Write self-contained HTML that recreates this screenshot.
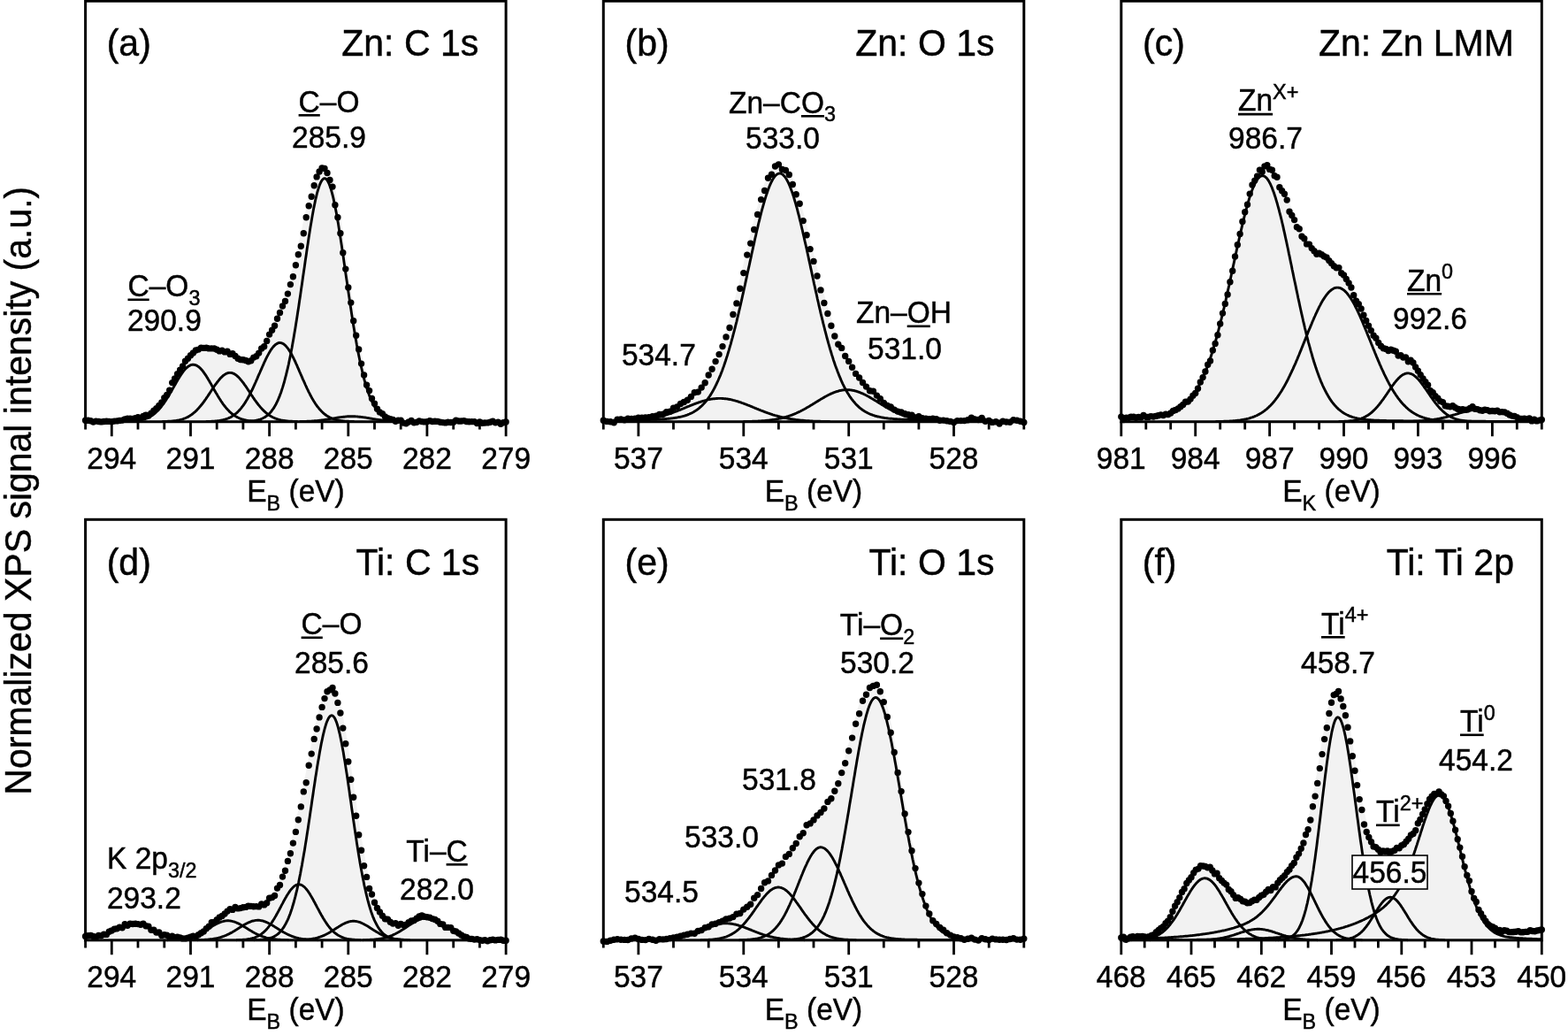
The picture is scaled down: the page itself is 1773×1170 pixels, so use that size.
<!DOCTYPE html>
<html lang="en">
<head>
<meta charset="utf-8">
<title>XPS spectra</title>
<style>
html,body{margin:0;padding:0;background:#fff;}
body{width:1773px;height:1170px;overflow:hidden;}
svg{display:block;}
svg text{font-family:"Liberation Sans", sans-serif;fill:#000;stroke:#000;stroke-width:0.45px;}
</style>
</head>
<body>
<svg width="1773" height="1170" viewBox="0 0 1773 1170">
<rect x="0" y="0" width="1773" height="1170" fill="#fff"/>
<polygon points="96.6,476.7 96.6,476.7 97.6,476.7 98.5,476.7 99.5,476.7 100.4,476.7 101.4,476.7 102.3,476.7 103.3,476.6 104.2,476.6 105.2,476.6 106.1,476.6 107.1,476.6 108,476.6 109,476.6 109.9,476.6 110.9,476.6 111.8,476.6 112.8,476.5 113.8,476.5 114.7,476.5 115.7,476.5 116.6,476.5 117.6,476.4 118.5,476.4 119.5,476.4 120.4,476.3 121.4,476.3 122.3,476.3 123.3,476.2 124.2,476.2 125.2,476.2 126.1,476.1 127.1,476.1 128,476 129,476 130,475.9 130.9,475.8 131.9,475.8 132.8,475.7 133.8,475.6 134.7,475.5 135.7,475.4 136.6,475.4 137.6,475.3 138.5,475.2 139.5,475.1 140.4,475 141.4,474.8 142.3,474.7 143.3,474.6 144.2,474.5 145.2,474.3 146.2,474.2 147.1,474 148.1,473.9 149,473.7 150,473.5 150.9,473.4 151.9,473.2 152.8,473 153.8,472.8 154.7,472.5 155.7,472.3 156.6,472 157.6,471.8 158.5,471.5 159.5,471.2 160.4,470.9 161.4,470.6 162.4,470.2 163.3,469.8 164.3,469.4 165.2,469 166.2,468.6 167.1,468.1 168.1,467.6 169,467 170,466.4 170.9,465.8 171.9,465.2 172.8,464.5 173.8,463.7 174.7,462.9 175.7,462.1 176.6,461.2 177.6,460.3 178.5,459.3 179.5,458.3 180.5,457.2 181.4,456.1 182.4,454.9 183.3,453.7 184.3,452.4 185.2,451.1 186.2,449.7 187.1,448.2 188.1,446.7 189,445.2 190,443.6 190.9,442 191.9,440.4 192.8,438.7 193.8,437 194.7,435.2 195.7,433.5 196.7,431.7 197.6,429.9 198.6,428.1 199.5,426.3 200.5,424.5 201.4,422.7 202.4,420.9 203.3,419.1 204.3,417.4 205.2,415.7 206.2,414.1 207.1,412.4 208.1,410.9 209,409.3 210,407.9 210.9,406.5 211.9,405.1 212.9,403.9 213.8,402.7 214.8,401.5 215.7,400.5 216.7,399.5 217.6,398.6 218.6,397.7 219.5,396.9 220.5,396.2 221.4,395.6 222.4,395.1 223.3,394.6 224.3,394.2 225.2,393.8 226.2,393.5 227.1,393.2 228.1,393 229.1,392.9 230,392.8 231,392.7 231.9,392.7 232.9,392.7 233.8,392.7 234.8,392.8 235.7,392.8 236.7,392.9 237.6,393.1 238.6,393.2 239.5,393.3 240.5,393.5 241.4,393.7 242.4,393.8 243.3,394 244.3,394.2 245.3,394.4 246.2,394.6 247.2,394.8 248.1,395.1 249.1,395.3 250,395.6 251,395.8 251.9,396.1 252.9,396.4 253.8,396.7 254.8,397.1 255.7,397.4 256.7,397.8 257.6,398.2 258.6,398.6 259.5,399 260.5,399.4 261.5,399.9 262.4,400.3 263.4,400.8 264.3,401.3 265.3,401.8 266.2,402.2 267.2,402.7 268.1,403.2 269.1,403.7 270,404.1 271,404.5 271.9,404.9 272.9,405.3 273.8,405.6 274.8,405.9 275.7,406.2 276.7,406.4 277.7,406.5 278.6,406.6 279.6,406.6 280.5,406.5 281.5,406.4 282.4,406.1 283.4,405.8 284.3,405.5 285.3,405 286.2,404.4 287.2,403.8 288.1,403 289.1,402.2 290,401.3 291,400.3 291.9,399.2 292.9,398.1 293.9,396.8 294.8,395.5 295.8,394.1 296.7,392.7 297.7,391.2 298.6,389.6 299.6,388 300.5,386.3 301.5,384.6 302.4,382.8 303.4,381 304.3,379.1 305.3,377.3 306.2,375.4 307.2,373.4 308.1,371.5 309.1,369.5 310.1,367.5 311,365.5 312,363.4 312.9,361.3 313.9,359.2 314.8,357.1 315.8,355 316.7,352.8 317.7,350.6 318.6,348.3 319.6,346 320.5,343.6 321.5,341.2 322.4,338.7 323.4,336.1 324.3,333.5 325.3,330.8 326.3,328 327.2,325.1 328.2,322.1 329.1,319 330.1,315.8 331,312.5 332,309.1 332.9,305.6 333.9,301.9 334.8,298.2 335.8,294.4 336.7,290.4 337.7,286.4 338.6,282.2 339.6,278 340.5,273.7 341.5,269.4 342.4,265 343.4,260.5 344.4,256.1 345.3,251.6 346.3,247.1 347.2,242.7 348.2,238.3 349.1,234 350.1,229.8 351,225.7 352,221.7 352.9,217.8 353.9,214.2 354.8,210.7 355.8,207.4 356.7,204.4 357.7,201.6 358.6,199 359.6,196.8 360.6,194.9 361.5,193.3 362.5,192 363.4,191 364.4,190.4 365.3,190.2 366.3,190.4 367.2,190.9 368.2,191.8 369.1,193 370.1,194.7 371,196.7 372,199.1 372.9,201.9 373.9,205 374.8,208.4 375.8,212.2 376.8,216.3 377.7,220.7 378.7,225.4 379.6,230.4 380.6,235.6 381.5,241.1 382.5,246.7 383.4,252.6 384.4,258.6 385.3,264.8 386.3,271.1 387.2,277.5 388.2,284 389.1,290.6 390.1,297.2 391,303.8 392,310.4 393,317 393.9,323.6 394.9,330.1 395.8,336.5 396.8,342.9 397.7,349.2 398.7,355.3 399.6,361.3 400.6,367.2 401.5,372.9 402.5,378.5 403.4,383.9 404.4,389.1 405.3,394.2 406.3,399.1 407.2,403.8 408.2,408.3 409.2,412.6 410.1,416.8 411.1,420.7 412,424.5 413,428.1 413.9,431.5 414.9,434.7 415.8,437.8 416.8,440.7 417.7,443.4 418.7,445.9 419.6,448.3 420.6,450.6 421.5,452.7 422.5,454.7 423.4,456.5 424.4,458.2 425.4,459.8 426.3,461.3 427.3,462.6 428.2,463.9 429.2,465.1 430.1,466.1 431.1,467.1 432,468 433,468.9 433.9,469.6 434.9,470.3 435.8,471 436.8,471.6 437.7,472.1 438.7,472.6 439.6,473 440.6,473.4 441.6,473.8 442.5,474.1 443.5,474.4 444.4,474.6 445.4,474.9 446.3,475.1 447.3,475.3 448.2,475.4 449.2,475.6 450.1,475.7 451.1,475.8 452,475.9 453,476 453.9,476.1 454.9,476.2 455.8,476.3 456.8,476.3 457.8,476.4 458.7,476.4 459.7,476.4 460.6,476.5 461.6,476.5 462.5,476.5 463.5,476.6 464.4,476.6 465.4,476.6 466.3,476.6 467.3,476.6 468.2,476.6 469.2,476.6 470.1,476.7 471.1,476.7 472,476.7 473,476.7 474,476.7 474.9,476.7 475.9,476.7 476.8,476.7 477.8,476.7 478.7,476.7 479.7,476.7 480.6,476.7 481.6,476.7 482.5,476.7 483.5,476.7 484.4,476.7 485.4,476.7 486.3,476.7 487.3,476.7 488.2,476.7 489.2,476.7 490.2,476.7 491.1,476.7 492.1,476.7 493,476.7 494,476.7 494.9,476.7 495.9,476.7 496.8,476.7 497.8,476.7 498.7,476.7 499.7,476.7 500.6,476.7 501.6,476.7 502.5,476.7 503.5,476.7 504.4,476.7 505.4,476.7 506.3,476.7 507.3,476.7 508.3,476.7 509.2,476.7 510.2,476.7 511.1,476.7 512.1,476.7 513,476.7 514,476.7 514.9,476.7 515.9,476.7 516.8,476.7 517.8,476.7 518.7,476.7 519.7,476.7 520.6,476.7 521.6,476.7 522.5,476.7 523.5,476.7 524.5,476.7 525.4,476.7 526.4,476.7 527.3,476.7 528.3,476.7 529.2,476.7 530.2,476.7 531.1,476.7 532.1,476.7 533,476.7 534,476.7 534.9,476.7 535.9,476.7 536.8,476.7 537.8,476.7 538.7,476.7 539.7,476.7 540.7,476.7 541.6,476.7 542.6,476.7 543.5,476.7 544.5,476.7 545.4,476.7 546.4,476.7 547.3,476.7 548.3,476.7 549.2,476.7 550.2,476.7 551.1,476.7 552.1,476.7 553,476.7 554,476.7 554.9,476.7 555.9,476.7 556.9,476.7 557.8,476.7 558.8,476.7 559.7,476.7 560.7,476.7 561.6,476.7 562.6,476.7 563.5,476.7 564.5,476.7 565.4,476.7 566.4,476.7 567.3,476.7 568.3,476.7 569.2,476.7 570.2,476.7 571.1,476.7 572.1,476.7 572.1,476.7" fill="#f2f2f2" stroke="#f2f2f2" stroke-width="5" stroke-linejoin="round"/>
<polyline points="141.4,476.6 142.3,476.5 143.3,476.5 144.2,476.5 145.2,476.4 146.2,476.4 147.1,476.4 148.1,476.3 149,476.2 150,476.2 150.9,476.1 151.9,476 152.8,475.9 153.8,475.8 154.7,475.7 155.7,475.6 156.6,475.4 157.6,475.3 158.5,475.1 159.5,474.9 160.4,474.6 161.4,474.4 162.4,474.1 163.3,473.8 164.3,473.5 165.2,473.2 166.2,472.8 167.1,472.4 168.1,471.9 169,471.4 170,470.9 170.9,470.3 171.9,469.7 172.8,469.1 173.8,468.4 174.7,467.6 175.7,466.8 176.6,465.9 177.6,465 178.5,464.1 179.5,463.1 180.5,462 181.4,460.9 182.4,459.7 183.3,458.5 184.3,457.2 185.2,455.9 186.2,454.5 187.1,453.1 188.1,451.6 189,450.1 190,448.6 190.9,447 191.9,445.4 192.8,443.8 193.8,442.1 194.7,440.4 195.7,438.7 196.7,437.1 197.6,435.4 198.6,433.7 199.5,432 200.5,430.4 201.4,428.8 202.4,427.2 203.3,425.7 204.3,424.2 205.2,422.8 206.2,421.4 207.1,420.1 208.1,418.9 209,417.8 210,416.8 210.9,415.8 211.9,415 212.9,414.2 213.8,413.6 214.8,413.1 215.7,412.7 216.7,412.4 217.6,412.2 218.6,412.2 219.5,412.3 220.5,412.5 221.4,412.8 222.4,413.2 223.3,413.8 224.3,414.4 225.2,415.2 226.2,416 227.1,417 228.1,418.1 229.1,419.2 230,420.5 231,421.8 231.9,423.1 232.9,424.6 233.8,426.1 234.8,427.6 235.7,429.2 236.7,430.8 237.6,432.5 238.6,434.1 239.5,435.8 240.5,437.5 241.4,439.2 242.4,440.9 243.3,442.5 244.3,444.2 245.3,445.8 246.2,447.4 247.2,449 248.1,450.5 249.1,452 250,453.5 251,454.9 251.9,456.3 252.9,457.6 253.8,458.8 254.8,460 255.7,461.2 256.7,462.3 257.6,463.3 258.6,464.3 259.5,465.3 260.5,466.2 261.5,467 262.4,467.8 263.4,468.5 264.3,469.2 265.3,469.9 266.2,470.5 267.2,471 268.1,471.6 269.1,472 270,472.5 271,472.9 271.9,473.3 272.9,473.6 273.8,473.9 274.8,474.2 275.7,474.5 276.7,474.7 277.7,474.9 278.6,475.1 279.6,475.3 280.5,475.5 281.5,475.6 282.4,475.7 283.4,475.8 284.3,475.9 285.3,476 286.2,476.1 287.2,476.2 288.1,476.3 289.1,476.3 290,476.4 291,476.4 291.9,476.4 292.9,476.5 293.9,476.5 294.8,476.5 295.8,476.6" fill="none" stroke="#000" stroke-width="2.9" stroke-linejoin="round"/>
<polyline points="183.3,476.6 184.3,476.5 185.2,476.5 186.2,476.5 187.1,476.5 188.1,476.4 189,476.4 190,476.3 190.9,476.3 191.9,476.2 192.8,476.2 193.8,476.1 194.7,476 195.7,475.9 196.7,475.8 197.6,475.7 198.6,475.6 199.5,475.4 200.5,475.2 201.4,475.1 202.4,474.9 203.3,474.7 204.3,474.4 205.2,474.2 206.2,473.9 207.1,473.6 208.1,473.2 209,472.9 210,472.5 210.9,472 211.9,471.6 212.9,471.1 213.8,470.5 214.8,469.9 215.7,469.3 216.7,468.7 217.6,468 218.6,467.2 219.5,466.4 220.5,465.6 221.4,464.7 222.4,463.8 223.3,462.8 224.3,461.8 225.2,460.7 226.2,459.6 227.1,458.5 228.1,457.3 229.1,456 230,454.8 231,453.5 231.9,452.1 232.9,450.8 233.8,449.4 234.8,448 235.7,446.6 236.7,445.1 237.6,443.7 238.6,442.2 239.5,440.8 240.5,439.3 241.4,437.9 242.4,436.5 243.3,435.2 244.3,433.8 245.3,432.5 246.2,431.3 247.2,430.1 248.1,428.9 249.1,427.8 250,426.8 251,425.9 251.9,425 252.9,424.2 253.8,423.6 254.8,423 255.7,422.4 256.7,422 257.6,421.7 258.6,421.5 259.5,421.4 260.5,421.4 261.5,421.5 262.4,421.7 263.4,422 264.3,422.4 265.3,422.9 266.2,423.5 267.2,424.2 268.1,425 269.1,425.8 270,426.8 271,427.8 271.9,428.9 272.9,430 273.8,431.2 274.8,432.4 275.7,433.7 276.7,435.1 277.7,436.4 278.6,437.8 279.6,439.3 280.5,440.7 281.5,442.1 282.4,443.6 283.4,445 284.3,446.5 285.3,447.9 286.2,449.3 287.2,450.7 288.1,452.1 289.1,453.4 290,454.7 291,456 291.9,457.2 292.9,458.4 293.9,459.6 294.8,460.7 295.8,461.7 296.7,462.8 297.7,463.7 298.6,464.7 299.6,465.5 300.5,466.4 301.5,467.2 302.4,467.9 303.4,468.6 304.3,469.3 305.3,469.9 306.2,470.5 307.2,471 308.1,471.5 309.1,472 310.1,472.4 311,472.8 312,473.2 312.9,473.5 313.9,473.9 314.8,474.1 315.8,474.4 316.7,474.6 317.7,474.9 318.6,475.1 319.6,475.2 320.5,475.4 321.5,475.5 322.4,475.7 323.4,475.8 324.3,475.9 325.3,476 326.3,476.1 327.2,476.2 328.2,476.2 329.1,476.3 330.1,476.3 331,476.4 332,476.4 332.9,476.5 333.9,476.5 334.8,476.5 335.8,476.5 336.7,476.6" fill="none" stroke="#000" stroke-width="2.9" stroke-linejoin="round"/>
<polyline points="232.9,476.6 233.8,476.5 234.8,476.5 235.7,476.5 236.7,476.4 237.6,476.4 238.6,476.4 239.5,476.3 240.5,476.3 241.4,476.2 242.4,476.1 243.3,476 244.3,476 245.3,475.9 246.2,475.7 247.2,475.6 248.1,475.5 249.1,475.3 250,475.2 251,475 251.9,474.8 252.9,474.5 253.8,474.3 254.8,474 255.7,473.7 256.7,473.4 257.6,473 258.6,472.6 259.5,472.2 260.5,471.7 261.5,471.2 262.4,470.6 263.4,470 264.3,469.4 265.3,468.7 266.2,467.9 267.2,467.1 268.1,466.3 269.1,465.4 270,464.4 271,463.4 271.9,462.3 272.9,461.1 273.8,459.9 274.8,458.6 275.7,457.3 276.7,455.9 277.7,454.4 278.6,452.8 279.6,451.2 280.5,449.5 281.5,447.8 282.4,446 283.4,444.1 284.3,442.2 285.3,440.3 286.2,438.3 287.2,436.2 288.1,434.1 289.1,432 290,429.8 291,427.6 291.9,425.4 292.9,423.2 293.9,421 294.8,418.8 295.8,416.6 296.7,414.5 297.7,412.3 298.6,410.2 299.6,408.2 300.5,406.2 301.5,404.2 302.4,402.4 303.4,400.6 304.3,398.9 305.3,397.2 306.2,395.7 307.2,394.3 308.1,393.1 309.1,391.9 310.1,390.9 311,390 312,389.2 312.9,388.6 313.9,388.1 314.8,387.7 315.8,387.5 316.7,387.5 317.7,387.6 318.6,387.9 319.6,388.3 320.5,388.8 321.5,389.5 322.4,390.3 323.4,391.3 324.3,392.4 325.3,393.6 326.3,394.9 327.2,396.4 328.2,397.9 329.1,399.6 330.1,401.3 331,403.1 332,405 332.9,407 333.9,409 334.8,411.1 335.8,413.2 336.7,415.4 337.7,417.6 338.6,419.8 339.6,422 340.5,424.2 341.5,426.4 342.4,428.6 343.4,430.7 344.4,432.9 345.3,435 346.3,437.1 347.2,439.1 348.2,441.1 349.1,443.1 350.1,444.9 351,446.8 352,448.6 352.9,450.3 353.9,451.9 354.8,453.5 355.8,455 356.7,456.5 357.7,457.9 358.6,459.2 359.6,460.4 360.6,461.6 361.5,462.8 362.5,463.8 363.4,464.8 364.4,465.8 365.3,466.7 366.3,467.5 367.2,468.3 368.2,469 369.1,469.7 370.1,470.3 371,470.9 372,471.4 372.9,471.9 373.9,472.3 374.8,472.8 375.8,473.1 376.8,473.5 377.7,473.8 378.7,474.1 379.6,474.4 380.6,474.6 381.5,474.8 382.5,475 383.4,475.2 384.4,475.4 385.3,475.5 386.3,475.7 387.2,475.8 388.2,475.9 389.1,476 390.1,476.1 391,476.2 392,476.2 393,476.3 393.9,476.3 394.9,476.4 395.8,476.4 396.8,476.5 397.7,476.5 398.7,476.5 399.6,476.5 400.6,476.6" fill="none" stroke="#000" stroke-width="2.9" stroke-linejoin="round"/>
<polyline points="273.8,476.6 274.8,476.5 275.7,476.5 276.7,476.5 277.7,476.4 278.6,476.4 279.6,476.3 280.5,476.3 281.5,476.2 282.4,476.2 283.4,476.1 284.3,476 285.3,475.9 286.2,475.8 287.2,475.6 288.1,475.5 289.1,475.3 290,475.1 291,474.9 291.9,474.7 292.9,474.4 293.9,474.1 294.8,473.8 295.8,473.4 296.7,473 297.7,472.5 298.6,472 299.6,471.5 300.5,470.8 301.5,470.2 302.4,469.4 303.4,468.6 304.3,467.7 305.3,466.7 306.2,465.7 307.2,464.5 308.1,463.2 309.1,461.9 310.1,460.4 311,458.8 312,457 312.9,455.2 313.9,453.2 314.8,451 315.8,448.7 316.7,446.3 317.7,443.7 318.6,440.9 319.6,437.9 320.5,434.8 321.5,431.5 322.4,427.9 323.4,424.2 324.3,420.4 325.3,416.3 326.3,412 327.2,407.5 328.2,402.9 329.1,398 330.1,393 331,387.7 332,382.3 332.9,376.8 333.9,371 334.8,365.2 335.8,359.1 336.7,353 337.7,346.7 338.6,340.3 339.6,333.9 340.5,327.4 341.5,320.8 342.4,314.2 343.4,307.5 344.4,300.9 345.3,294.3 346.3,287.8 347.2,281.3 348.2,275 349.1,268.7 350.1,262.6 351,256.7 352,250.9 352.9,245.4 353.9,240.1 354.8,235.1 355.8,230.4 356.7,225.9 357.7,221.8 358.6,218 359.6,214.6 360.6,211.6 361.5,208.9 362.5,206.7 363.4,204.8 364.4,203.4 365.3,202.4 366.3,201.8 367.2,201.7 368.2,202 369.1,202.7 370.1,203.9 371,205.5 372,207.5 372.9,209.9 373.9,212.7 374.8,215.9 375.8,219.5 376.8,223.4 377.7,227.6 378.7,232.2 379.6,237 380.6,242.1 381.5,247.5 382.5,253.1 383.4,259 384.4,265 385.3,271.1 386.3,277.4 387.2,283.8 388.2,290.3 389.1,296.9 390.1,303.5 391,310.1 392,316.7 393,323.3 393.9,329.9 394.9,336.4 395.8,342.8 396.8,349.2 397.7,355.4 398.7,361.5 399.6,367.5 400.6,373.3 401.5,379 402.5,384.5 403.4,389.8 404.4,394.9 405.3,399.9 406.3,404.7 407.2,409.3 408.2,413.7 409.2,417.9 410.1,421.9 411.1,425.7 412,429.3 413,432.8 413.9,436 414.9,439.1 415.8,442 416.8,444.7 417.7,447.3 418.7,449.6 419.6,451.9 420.6,454 421.5,455.9 422.5,457.7 423.4,459.4 424.4,461 425.4,462.4 426.3,463.7 427.3,465 428.2,466.1 429.2,467.1 430.1,468.1 431.1,468.9 432,469.7 433,470.4 433.9,471.1 434.9,471.7 435.8,472.2 436.8,472.7 437.7,473.1 438.7,473.5 439.6,473.9 440.6,474.2 441.6,474.5 442.5,474.8 443.5,475 444.4,475.2 445.4,475.4 446.3,475.5 447.3,475.7 448.2,475.8 449.2,475.9 450.1,476 451.1,476.1 452,476.2 453,476.3 453.9,476.3 454.9,476.4 455.8,476.4 456.8,476.5 457.8,476.5 458.7,476.5 459.7,476.5 460.6,476.6" fill="none" stroke="#000" stroke-width="2.9" stroke-linejoin="round"/>
<polyline points="338.6,476.6 339.6,476.5 340.5,476.5 341.5,476.5 342.4,476.5 343.4,476.5 344.4,476.4 345.3,476.4 346.3,476.4 347.2,476.3 348.2,476.3 349.1,476.2 350.1,476.2 351,476.1 352,476.1 352.9,476 353.9,476 354.8,475.9 355.8,475.8 356.7,475.7 357.7,475.6 358.6,475.6 359.6,475.5 360.6,475.4 361.5,475.2 362.5,475.1 363.4,475 364.4,474.9 365.3,474.8 366.3,474.6 367.2,474.5 368.2,474.4 369.1,474.2 370.1,474.1 371,473.9 372,473.8 372.9,473.6 373.9,473.4 374.8,473.3 375.8,473.1 376.8,473 377.7,472.8 378.7,472.6 379.6,472.5 380.6,472.3 381.5,472.2 382.5,472 383.4,471.9 384.4,471.7 385.3,471.6 386.3,471.5 387.2,471.4 388.2,471.3 389.1,471.2 390.1,471.1 391,471 392,470.9 393,470.8 393.9,470.8 394.9,470.8 395.8,470.7 396.8,470.7 397.7,470.7 398.7,470.7 399.6,470.7 400.6,470.8 401.5,470.8 402.5,470.9 403.4,470.9 404.4,471 405.3,471.1 406.3,471.2 407.2,471.3 408.2,471.4 409.2,471.5 410.1,471.6 411.1,471.8 412,471.9 413,472 413.9,472.2 414.9,472.4 415.8,472.5 416.8,472.7 417.7,472.8 418.7,473 419.6,473.2 420.6,473.3 421.5,473.5 422.5,473.6 423.4,473.8 424.4,473.9 425.4,474.1 426.3,474.2 427.3,474.4 428.2,474.5 429.2,474.7 430.1,474.8 431.1,474.9 432,475 433,475.2 433.9,475.3 434.9,475.4 435.8,475.5 436.8,475.6 437.7,475.7 438.7,475.7 439.6,475.8 440.6,475.9 441.6,476 442.5,476 443.5,476.1 444.4,476.1 445.4,476.2 446.3,476.2 447.3,476.3 448.2,476.3 449.2,476.4 450.1,476.4 451.1,476.4 452,476.5 453,476.5 453.9,476.5 454.9,476.5 455.8,476.5 456.8,476.6" fill="none" stroke="#000" stroke-width="2.9" stroke-linejoin="round"/>
<path d="M96.6 475.3h0M99.6 475.2h0M102.5 475.8h0M105.5 477.1h0M108.5 476.1h0M111.5 476.5h0M114.4 476.9h0M117.4 476.5h0M120.4 476.3h0M123.3 476.4h0M126.3 476.8h0M129.3 476.1h0M132.3 475.9h0M135.2 475.4h0M138.2 475.1h0M141.2 473.9h0M144.2 473.2h0M147.1 473.2h0M150.1 473.5h0M153.1 472.8h0M156 471.6h0M159 472.4h0M162 470.4h0M165 469.2h0M167.9 469.9h0M170.9 467.2h0M173.9 464.1h0M176.8 461.7h0M179.8 458.5h0M182.8 455h0M185.8 449.6h0M188.7 446.5h0M191.7 441.3h0M194.7 432.6h0M197.6 427.9h0M200.6 422.7h0M203.6 418.3h0M206.6 414h0M209.5 408.2h0M212.5 405.3h0M215.5 401.8h0M218.4 399h0M221.4 396h0M224.4 395.1h0M227.4 393.1h0M230.3 393.4h0M233.3 393.2h0M236.3 393.9h0M239.3 393.9h0M242.2 394h0M245.2 395.2h0M248.2 396.9h0M251.1 396.1h0M254.1 397.9h0M257.1 397.1h0M260.1 400.4h0M263 399.7h0M266 402.4h0M269 405.2h0M271.9 406.5h0M274.9 406.8h0M277.9 407.5h0M280.9 408.7h0M283.8 407.7h0M286.8 404.1h0M289.8 402.7h0M292.7 399.1h0M295.7 394h0M298.7 391.8h0M301.7 385.4h0M304.6 378.1h0M307.6 373.2h0M310.6 368.3h0M313.5 360.2h0M316.5 353.5h0M319.5 346h0M322.5 340.4h0M325.4 332.1h0M328.4 321.6h0M331.4 312.8h0M334.4 299.8h0M337.3 287.7h0M340.3 278.2h0M343.3 263.8h0M346.2 245.8h0M349.2 232.7h0M352.2 222.3h0M355.2 209.7h0M358.1 199.9h0M361.1 194h0M364.1 190h0M367 190.4h0M370 195.5h0M373 203.5h0M376 211.1h0M378.9 231.7h0M381.9 245.7h0M384.9 263.7h0M387.8 285.8h0M390.8 304.1h0M393.8 324.9h0M396.8 342.1h0M399.7 362.8h0M402.7 379.3h0M405.7 394.9h0M408.6 411.1h0M411.6 424h0M414.6 435.2h0M417.6 441.6h0M420.5 450.5h0M423.5 456.3h0M426.5 462.2h0M429.4 465.9h0M432.4 467.6h0M435.4 470.9h0M438.4 472.7h0M441.3 473.8h0M444.3 474.4h0M447.3 476.2h0M450.3 475.3h0M453.2 475.1h0M456.2 478.1h0M459.2 478.7h0M462.1 477h0M465.1 475.4h0M468.1 477.8h0M471.1 477.3h0M474 475.9h0M477 476.6h0M480 476.9h0M482.9 476.6h0M485.9 475.7h0M488.9 476.5h0M491.9 476.3h0M494.8 476.4h0M497.8 477.2h0M500.8 477.6h0M503.7 477.9h0M506.7 477.2h0M509.7 477.5h0M512.7 477.3h0M515.6 475.2h0M518.6 476h0M521.6 476h0M524.5 475.6h0M527.5 476.5h0M530.5 476.7h0M533.5 476.6h0M536.4 476.6h0M539.4 478.6h0M542.4 476.9h0M545.4 478.2h0M548.3 478h0M551.3 477.9h0M554.3 477.3h0M557.2 476.1h0M560.2 477.7h0M563.2 477.3h0M566.2 479.2h0M569.1 477.8h0M572.1 476.9h0" fill="none" stroke="#000" stroke-width="7.4" stroke-linecap="round"/>
<rect x="96.6" y="1.2" width="475.5" height="475.5" fill="none" stroke="#000" stroke-width="3.0"/>
<path d="M572.1 476.7v16.5M542.4 476.7v8.8M512.7 476.7v8.8M482.9 476.7v16.5M453.2 476.7v8.8M423.5 476.7v8.8M393.8 476.7v16.5M364.1 476.7v8.8M334.4 476.7v8.8M304.6 476.7v16.5M274.9 476.7v8.8M245.2 476.7v8.8M215.5 476.7v16.5M185.8 476.7v8.8M156 476.7v8.8M126.3 476.7v16.5M96.6 476.7v8.8" fill="none" stroke="#000" stroke-width="2.8"/>
<text transform="translate(0,529.9) scale(1,1.04)" x="572.1" y="0" font-size="33.5" text-anchor="middle">279</text>
<text transform="translate(0,529.9) scale(1,1.04)" x="482.9" y="0" font-size="33.5" text-anchor="middle">282</text>
<text transform="translate(0,529.9) scale(1,1.04)" x="393.8" y="0" font-size="33.5" text-anchor="middle">285</text>
<text transform="translate(0,529.9) scale(1,1.04)" x="304.6" y="0" font-size="33.5" text-anchor="middle">288</text>
<text transform="translate(0,529.9) scale(1,1.04)" x="215.5" y="0" font-size="33.5" text-anchor="middle">291</text>
<text transform="translate(0,529.9) scale(1,1.04)" x="126.3" y="0" font-size="33.5" text-anchor="middle">294</text>
<text transform="translate(0,63.2) scale(1,1.04)" font-size="41"><tspan x="120.7" y="0">(a)</tspan></text>
<text transform="translate(0,63.2) scale(1,1.04)" font-size="41"><tspan x="386.3" y="0">Zn: C 1s</tspan></text>
<text transform="translate(0,126.5) scale(1,1.04)" font-size="33.5"><tspan x="337.6" y="0">C</tspan><tspan x="361.8" y="0">–O</tspan></text><line x1="337.6" y1="130.3" x2="361.8" y2="130.3" stroke="#000" stroke-width="2.6"/>
<text transform="translate(0,167.2) scale(1,1.04)" font-size="33.5"><tspan x="330.1" y="0">285.9</tspan></text>
<text transform="translate(0,335) scale(1,1.04)" font-size="33.5"><tspan x="144.5" y="0">C</tspan><tspan x="168.7" y="0">–O</tspan><tspan x="213.4" y="9.5" font-size="23.4">3</tspan></text><line x1="144.5" y1="338.8" x2="168.7" y2="338.8" stroke="#000" stroke-width="2.6"/>
<text transform="translate(0,374.3) scale(1,1.04)" font-size="33.5"><tspan x="144" y="0">290.9</tspan></text>
<text transform="translate(0,567) scale(1,1.04)" font-size="33.5"><tspan x="279.2" y="0">E</tspan><tspan x="301.6" y="9.5" font-size="23.4">B</tspan><tspan x="317.2" y="0"> (eV)</tspan></text>
<polygon points="682.3,476.7 682.3,475.4 683.3,475.4 684.2,475.4 685.2,475.3 686.1,475.3 687.1,475.3 688,475.3 689,475.3 689.9,475.2 690.9,475.2 691.8,475.2 692.8,475.2 693.7,475.1 694.7,475.1 695.6,475.1 696.6,475 697.5,475 698.5,475 699.5,474.9 700.4,474.9 701.4,474.8 702.3,474.8 703.3,474.8 704.2,474.7 705.2,474.7 706.1,474.6 707.1,474.5 708,474.5 709,474.4 709.9,474.4 710.9,474.3 711.8,474.2 712.8,474.2 713.7,474.1 714.7,474 715.7,473.9 716.6,473.8 717.6,473.7 718.5,473.6 719.5,473.5 720.4,473.4 721.4,473.3 722.3,473.2 723.3,473.1 724.2,473 725.2,472.9 726.1,472.7 727.1,472.6 728,472.4 729,472.3 729.9,472.1 730.9,472 731.9,471.8 732.8,471.6 733.8,471.4 734.7,471.2 735.7,471 736.6,470.8 737.6,470.6 738.5,470.4 739.5,470.2 740.4,469.9 741.4,469.7 742.3,469.4 743.3,469.1 744.2,468.9 745.2,468.6 746.1,468.3 747.1,468 748.1,467.7 749,467.3 750,467 750.9,466.7 751.9,466.3 752.8,466 753.8,465.6 754.7,465.2 755.7,464.8 756.6,464.4 757.6,464 758.5,463.5 759.5,463.1 760.4,462.6 761.4,462.1 762.3,461.7 763.3,461.2 764.2,460.6 765.2,460.1 766.2,459.6 767.1,459 768.1,458.5 769,457.9 770,457.3 770.9,456.7 771.9,456 772.8,455.4 773.8,454.7 774.7,454 775.7,453.3 776.6,452.6 777.6,451.9 778.5,451.1 779.5,450.3 780.4,449.5 781.4,448.7 782.4,447.8 783.3,447 784.3,446.1 785.2,445.1 786.2,444.2 787.1,443.2 788.1,442.2 789,441.2 790,440.1 790.9,439 791.9,437.9 792.8,436.7 793.8,435.5 794.7,434.3 795.7,433 796.6,431.7 797.6,430.3 798.6,428.9 799.5,427.5 800.5,426 801.4,424.4 802.4,422.9 803.3,421.2 804.3,419.5 805.2,417.8 806.2,416 807.1,414.2 808.1,412.3 809,410.3 810,408.3 810.9,406.2 811.9,404.1 812.8,401.9 813.8,399.6 814.8,397.3 815.7,394.9 816.7,392.4 817.6,389.9 818.6,387.3 819.5,384.6 820.5,381.9 821.4,379.1 822.4,376.2 823.3,373.3 824.3,370.2 825.2,367.2 826.2,364 827.1,360.8 828.1,357.5 829,354.2 830,350.8 831,347.3 831.9,343.8 832.9,340.2 833.8,336.6 834.8,332.9 835.7,329.1 836.7,325.3 837.6,321.5 838.6,317.6 839.5,313.7 840.5,309.8 841.4,305.8 842.4,301.8 843.3,297.8 844.3,293.7 845.2,289.7 846.2,285.6 847.2,281.5 848.1,277.5 849.1,273.4 850,269.4 851,265.4 851.9,261.4 852.9,257.5 853.8,253.6 854.8,249.7 855.7,245.9 856.7,242.2 857.6,238.5 858.6,234.9 859.5,231.4 860.5,228 861.4,224.6 862.4,221.4 863.4,218.2 864.3,215.2 865.3,212.3 866.2,209.6 867.2,206.9 868.1,204.4 869.1,202.1 870,199.9 871,197.8 871.9,195.9 872.9,194.2 873.8,192.7 874.8,191.3 875.7,190.1 876.7,189.1 877.6,188.2 878.6,187.6 879.6,187.1 880.5,186.9 881.5,186.8 882.4,186.9 883.4,187.2 884.3,187.6 885.3,188.3 886.2,189.2 887.2,190.2 888.1,191.4 889.1,192.8 890,194.3 891,196.1 891.9,197.9 892.9,200 893.8,202.2 894.8,204.5 895.8,207 896.7,209.6 897.7,212.4 898.6,215.2 899.6,218.2 900.5,221.3 901.5,224.5 902.4,227.8 903.4,231.2 904.3,234.6 905.3,238.1 906.2,241.7 907.2,245.4 908.1,249.1 909.1,252.9 910,256.7 911,260.5 912,264.3 912.9,268.2 913.9,272.1 914.8,276 915.8,279.9 916.7,283.8 917.7,287.7 918.6,291.6 919.6,295.4 920.5,299.3 921.5,303.1 922.4,306.9 923.4,310.6 924.3,314.3 925.3,318 926.2,321.6 927.2,325.1 928.1,328.6 929.1,332.1 930.1,335.5 931,338.8 932,342.1 932.9,345.3 933.9,348.5 934.8,351.6 935.8,354.6 936.7,357.6 937.7,360.5 938.6,363.3 939.6,366.1 940.5,368.8 941.5,371.4 942.4,374 943.4,376.5 944.3,378.9 945.3,381.3 946.3,383.6 947.2,385.8 948.2,388 949.1,390.1 950.1,392.2 951,394.2 952,396.2 952.9,398.1 953.9,400 954.8,401.8 955.8,403.5 956.7,405.2 957.7,406.9 958.6,408.5 959.6,410.1 960.5,411.7 961.5,413.2 962.5,414.6 963.4,416.1 964.4,417.5 965.3,418.8 966.3,420.2 967.2,421.5 968.2,422.8 969.1,424 970.1,425.2 971,426.4 972,427.6 972.9,428.8 973.9,429.9 974.8,431 975.8,432.1 976.7,433.2 977.7,434.3 978.7,435.3 979.6,436.3 980.6,437.3 981.5,438.3 982.5,439.3 983.4,440.3 984.4,441.2 985.3,442.2 986.3,443.1 987.2,444 988.2,444.9 989.1,445.8 990.1,446.6 991,447.5 992,448.3 992.9,449.1 993.9,449.9 994.9,450.7 995.8,451.5 996.8,452.3 997.7,453 998.7,453.8 999.6,454.5 1000.6,455.2 1001.5,455.9 1002.5,456.6 1003.4,457.3 1004.4,457.9 1005.3,458.6 1006.3,459.2 1007.2,459.8 1008.2,460.4 1009.1,461 1010.1,461.5 1011.1,462.1 1012,462.6 1013,463.1 1013.9,463.6 1014.9,464.1 1015.8,464.6 1016.8,465.1 1017.7,465.5 1018.7,465.9 1019.6,466.4 1020.6,466.8 1021.5,467.2 1022.5,467.5 1023.4,467.9 1024.4,468.3 1025.3,468.6 1026.3,468.9 1027.3,469.2 1028.2,469.6 1029.2,469.8 1030.1,470.1 1031.1,470.4 1032,470.7 1033,470.9 1033.9,471.1 1034.9,471.4 1035.8,471.6 1036.8,471.8 1037.7,472 1038.7,472.2 1039.6,472.4 1040.6,472.5 1041.5,472.7 1042.5,472.8 1043.5,473 1044.4,473.1 1045.4,473.3 1046.3,473.4 1047.3,473.5 1048.2,473.6 1049.2,473.7 1050.1,473.8 1051.1,473.9 1052,474 1053,474.1 1053.9,474.2 1054.9,474.3 1055.8,474.4 1056.8,474.4 1057.7,474.5 1058.7,474.6 1059.7,474.6 1060.6,474.7 1061.6,474.7 1062.5,474.8 1063.5,474.8 1064.4,474.9 1065.4,474.9 1066.3,475 1067.3,475 1068.2,475.1 1069.2,475.1 1070.1,475.1 1071.1,475.2 1072,475.2 1073,475.2 1073.9,475.2 1074.9,475.3 1075.9,475.3 1076.8,475.3 1077.8,475.3 1078.7,475.4 1079.7,475.4 1080.6,475.4 1081.6,475.4 1082.5,475.4 1083.5,475.5 1084.4,475.5 1085.4,475.5 1086.3,475.5 1087.3,475.5 1088.2,475.5 1089.2,475.5 1090.1,475.6 1091.1,475.6 1092,475.6 1093,475.6 1094,475.6 1094.9,475.6 1095.9,475.6 1096.8,475.6 1097.8,475.6 1098.7,475.7 1099.7,475.7 1100.6,475.7 1101.6,475.7 1102.5,475.7 1103.5,475.7 1104.4,475.7 1105.4,475.7 1106.3,475.7 1107.3,475.7 1108.2,475.7 1109.2,475.8 1110.2,475.8 1111.1,475.8 1112.1,475.8 1113,475.8 1114,475.8 1114.9,475.8 1115.9,475.8 1116.8,475.8 1117.8,475.8 1118.7,475.8 1119.7,475.8 1120.6,475.8 1121.6,475.8 1122.5,475.9 1123.5,475.9 1124.4,475.9 1125.4,475.9 1126.4,475.9 1127.3,475.9 1128.3,475.9 1129.2,475.9 1130.2,475.9 1131.1,475.9 1132.1,475.9 1133,475.9 1134,475.9 1134.9,475.9 1135.9,475.9 1136.8,475.9 1137.8,476 1138.7,476 1139.7,476 1140.6,476 1141.6,476 1142.6,476 1143.5,476 1144.5,476 1145.4,476 1146.4,476 1147.3,476 1148.3,476 1149.2,476 1150.2,476 1151.1,476 1152.1,476 1153,476 1154,476 1154.9,476 1155.9,476 1156.8,476 1157.8,476.1 1157.8,476.7" fill="#f2f2f2" stroke="#f2f2f2" stroke-width="5" stroke-linejoin="round"/>
<polyline points="689,476.6 689.9,476.5 690.9,476.5 691.8,476.5 692.8,476.5 693.7,476.5 694.7,476.5 695.6,476.5 696.6,476.4 697.5,476.4 698.5,476.4 699.5,476.4 700.4,476.3 701.4,476.3 702.3,476.3 703.3,476.3 704.2,476.2 705.2,476.2 706.1,476.2 707.1,476.1 708,476.1 709,476 709.9,476 710.9,475.9 711.8,475.9 712.8,475.8 713.7,475.8 714.7,475.7 715.7,475.6 716.6,475.6 717.6,475.5 718.5,475.4 719.5,475.4 720.4,475.3 721.4,475.2 722.3,475.1 723.3,475 724.2,474.9 725.2,474.8 726.1,474.7 727.1,474.6 728,474.4 729,474.3 729.9,474.2 730.9,474.1 731.9,473.9 732.8,473.8 733.8,473.6 734.7,473.5 735.7,473.3 736.6,473.1 737.6,472.9 738.5,472.7 739.5,472.6 740.4,472.4 741.4,472.1 742.3,471.9 743.3,471.7 744.2,471.5 745.2,471.2 746.1,471 747.1,470.8 748.1,470.5 749,470.2 750,470 750.9,469.7 751.9,469.4 752.8,469.1 753.8,468.8 754.7,468.5 755.7,468.2 756.6,467.9 757.6,467.6 758.5,467.2 759.5,466.9 760.4,466.6 761.4,466.2 762.3,465.9 763.3,465.5 764.2,465.1 765.2,464.8 766.2,464.4 767.1,464 768.1,463.6 769,463.3 770,462.9 770.9,462.5 771.9,462.1 772.8,461.7 773.8,461.3 774.7,460.9 775.7,460.5 776.6,460.1 777.6,459.7 778.5,459.4 779.5,459 780.4,458.6 781.4,458.2 782.4,457.8 783.3,457.4 784.3,457.1 785.2,456.7 786.2,456.3 787.1,456 788.1,455.6 789,455.3 790,455 790.9,454.6 791.9,454.3 792.8,454 793.8,453.7 794.7,453.4 795.7,453.1 796.6,452.9 797.6,452.6 798.6,452.4 799.5,452.1 800.5,451.9 801.4,451.7 802.4,451.5 803.3,451.4 804.3,451.2 805.2,451 806.2,450.9 807.1,450.8 808.1,450.7 809,450.6 810,450.5 810.9,450.5 811.9,450.4 812.8,450.4 813.8,450.4 814.8,450.4 815.7,450.4 816.7,450.5 817.6,450.5 818.6,450.6 819.5,450.7 820.5,450.8 821.4,450.9 822.4,451 823.3,451.2 824.3,451.3 825.2,451.5 826.2,451.7 827.1,451.9 828.1,452.1 829,452.4 830,452.6 831,452.8 831.9,453.1 832.9,453.4 833.8,453.7 834.8,454 835.7,454.3 836.7,454.6 837.6,454.9 838.6,455.3 839.5,455.6 840.5,455.9 841.4,456.3 842.4,456.7 843.3,457 844.3,457.4 845.2,457.8 846.2,458.2 847.2,458.5 848.1,458.9 849.1,459.3 850,459.7 851,460.1 851.9,460.5 852.9,460.9 853.8,461.3 854.8,461.7 855.7,462.1 856.7,462.4 857.6,462.8 858.6,463.2 859.5,463.6 860.5,464 861.4,464.4 862.4,464.7 863.4,465.1 864.3,465.5 865.3,465.8 866.2,466.2 867.2,466.5 868.1,466.9 869.1,467.2 870,467.5 871,467.8 871.9,468.2 872.9,468.5 873.8,468.8 874.8,469.1 875.7,469.4 876.7,469.7 877.6,469.9 878.6,470.2 879.6,470.5 880.5,470.7 881.5,471 882.4,471.2 883.4,471.5 884.3,471.7 885.3,471.9 886.2,472.1 887.2,472.3 888.1,472.5 889.1,472.7 890,472.9 891,473.1 891.9,473.3 892.9,473.4 893.8,473.6 894.8,473.7 895.8,473.9 896.7,474 897.7,474.2 898.6,474.3 899.6,474.4 900.5,474.6 901.5,474.7 902.4,474.8 903.4,474.9 904.3,475 905.3,475.1 906.2,475.2 907.2,475.3 908.1,475.3 909.1,475.4 910,475.5 911,475.6 912,475.6 912.9,475.7 913.9,475.8 914.8,475.8 915.8,475.9 916.7,475.9 917.7,476 918.6,476 919.6,476.1 920.5,476.1 921.5,476.1 922.4,476.2 923.4,476.2 924.3,476.3 925.3,476.3 926.2,476.3 927.2,476.3 928.1,476.4 929.1,476.4 930.1,476.4 931,476.4 932,476.5 932.9,476.5 933.9,476.5 934.8,476.5 935.8,476.5 936.7,476.5 937.7,476.5 938.6,476.6" fill="none" stroke="#000" stroke-width="2.9" stroke-linejoin="round"/>
<polyline points="682.3,475.5 683.3,475.5 684.2,475.5 685.2,475.5 686.1,475.4 687.1,475.4 688,475.4 689,475.4 689.9,475.4 690.9,475.4 691.8,475.4 692.8,475.4 693.7,475.3 694.7,475.3 695.6,475.3 696.6,475.3 697.5,475.3 698.5,475.3 699.5,475.3 700.4,475.2 701.4,475.2 702.3,475.2 703.3,475.2 704.2,475.2 705.2,475.2 706.1,475.2 707.1,475.1 708,475.1 709,475.1 709.9,475.1 710.9,475.1 711.8,475 712.8,475 713.7,475 714.7,475 715.7,475 716.6,475 717.6,474.9 718.5,474.9 719.5,474.9 720.4,474.9 721.4,474.9 722.3,474.8 723.3,474.8 724.2,474.8 725.2,474.8 726.1,474.7 727.1,474.7 728,474.7 729,474.7 729.9,474.6 730.9,474.6 731.9,474.6 732.8,474.5 733.8,474.5 734.7,474.5 735.7,474.4 736.6,474.4 737.6,474.4 738.5,474.3 739.5,474.3 740.4,474.3 741.4,474.2 742.3,474.2 743.3,474.1 744.2,474.1 745.2,474 746.1,474 747.1,473.9 748.1,473.9 749,473.8 750,473.7 750.9,473.7 751.9,473.6 752.8,473.5 753.8,473.5 754.7,473.4 755.7,473.3 756.6,473.2 757.6,473.1 758.5,473 759.5,472.9 760.4,472.8 761.4,472.6 762.3,472.5 763.3,472.4 764.2,472.2 765.2,472.1 766.2,471.9 767.1,471.7 768.1,471.5 769,471.3 770,471.1 770.9,470.9 771.9,470.6 772.8,470.4 773.8,470.1 774.7,469.8 775.7,469.5 776.6,469.2 777.6,468.8 778.5,468.4 779.5,468 780.4,467.6 781.4,467.2 782.4,466.7 783.3,466.2 784.3,465.7 785.2,465.1 786.2,464.5 787.1,463.9 788.1,463.3 789,462.6 790,461.8 790.9,461.1 791.9,460.2 792.8,459.4 793.8,458.5 794.7,457.5 795.7,456.5 796.6,455.5 797.6,454.4 798.6,453.2 799.5,452 800.5,450.7 801.4,449.4 802.4,448 803.3,446.6 804.3,445 805.2,443.5 806.2,441.8 807.1,440.1 808.1,438.3 809,436.4 810,434.5 810.9,432.4 811.9,430.3 812.8,428.2 813.8,425.9 814.8,423.6 815.7,421.2 816.7,418.7 817.6,416.1 818.6,413.4 819.5,410.7 820.5,407.8 821.4,404.9 822.4,401.9 823.3,398.8 824.3,395.6 825.2,392.4 826.2,389.1 827.1,385.6 828.1,382.2 829,378.6 830,374.9 831,371.2 831.9,367.4 832.9,363.6 833.8,359.7 834.8,355.7 835.7,351.6 836.7,347.5 837.6,343.4 838.6,339.2 839.5,334.9 840.5,330.7 841.4,326.3 842.4,322 843.3,317.6 844.3,313.2 845.2,308.8 846.2,304.4 847.2,300 848.1,295.6 849.1,291.2 850,286.8 851,282.4 851.9,278.1 852.9,273.8 853.8,269.5 854.8,265.3 855.7,261.1 856.7,257.1 857.6,253 858.6,249.1 859.5,245.3 860.5,241.5 861.4,237.8 862.4,234.3 863.4,230.9 864.3,227.6 865.3,224.4 866.2,221.4 867.2,218.5 868.1,215.7 869.1,213.1 870,210.7 871,208.4 871.9,206.4 872.9,204.5 873.8,202.7 874.8,201.2 875.7,199.9 876.7,198.7 877.6,197.8 878.6,197 879.6,196.5 880.5,196.1 881.5,196 882.4,196.1 883.4,196.3 884.3,196.8 885.3,197.5 886.2,198.4 887.2,199.5 888.1,200.7 889.1,202.2 890,203.9 891,205.7 891.9,207.7 892.9,209.9 893.8,212.3 894.8,214.9 895.8,217.5 896.7,220.4 897.7,223.4 898.6,226.5 899.6,229.8 900.5,233.2 901.5,236.7 902.4,240.3 903.4,244 904.3,247.8 905.3,251.7 906.2,255.7 907.2,259.8 908.1,263.9 909.1,268.1 910,272.4 911,276.6 912,281 912.9,285.3 913.9,289.7 914.8,294.1 915.8,298.5 916.7,302.9 917.7,307.4 918.6,311.8 919.6,316.2 920.5,320.6 921.5,324.9 922.4,329.2 923.4,333.5 924.3,337.8 925.3,342 926.2,346.2 927.2,350.3 928.1,354.4 929.1,358.4 930.1,362.3 931,366.2 932,370 932.9,373.7 933.9,377.4 934.8,381 935.8,384.5 936.7,387.9 937.7,391.3 938.6,394.6 939.6,397.8 940.5,400.9 941.5,403.9 942.4,406.9 943.4,409.7 944.3,412.5 945.3,415.2 946.3,417.8 947.2,420.3 948.2,422.8 949.1,425.2 950.1,427.4 951,429.6 952,431.8 952.9,433.8 953.9,435.8 954.8,437.7 955.8,439.5 956.7,441.2 957.7,442.9 958.6,444.5 959.6,446.1 960.5,447.6 961.5,449 962.5,450.3 963.4,451.6 964.4,452.8 965.3,454 966.3,455.1 967.2,456.2 968.2,457.2 969.1,458.2 970.1,459.1 971,460 972,460.8 972.9,461.6 973.9,462.3 974.8,463 975.8,463.7 976.7,464.3 977.7,464.9 978.7,465.5 979.6,466 980.6,466.6 981.5,467 982.5,467.5 983.4,467.9 984.4,468.3 985.3,468.7 986.3,469 987.2,469.4 988.2,469.7 989.1,470 990.1,470.3 991,470.5 992,470.8 992.9,471 993.9,471.2 994.9,471.4 995.8,471.6 996.8,471.8 997.7,472 998.7,472.2 999.6,472.3 1000.6,472.5 1001.5,472.6 1002.5,472.7 1003.4,472.8 1004.4,473 1005.3,473.1 1006.3,473.2 1007.2,473.3 1008.2,473.3 1009.1,473.4 1010.1,473.5 1011.1,473.6 1012,473.7 1013,473.7 1013.9,473.8 1014.9,473.9 1015.8,473.9 1016.8,474 1017.7,474 1018.7,474.1 1019.6,474.1 1020.6,474.2 1021.5,474.2 1022.5,474.2 1023.4,474.3 1024.4,474.3 1025.3,474.4 1026.3,474.4 1027.3,474.4 1028.2,474.5 1029.2,474.5 1030.1,474.5 1031.1,474.6 1032,474.6 1033,474.6 1033.9,474.6 1034.9,474.7 1035.8,474.7 1036.8,474.7 1037.7,474.8 1038.7,474.8 1039.6,474.8 1040.6,474.8 1041.5,474.8 1042.5,474.9 1043.5,474.9 1044.4,474.9 1045.4,474.9 1046.3,474.9 1047.3,475 1048.2,475 1049.2,475 1050.1,475 1051.1,475 1052,475.1 1053,475.1 1053.9,475.1 1054.9,475.1 1055.8,475.1 1056.8,475.1 1057.7,475.2 1058.7,475.2 1059.7,475.2 1060.6,475.2 1061.6,475.2 1062.5,475.2 1063.5,475.3 1064.4,475.3 1065.4,475.3 1066.3,475.3 1067.3,475.3 1068.2,475.3 1069.2,475.3 1070.1,475.3 1071.1,475.4 1072,475.4 1073,475.4 1073.9,475.4 1074.9,475.4 1075.9,475.4 1076.8,475.4 1077.8,475.4 1078.7,475.5 1079.7,475.5 1080.6,475.5 1081.6,475.5 1082.5,475.5 1083.5,475.5 1084.4,475.5 1085.4,475.5 1086.3,475.5 1087.3,475.6 1088.2,475.6 1089.2,475.6 1090.1,475.6 1091.1,475.6 1092,475.6 1093,475.6 1094,475.6 1094.9,475.6 1095.9,475.6 1096.8,475.7 1097.8,475.7 1098.7,475.7 1099.7,475.7 1100.6,475.7 1101.6,475.7 1102.5,475.7 1103.5,475.7 1104.4,475.7 1105.4,475.7 1106.3,475.7 1107.3,475.7 1108.2,475.8 1109.2,475.8 1110.2,475.8 1111.1,475.8 1112.1,475.8 1113,475.8 1114,475.8 1114.9,475.8 1115.9,475.8 1116.8,475.8 1117.8,475.8 1118.7,475.8 1119.7,475.8 1120.6,475.8 1121.6,475.9 1122.5,475.9 1123.5,475.9 1124.4,475.9 1125.4,475.9 1126.4,475.9 1127.3,475.9 1128.3,475.9 1129.2,475.9 1130.2,475.9 1131.1,475.9 1132.1,475.9 1133,475.9 1134,475.9 1134.9,475.9 1135.9,475.9 1136.8,475.9 1137.8,476 1138.7,476 1139.7,476 1140.6,476 1141.6,476 1142.6,476 1143.5,476 1144.5,476 1145.4,476 1146.4,476 1147.3,476 1148.3,476 1149.2,476 1150.2,476 1151.1,476 1152.1,476 1153,476 1154,476 1154.9,476 1155.9,476 1156.8,476 1157.8,476.1" fill="none" stroke="#000" stroke-width="2.9" stroke-linejoin="round"/>
<polyline points="840.5,476.6 841.4,476.5 842.4,476.5 843.3,476.5 844.3,476.5 845.2,476.5 846.2,476.5 847.2,476.4 848.1,476.4 849.1,476.4 850,476.4 851,476.3 851.9,476.3 852.9,476.3 853.8,476.2 854.8,476.2 855.7,476.1 856.7,476.1 857.6,476 858.6,476 859.5,475.9 860.5,475.9 861.4,475.8 862.4,475.8 863.4,475.7 864.3,475.6 865.3,475.5 866.2,475.4 867.2,475.3 868.1,475.3 869.1,475.1 870,475 871,474.9 871.9,474.8 872.9,474.7 873.8,474.5 874.8,474.4 875.7,474.3 876.7,474.1 877.6,473.9 878.6,473.8 879.6,473.6 880.5,473.4 881.5,473.2 882.4,473 883.4,472.8 884.3,472.5 885.3,472.3 886.2,472 887.2,471.8 888.1,471.5 889.1,471.2 890,470.9 891,470.6 891.9,470.3 892.9,470 893.8,469.7 894.8,469.3 895.8,469 896.7,468.6 897.7,468.2 898.6,467.8 899.6,467.4 900.5,467 901.5,466.5 902.4,466.1 903.4,465.7 904.3,465.2 905.3,464.7 906.2,464.2 907.2,463.7 908.1,463.2 909.1,462.7 910,462.2 911,461.7 912,461.1 912.9,460.6 913.9,460 914.8,459.5 915.8,458.9 916.7,458.3 917.7,457.7 918.6,457.2 919.6,456.6 920.5,456 921.5,455.4 922.4,454.8 923.4,454.2 924.3,453.6 925.3,453.1 926.2,452.5 927.2,451.9 928.1,451.3 929.1,450.7 930.1,450.2 931,449.6 932,449.1 932.9,448.5 933.9,448 934.8,447.5 935.8,447 936.7,446.5 937.7,446 938.6,445.6 939.6,445.1 940.5,444.7 941.5,444.3 942.4,443.9 943.4,443.5 944.3,443.2 945.3,442.8 946.3,442.5 947.2,442.3 948.2,442 949.1,441.7 950.1,441.5 951,441.3 952,441.2 952.9,441 953.9,440.9 954.8,440.8 955.8,440.8 956.7,440.7 957.7,440.7 958.6,440.7 959.6,440.8 960.5,440.8 961.5,440.9 962.5,441 963.4,441.2 964.4,441.3 965.3,441.5 966.3,441.7 967.2,442 968.2,442.2 969.1,442.5 970.1,442.8 971,443.2 972,443.5 972.9,443.9 973.9,444.3 974.8,444.7 975.8,445.1 976.7,445.6 977.7,446 978.7,446.5 979.6,447 980.6,447.5 981.5,448 982.5,448.5 983.4,449.1 984.4,449.6 985.3,450.2 986.3,450.7 987.2,451.3 988.2,451.9 989.1,452.5 990.1,453.1 991,453.6 992,454.2 992.9,454.8 993.9,455.4 994.9,456 995.8,456.6 996.8,457.2 997.7,457.7 998.7,458.3 999.6,458.9 1000.6,459.5 1001.5,460 1002.5,460.6 1003.4,461.1 1004.4,461.7 1005.3,462.2 1006.3,462.7 1007.2,463.2 1008.2,463.7 1009.1,464.2 1010.1,464.7 1011.1,465.2 1012,465.7 1013,466.1 1013.9,466.5 1014.9,467 1015.8,467.4 1016.8,467.8 1017.7,468.2 1018.7,468.6 1019.6,469 1020.6,469.3 1021.5,469.7 1022.5,470 1023.4,470.3 1024.4,470.6 1025.3,470.9 1026.3,471.2 1027.3,471.5 1028.2,471.8 1029.2,472 1030.1,472.3 1031.1,472.5 1032,472.8 1033,473 1033.9,473.2 1034.9,473.4 1035.8,473.6 1036.8,473.8 1037.7,473.9 1038.7,474.1 1039.6,474.3 1040.6,474.4 1041.5,474.5 1042.5,474.7 1043.5,474.8 1044.4,474.9 1045.4,475 1046.3,475.1 1047.3,475.3 1048.2,475.3 1049.2,475.4 1050.1,475.5 1051.1,475.6 1052,475.7 1053,475.8 1053.9,475.8 1054.9,475.9 1055.8,475.9 1056.8,476 1057.7,476 1058.7,476.1 1059.7,476.1 1060.6,476.2 1061.6,476.2 1062.5,476.3 1063.5,476.3 1064.4,476.3 1065.4,476.4 1066.3,476.4 1067.3,476.4 1068.2,476.4 1069.2,476.5 1070.1,476.5 1071.1,476.5 1072,476.5 1073,476.5 1073.9,476.5 1074.9,476.6" fill="none" stroke="#000" stroke-width="2.9" stroke-linejoin="round"/>
<path d="M682.3 475.3h0M686.3 476.4h0M690.2 476.7h0M694.2 477.8h0M698.1 474.2h0M702.1 474h0M706.1 474.7h0M710 473.3h0M714 473.5h0M718 473.3h0M721.9 472.1h0M725.9 472.2h0M729.9 472h0M733.8 471.8h0M737.8 470.6h0M741.7 470.1h0M745.7 468.5h0M749.7 468.3h0M753.6 465.8h0M757.6 465.2h0M761.5 461.3h0M765.5 459.9h0M769.5 456.5h0M773.4 454.5h0M777.4 452.3h0M781.4 448.4h0M785.3 443.7h0M789.3 443.1h0M793.2 438.1h0M797.2 432.7h0M801.2 424h0M805.1 417.3h0M809.1 408.6h0M813.1 400.6h0M817 391.6h0M821 380.9h0M825 370.5h0M828.9 355.5h0M832.9 342.9h0M836.8 326.3h0M840.8 308.6h0M844.8 288.1h0M848.7 275.1h0M852.7 259.5h0M856.6 242.4h0M860.6 225.6h0M864.6 215.5h0M868.5 201.2h0M872.5 197.2h0M876.5 188h0M880.4 185.9h0M884.4 191.4h0M888.4 192.5h0M892.3 197.5h0M896.3 208.5h0M900.2 219.7h0M904.2 230.3h0M908.2 249.6h0M912.1 265.8h0M916.1 281.6h0M920 295.4h0M924 312h0M928 327.9h0M931.9 342.5h0M935.9 354.5h0M939.9 368.3h0M943.8 380h0M947.8 389.3h0M951.7 393.4h0M955.7 402.5h0M959.7 408.4h0M963.6 415.2h0M967.6 422.4h0M971.6 427h0M975.5 432.5h0M979.5 437.1h0M983.5 441.8h0M987.4 442.2h0M991.4 447.1h0M995.3 450.8h0M999.3 455.5h0M1003.3 458.5h0M1007.2 459.9h0M1011.2 463.1h0M1015.1 465.1h0M1019.1 465.9h0M1023.1 467.8h0M1027 468.7h0M1031 469.1h0M1035 471.9h0M1038.9 470.7h0M1042.9 472.7h0M1046.9 473.2h0M1050.8 473.7h0M1054.8 473.1h0M1058.7 473.7h0M1062.7 475.3h0M1066.7 475.1h0M1070.6 475.8h0M1074.6 476.4h0M1078.5 477.4h0M1082.5 475.6h0M1086.5 475.6h0M1090.4 475.6h0M1094.4 474.8h0M1098.4 472.3h0M1102.3 474h0M1106.3 474.5h0M1110.2 472.5h0M1114.2 476.2h0M1118.2 475.4h0M1122.1 477.4h0M1126.1 476.7h0M1130.1 479.1h0M1134 476.2h0M1138 477h0M1142 477.3h0M1145.9 474.8h0M1149.9 475.2h0M1153.8 476.3h0M1157.8 477.5h0" fill="none" stroke="#000" stroke-width="7.4" stroke-linecap="round"/>
<rect x="682.3" y="1.2" width="475.5" height="475.5" fill="none" stroke="#000" stroke-width="3.0"/>
<path d="M1157.8 476.7v8.8M1118.2 476.7v8.8M1078.5 476.7v16.5M1038.9 476.7v8.8M999.3 476.7v8.8M959.7 476.7v16.5M920 476.7v8.8M880.4 476.7v8.8M840.8 476.7v16.5M801.2 476.7v8.8M761.5 476.7v8.8M721.9 476.7v16.5M682.3 476.7v8.8" fill="none" stroke="#000" stroke-width="2.8"/>
<text transform="translate(0,529.9) scale(1,1.04)" x="1078.5" y="0" font-size="33.5" text-anchor="middle">528</text>
<text transform="translate(0,529.9) scale(1,1.04)" x="959.7" y="0" font-size="33.5" text-anchor="middle">531</text>
<text transform="translate(0,529.9) scale(1,1.04)" x="840.8" y="0" font-size="33.5" text-anchor="middle">534</text>
<text transform="translate(0,529.9) scale(1,1.04)" x="721.9" y="0" font-size="33.5" text-anchor="middle">537</text>
<text transform="translate(0,63.2) scale(1,1.04)" font-size="41"><tspan x="706.5" y="0">(b)</tspan></text>
<text transform="translate(0,63.2) scale(1,1.04)" font-size="41"><tspan x="967.3" y="0">Zn: O 1s</tspan></text>
<text transform="translate(0,127.5) scale(1,1.04)" font-size="33.5"><tspan x="824" y="0">Zn–C</tspan><tspan x="905.9" y="0">O</tspan><tspan x="932" y="9.5" font-size="23.4">3</tspan></text><line x1="905.9" y1="131.3" x2="932" y2="131.3" stroke="#000" stroke-width="2.6"/>
<text transform="translate(0,168) scale(1,1.04)" font-size="33.5"><tspan x="843.1" y="0">533.0</tspan></text>
<text transform="translate(0,365) scale(1,1.04)" font-size="33.5"><tspan x="968" y="0">Zn–</tspan><tspan x="1025.7" y="0">O</tspan><tspan x="1051.8" y="0">H</tspan></text><line x1="1025.7" y1="368.8" x2="1051.8" y2="368.8" stroke="#000" stroke-width="2.6"/>
<text transform="translate(0,406) scale(1,1.04)" font-size="33.5"><tspan x="981.1" y="0">531.0</tspan></text>
<text transform="translate(0,413) scale(1,1.04)" font-size="33.5"><tspan x="703" y="0">534.7</tspan></text>
<text transform="translate(0,567) scale(1,1.04)" font-size="33.5"><tspan x="864.7" y="0">E</tspan><tspan x="887.1" y="9.5" font-size="23.4">B</tspan><tspan x="902.7" y="0"> (eV)</tspan></text>
<polygon points="1267.8,476.7 1267.8,473.2 1268.8,473.2 1269.7,473.2 1270.7,473.1 1271.6,473.1 1272.6,473 1273.5,473 1274.5,472.9 1275.4,472.9 1276.4,472.8 1277.3,472.8 1278.3,472.8 1279.2,472.7 1280.2,472.7 1281.1,472.6 1282.1,472.5 1283,472.5 1284,472.4 1285,472.4 1285.9,472.3 1286.9,472.3 1287.8,472.2 1288.8,472.1 1289.7,472.1 1290.7,472 1291.6,471.9 1292.6,471.8 1293.5,471.8 1294.5,471.7 1295.4,471.6 1296.4,471.5 1297.3,471.4 1298.3,471.4 1299.2,471.3 1300.2,471.2 1301.2,471.1 1302.1,471 1303.1,470.8 1304,470.7 1305,470.6 1305.9,470.5 1306.9,470.3 1307.8,470.2 1308.8,470.1 1309.7,469.9 1310.7,469.7 1311.6,469.6 1312.6,469.4 1313.5,469.2 1314.5,469 1315.4,468.8 1316.4,468.6 1317.4,468.4 1318.3,468.1 1319.3,467.9 1320.2,467.6 1321.2,467.3 1322.1,467 1323.1,466.7 1324,466.4 1325,466 1325.9,465.6 1326.9,465.2 1327.8,464.8 1328.8,464.4 1329.7,463.9 1330.7,463.4 1331.6,462.9 1332.6,462.4 1333.6,461.8 1334.5,461.2 1335.5,460.6 1336.4,459.9 1337.4,459.2 1338.3,458.4 1339.3,457.6 1340.2,456.8 1341.2,456 1342.1,455 1343.1,454.1 1344,453.1 1345,452 1345.9,450.9 1346.9,449.7 1347.8,448.5 1348.8,447.2 1349.7,445.9 1350.7,444.5 1351.7,443 1352.6,441.5 1353.6,439.9 1354.5,438.3 1355.5,436.5 1356.4,434.7 1357.4,432.9 1358.3,430.9 1359.3,428.9 1360.2,426.8 1361.2,424.6 1362.1,422.3 1363.1,420 1364,417.6 1365,415.1 1365.9,412.5 1366.9,409.8 1367.9,407 1368.8,404.2 1369.8,401.3 1370.7,398.2 1371.7,395.1 1372.6,391.9 1373.6,388.7 1374.5,385.3 1375.5,381.9 1376.4,378.4 1377.4,374.8 1378.3,371.1 1379.3,367.4 1380.2,363.5 1381.2,359.6 1382.1,355.7 1383.1,351.6 1384.1,347.6 1385,343.4 1386,339.2 1386.9,334.9 1387.9,330.6 1388.8,326.3 1389.8,321.9 1390.7,317.5 1391.7,313 1392.6,308.5 1393.6,304.1 1394.5,299.5 1395.5,295 1396.4,290.5 1397.4,286 1398.3,281.5 1399.3,277 1400.3,272.6 1401.2,268.2 1402.2,263.8 1403.1,259.5 1404.1,255.2 1405,251 1406,246.8 1406.9,242.8 1407.9,238.8 1408.8,234.9 1409.8,231.1 1410.7,227.5 1411.7,223.9 1412.6,220.5 1413.6,217.2 1414.5,214 1415.5,211 1416.5,208.1 1417.4,205.4 1418.4,202.9 1419.3,200.5 1420.3,198.3 1421.2,196.3 1422.2,194.5 1423.1,192.8 1424.1,191.4 1425,190.1 1426,189.1 1426.9,188.2 1427.9,187.5 1428.8,187 1429.8,186.7 1430.7,186.6 1431.7,186.6 1432.7,186.8 1433.6,187.2 1434.6,187.8 1435.5,188.5 1436.5,189.4 1437.4,190.4 1438.4,191.6 1439.3,192.9 1440.3,194.3 1441.2,195.9 1442.2,197.5 1443.1,199.3 1444.1,201.2 1445,203.2 1446,205.3 1446.9,207.5 1447.9,209.7 1448.9,212 1449.8,214.3 1450.8,216.7 1451.7,219.1 1452.7,221.6 1453.6,224.1 1454.6,226.5 1455.5,229 1456.5,231.5 1457.4,234 1458.4,236.5 1459.3,239 1460.3,241.4 1461.2,243.8 1462.2,246.2 1463.1,248.5 1464.1,250.8 1465.1,253 1466,255.1 1467,257.2 1467.9,259.3 1468.9,261.3 1469.8,263.2 1470.8,265 1471.7,266.8 1472.7,268.5 1473.6,270.1 1474.6,271.6 1475.5,273.1 1476.5,274.5 1477.4,275.8 1478.4,277.1 1479.3,278.3 1480.3,279.4 1481.3,280.5 1482.2,281.5 1483.2,282.4 1484.1,283.3 1485.1,284.1 1486,284.9 1487,285.6 1487.9,286.3 1488.9,286.9 1489.8,287.5 1490.8,288.1 1491.7,288.7 1492.7,289.2 1493.6,289.7 1494.6,290.2 1495.5,290.8 1496.5,291.3 1497.5,291.8 1498.4,292.3 1499.4,292.8 1500.3,293.3 1501.3,293.9 1502.2,294.5 1503.2,295.1 1504.1,295.7 1505.1,296.4 1506,297.1 1507,297.8 1507.9,298.6 1508.9,299.5 1509.8,300.3 1510.8,301.3 1511.7,302.3 1512.7,303.3 1513.6,304.4 1514.6,305.6 1515.6,306.8 1516.5,308 1517.5,309.4 1518.4,310.8 1519.4,312.2 1520.3,313.7 1521.3,315.2 1522.2,316.9 1523.2,318.5 1524.1,320.2 1525.1,322 1526,323.8 1527,325.7 1527.9,327.6 1528.9,329.5 1529.8,331.5 1530.8,333.5 1531.8,335.5 1532.7,337.6 1533.7,339.6 1534.6,341.7 1535.6,343.8 1536.5,346 1537.5,348.1 1538.4,350.2 1539.4,352.3 1540.3,354.5 1541.3,356.6 1542.2,358.6 1543.2,360.7 1544.1,362.7 1545.1,364.8 1546,366.7 1547,368.7 1548,370.5 1548.9,372.4 1549.9,374.2 1550.8,375.9 1551.8,377.6 1552.7,379.2 1553.7,380.8 1554.6,382.3 1555.6,383.7 1556.5,385 1557.5,386.3 1558.4,387.6 1559.4,388.7 1560.3,389.8 1561.3,390.8 1562.2,391.7 1563.2,392.6 1564.2,393.4 1565.1,394.1 1566.1,394.8 1567,395.4 1568,396 1568.9,396.5 1569.9,396.9 1570.8,397.3 1571.8,397.7 1572.7,398 1573.7,398.4 1574.6,398.6 1575.6,398.9 1576.5,399.2 1577.5,399.4 1578.4,399.7 1579.4,399.9 1580.4,400.2 1581.3,400.5 1582.3,400.8 1583.2,401.1 1584.2,401.4 1585.1,401.8 1586.1,402.3 1587,402.7 1588,403.3 1588.9,403.8 1589.9,404.4 1590.8,405.1 1591.8,405.8 1592.7,406.6 1593.7,407.5 1594.6,408.4 1595.6,409.3 1596.6,410.3 1597.5,411.4 1598.5,412.5 1599.4,413.6 1600.4,414.8 1601.3,416.1 1602.3,417.4 1603.2,418.7 1604.2,420 1605.1,421.4 1606.1,422.8 1607,424.3 1608,425.7 1608.9,427.1 1609.9,428.6 1610.8,430 1611.8,431.5 1612.8,432.9 1613.7,434.4 1614.7,435.8 1615.6,437.2 1616.6,438.5 1617.5,439.9 1618.5,441.2 1619.4,442.5 1620.4,443.7 1621.3,444.9 1622.3,446.1 1623.2,447.2 1624.2,448.3 1625.1,449.4 1626.1,450.4 1627,451.3 1628,452.2 1629,453.1 1629.9,453.9 1630.9,454.7 1631.8,455.4 1632.8,456.1 1633.7,456.8 1634.7,457.4 1635.6,457.9 1636.6,458.4 1637.5,458.9 1638.5,459.4 1639.4,459.8 1640.4,460.2 1641.3,460.5 1642.3,460.8 1643.2,461.1 1644.2,461.3 1645.2,461.5 1646.1,461.7 1647.1,461.9 1648,462 1649,462.2 1649.9,462.3 1650.9,462.3 1651.8,462.4 1652.8,462.4 1653.7,462.5 1654.7,462.5 1655.6,462.5 1656.6,462.5 1657.5,462.5 1658.5,462.4 1659.4,462.4 1660.4,462.4 1661.4,462.3 1662.3,462.3 1663.3,462.2 1664.2,462.2 1665.2,462.1 1666.1,462.1 1667.1,462.1 1668,462 1669,462 1669.9,462 1670.9,462 1671.8,462 1672.8,462 1673.7,462 1674.7,462.1 1675.6,462.1 1676.6,462.1 1677.5,462.2 1678.5,462.3 1679.5,462.4 1680.4,462.5 1681.4,462.6 1682.3,462.7 1683.3,462.9 1684.2,463 1685.2,463.2 1686.1,463.3 1687.1,463.5 1688,463.7 1689,463.9 1689.9,464.1 1690.9,464.4 1691.8,464.6 1692.8,464.8 1693.7,465.1 1694.7,465.3 1695.7,465.6 1696.6,465.9 1697.6,466.1 1698.5,466.4 1699.5,466.7 1700.4,467 1701.4,467.3 1702.3,467.5 1703.3,467.8 1704.2,468.1 1705.2,468.4 1706.1,468.7 1707.1,469 1708,469.2 1709,469.5 1709.9,469.8 1710.9,470.1 1711.9,470.3 1712.8,470.6 1713.8,470.9 1714.7,471.1 1715.7,471.4 1716.6,471.6 1717.6,471.8 1718.5,472.1 1719.5,472.3 1720.4,472.5 1721.4,472.7 1722.3,472.9 1723.3,473.1 1724.2,473.3 1725.2,473.5 1726.1,473.6 1727.1,473.8 1728.1,474 1729,474.1 1730,474.3 1730.9,474.4 1731.9,474.5 1732.8,474.7 1733.8,474.8 1734.7,474.9 1735.7,475 1736.6,475.1 1737.6,475.2 1738.5,475.3 1739.5,475.4 1740.4,475.5 1741.4,475.5 1742.3,475.6 1743.3,475.7 1743.3,476.7" fill="#f2f2f2" stroke="#f2f2f2" stroke-width="5" stroke-linejoin="round"/>
<polyline points="1267.8,473.2 1268.8,473.2 1269.7,473.2 1270.7,473.1 1271.6,473.1 1272.6,473 1273.5,473 1274.5,472.9 1275.4,472.9 1276.4,472.8 1277.3,472.8 1278.3,472.8 1279.2,472.7 1280.2,472.7 1281.1,472.6 1282.1,472.5 1283,472.5 1284,472.4 1285,472.4 1285.9,472.3 1286.9,472.3 1287.8,472.2 1288.8,472.1 1289.7,472.1 1290.7,472 1291.6,471.9 1292.6,471.8 1293.5,471.8 1294.5,471.7 1295.4,471.6 1296.4,471.5 1297.3,471.4 1298.3,471.4 1299.2,471.3 1300.2,471.2 1301.2,471.1 1302.1,471 1303.1,470.8 1304,470.7 1305,470.6 1305.9,470.5 1306.9,470.3 1307.8,470.2 1308.8,470.1 1309.7,469.9 1310.7,469.7 1311.6,469.6 1312.6,469.4 1313.5,469.2 1314.5,469 1315.4,468.8 1316.4,468.6 1317.4,468.4 1318.3,468.1 1319.3,467.9 1320.2,467.6 1321.2,467.3 1322.1,467 1323.1,466.7 1324,466.4 1325,466 1325.9,465.6 1326.9,465.2 1327.8,464.8 1328.8,464.4 1329.7,463.9 1330.7,463.4 1331.6,462.9 1332.6,462.4 1333.6,461.8 1334.5,461.2 1335.5,460.6 1336.4,459.9 1337.4,459.2 1338.3,458.4 1339.3,457.7 1340.2,456.8 1341.2,456 1342.1,455 1343.1,454.1 1344,453.1 1345,452 1345.9,450.9 1346.9,449.7 1347.8,448.5 1348.8,447.2 1349.7,445.9 1350.7,444.5 1351.7,443.1 1352.6,441.5 1353.6,439.9 1354.5,438.3 1355.5,436.6 1356.4,434.8 1357.4,432.9 1358.3,430.9 1359.3,428.9 1360.2,426.8 1361.2,424.6 1362.1,422.4 1363.1,420 1364,417.6 1365,415.1 1365.9,412.5 1366.9,409.9 1367.9,407.1 1368.8,404.3 1369.8,401.3 1370.7,398.3 1371.7,395.2 1372.6,392.1 1373.6,388.8 1374.5,385.5 1375.5,382 1376.4,378.5 1377.4,375 1378.3,371.3 1379.3,367.6 1380.2,363.8 1381.2,359.9 1382.1,356 1383.1,352 1384.1,347.9 1385,343.8 1386,339.6 1386.9,335.4 1387.9,331.1 1388.8,326.8 1389.8,322.5 1390.7,318.1 1391.7,313.7 1392.6,309.3 1393.6,304.9 1394.5,300.5 1395.5,296 1396.4,291.6 1397.4,287.2 1398.3,282.8 1399.3,278.4 1400.3,274.1 1401.2,269.8 1402.2,265.5 1403.1,261.3 1404.1,257.2 1405,253.2 1406,249.2 1406.9,245.3 1407.9,241.5 1408.8,237.9 1409.8,234.3 1410.7,230.9 1411.7,227.6 1412.6,224.4 1413.6,221.4 1414.5,218.5 1415.5,215.8 1416.5,213.3 1417.4,211 1418.4,208.8 1419.3,206.9 1420.3,205.1 1421.2,203.6 1422.2,202.2 1423.1,201.1 1424.1,200.2 1425,199.5 1426,199 1426.9,198.7 1427.9,198.7 1428.8,198.9 1429.8,199.3 1430.7,199.9 1431.7,200.8 1432.7,201.8 1433.6,203.1 1434.6,204.6 1435.5,206.2 1436.5,208.1 1437.4,210.2 1438.4,212.4 1439.3,214.9 1440.3,217.5 1441.2,220.3 1442.2,223.2 1443.1,226.3 1444.1,229.6 1445,233 1446,236.5 1446.9,240.2 1447.9,243.9 1448.9,247.8 1449.8,251.8 1450.8,255.9 1451.7,260.1 1452.7,264.4 1453.6,268.7 1454.6,273.1 1455.5,277.5 1456.5,282 1457.4,286.6 1458.4,291.1 1459.3,295.7 1460.3,300.3 1461.2,305 1462.2,309.6 1463.1,314.2 1464.1,318.8 1465.1,323.4 1466,327.9 1467,332.5 1467.9,337 1468.9,341.4 1469.8,345.8 1470.8,350.2 1471.7,354.4 1472.7,358.7 1473.6,362.8 1474.6,366.9 1475.5,371 1476.5,374.9 1477.4,378.8 1478.4,382.6 1479.3,386.3 1480.3,389.9 1481.3,393.4 1482.2,396.9 1483.2,400.2 1484.1,403.5 1485.1,406.7 1486,409.8 1487,412.7 1487.9,415.6 1488.9,418.4 1489.8,421.1 1490.8,423.8 1491.7,426.3 1492.7,428.7 1493.6,431.1 1494.6,433.3 1495.5,435.5 1496.5,437.6 1497.5,439.6 1498.4,441.5 1499.4,443.3 1500.3,445.1 1501.3,446.8 1502.2,448.4 1503.2,449.9 1504.1,451.4 1505.1,452.8 1506,454.1 1507,455.4 1507.9,456.6 1508.9,457.7 1509.8,458.8 1510.8,459.8 1511.7,460.8 1512.7,461.7 1513.6,462.6 1514.6,463.4 1515.6,464.2 1516.5,464.9 1517.5,465.6 1518.4,466.3 1519.4,466.9 1520.3,467.5 1521.3,468 1522.2,468.5 1523.2,469 1524.1,469.4 1525.1,469.9 1526,470.3 1527,470.6 1527.9,471 1528.9,471.3 1529.8,471.6 1530.8,471.9 1531.8,472.2 1532.7,472.4 1533.7,472.6 1534.6,472.9 1535.6,473.1 1536.5,473.2 1537.5,473.4 1538.4,473.6 1539.4,473.7 1540.3,473.9 1541.3,474 1542.2,474.1 1543.2,474.2 1544.1,474.3 1545.1,474.4 1546,474.5 1547,474.6 1548,474.7 1548.9,474.8 1549.9,474.8 1550.8,474.9 1551.8,475 1552.7,475 1553.7,475.1 1554.6,475.1 1555.6,475.2 1556.5,475.2 1557.5,475.3 1558.4,475.3 1559.4,475.3 1560.3,475.4 1561.3,475.4 1562.2,475.4 1563.2,475.4 1564.2,475.5 1565.1,475.5 1566.1,475.5 1567,475.5 1568,475.6 1568.9,475.6 1569.9,475.6 1570.8,475.6 1571.8,475.6 1572.7,475.7 1573.7,475.7 1574.6,475.7 1575.6,475.7 1576.5,475.7 1577.5,475.7 1578.4,475.7 1579.4,475.8 1580.4,475.8 1581.3,475.8 1582.3,475.8 1583.2,475.8 1584.2,475.8 1585.1,475.8 1586.1,475.8 1587,475.9 1588,475.9 1588.9,475.9 1589.9,475.9 1590.8,475.9 1591.8,475.9 1592.7,475.9 1593.7,475.9 1594.6,475.9 1595.6,475.9 1596.6,475.9 1597.5,476 1598.5,476 1599.4,476 1600.4,476 1601.3,476 1602.3,476 1603.2,476 1604.2,476 1605.1,476 1606.1,476 1607,476 1608,476 1608.9,476 1609.9,476 1610.8,476.1 1611.8,476.1 1612.8,476.1 1613.7,476.1 1614.7,476.1 1615.6,476.1 1616.6,476.1 1617.5,476.1 1618.5,476.1 1619.4,476.1 1620.4,476.1 1621.3,476.1 1622.3,476.1 1623.2,476.1 1624.2,476.1 1625.1,476.1 1626.1,476.1 1627,476.1 1628,476.2 1629,476.2 1629.9,476.2 1630.9,476.2 1631.8,476.2 1632.8,476.2 1633.7,476.2 1634.7,476.2 1635.6,476.2 1636.6,476.2 1637.5,476.2 1638.5,476.2 1639.4,476.2 1640.4,476.2 1641.3,476.2 1642.3,476.2 1643.2,476.2 1644.2,476.2 1645.2,476.2 1646.1,476.2 1647.1,476.2 1648,476.2 1649,476.2 1649.9,476.3 1650.9,476.3 1651.8,476.3 1652.8,476.3 1653.7,476.3 1654.7,476.3 1655.6,476.3 1656.6,476.3 1657.5,476.3 1658.5,476.3 1659.4,476.3 1660.4,476.3 1661.4,476.3 1662.3,476.3 1663.3,476.3 1664.2,476.3 1665.2,476.3 1666.1,476.3 1667.1,476.3 1668,476.3 1669,476.3 1669.9,476.3 1670.9,476.3 1671.8,476.3 1672.8,476.3 1673.7,476.3 1674.7,476.3 1675.6,476.3 1676.6,476.3 1677.5,476.3 1678.5,476.3 1679.5,476.3 1680.4,476.4 1681.4,476.4 1682.3,476.4 1683.3,476.4 1684.2,476.4 1685.2,476.4 1686.1,476.4 1687.1,476.4 1688,476.4 1689,476.4 1689.9,476.4 1690.9,476.4 1691.8,476.4 1692.8,476.4 1693.7,476.4 1694.7,476.4 1695.7,476.4 1696.6,476.4 1697.6,476.4 1698.5,476.4 1699.5,476.4 1700.4,476.4 1701.4,476.4 1702.3,476.4 1703.3,476.4 1704.2,476.4 1705.2,476.4 1706.1,476.4 1707.1,476.4 1708,476.4 1709,476.4 1709.9,476.4 1710.9,476.4 1711.9,476.4 1712.8,476.4 1713.8,476.4 1714.7,476.4 1715.7,476.4 1716.6,476.4 1717.6,476.4 1718.5,476.4 1719.5,476.4 1720.4,476.4 1721.4,476.4 1722.3,476.4 1723.3,476.4 1724.2,476.4 1725.2,476.4 1726.1,476.4 1727.1,476.4 1728.1,476.5 1729,476.5 1730,476.5 1730.9,476.5 1731.9,476.5 1732.8,476.5 1733.8,476.5 1734.7,476.5 1735.7,476.5 1736.6,476.5 1737.6,476.5 1738.5,476.5 1739.5,476.5 1740.4,476.5 1741.4,476.5 1742.3,476.5 1743.3,476.5" fill="none" stroke="#000" stroke-width="2.9" stroke-linejoin="round"/>
<polyline points="1374.5,476.6 1375.5,476.5 1376.4,476.5 1377.4,476.5 1378.3,476.5 1379.3,476.5 1380.2,476.5 1381.2,476.4 1382.1,476.4 1383.1,476.4 1384.1,476.3 1385,476.3 1386,476.3 1386.9,476.2 1387.9,476.2 1388.8,476.2 1389.8,476.1 1390.7,476 1391.7,476 1392.6,475.9 1393.6,475.9 1394.5,475.8 1395.5,475.7 1396.4,475.6 1397.4,475.5 1398.3,475.4 1399.3,475.3 1400.3,475.2 1401.2,475.1 1402.2,475 1403.1,474.8 1404.1,474.7 1405,474.5 1406,474.3 1406.9,474.2 1407.9,474 1408.8,473.8 1409.8,473.5 1410.7,473.3 1411.7,473.1 1412.6,472.8 1413.6,472.5 1414.5,472.2 1415.5,471.9 1416.5,471.6 1417.4,471.2 1418.4,470.8 1419.3,470.4 1420.3,470 1421.2,469.6 1422.2,469.1 1423.1,468.6 1424.1,468.1 1425,467.5 1426,467 1426.9,466.4 1427.9,465.7 1428.8,465.1 1429.8,464.4 1430.7,463.6 1431.7,462.9 1432.7,462.1 1433.6,461.2 1434.6,460.3 1435.5,459.4 1436.5,458.5 1437.4,457.5 1438.4,456.5 1439.3,455.4 1440.3,454.3 1441.2,453.1 1442.2,451.9 1443.1,450.7 1444.1,449.4 1445,448.1 1446,446.7 1446.9,445.3 1447.9,443.8 1448.9,442.3 1449.8,440.7 1450.8,439.1 1451.7,437.5 1452.7,435.8 1453.6,434.1 1454.6,432.3 1455.5,430.5 1456.5,428.6 1457.4,426.7 1458.4,424.7 1459.3,422.7 1460.3,420.7 1461.2,418.7 1462.2,416.6 1463.1,414.4 1464.1,412.3 1465.1,410.1 1466,407.8 1467,405.6 1467.9,403.3 1468.9,401 1469.8,398.7 1470.8,396.4 1471.7,394 1472.7,391.6 1473.6,389.3 1474.6,386.9 1475.5,384.5 1476.5,382.1 1477.4,379.8 1478.4,377.4 1479.3,375 1480.3,372.7 1481.3,370.4 1482.2,368.1 1483.2,365.8 1484.1,363.5 1485.1,361.3 1486,359.1 1487,357 1487.9,354.9 1488.9,352.8 1489.8,350.8 1490.8,348.8 1491.7,346.9 1492.7,345.1 1493.6,343.3 1494.6,341.6 1495.5,339.9 1496.5,338.4 1497.5,336.9 1498.4,335.5 1499.4,334.1 1500.3,332.9 1501.3,331.7 1502.2,330.6 1503.2,329.7 1504.1,328.8 1505.1,328 1506,327.3 1507,326.7 1507.9,326.1 1508.9,325.7 1509.8,325.4 1510.8,325.2 1511.7,325.1 1512.7,325.1 1513.6,325.2 1514.6,325.4 1515.6,325.7 1516.5,326.1 1517.5,326.6 1518.4,327.2 1519.4,327.9 1520.3,328.7 1521.3,329.6 1522.2,330.5 1523.2,331.6 1524.1,332.8 1525.1,334 1526,335.3 1527,336.8 1527.9,338.2 1528.9,339.8 1529.8,341.4 1530.8,343.1 1531.8,344.9 1532.7,346.8 1533.7,348.7 1534.6,350.6 1535.6,352.6 1536.5,354.7 1537.5,356.8 1538.4,358.9 1539.4,361.1 1540.3,363.3 1541.3,365.6 1542.2,367.9 1543.2,370.2 1544.1,372.5 1545.1,374.8 1546,377.2 1547,379.6 1548,381.9 1548.9,384.3 1549.9,386.7 1550.8,389.1 1551.8,391.4 1552.7,393.8 1553.7,396.1 1554.6,398.5 1555.6,400.8 1556.5,403.1 1557.5,405.4 1558.4,407.6 1559.4,409.9 1560.3,412.1 1561.3,414.2 1562.2,416.4 1563.2,418.5 1564.2,420.5 1565.1,422.6 1566.1,424.6 1567,426.5 1568,428.4 1568.9,430.3 1569.9,432.1 1570.8,433.9 1571.8,435.6 1572.7,437.3 1573.7,439 1574.6,440.6 1575.6,442.1 1576.5,443.7 1577.5,445.1 1578.4,446.6 1579.4,447.9 1580.4,449.3 1581.3,450.6 1582.3,451.8 1583.2,453 1584.2,454.2 1585.1,455.3 1586.1,456.4 1587,457.4 1588,458.4 1588.9,459.3 1589.9,460.3 1590.8,461.1 1591.8,462 1592.7,462.8 1593.7,463.6 1594.6,464.3 1595.6,465 1596.6,465.7 1597.5,466.3 1598.5,466.9 1599.4,467.5 1600.4,468 1601.3,468.6 1602.3,469.1 1603.2,469.5 1604.2,470 1605.1,470.4 1606.1,470.8 1607,471.2 1608,471.5 1608.9,471.9 1609.9,472.2 1610.8,472.5 1611.8,472.8 1612.8,473 1613.7,473.3 1614.7,473.5 1615.6,473.7 1616.6,474 1617.5,474.2 1618.5,474.3 1619.4,474.5 1620.4,474.7 1621.3,474.8 1622.3,475 1623.2,475.1 1624.2,475.2 1625.1,475.3 1626.1,475.4 1627,475.5 1628,475.6 1629,475.7 1629.9,475.8 1630.9,475.9 1631.8,475.9 1632.8,476 1633.7,476 1634.7,476.1 1635.6,476.1 1636.6,476.2 1637.5,476.2 1638.5,476.3 1639.4,476.3 1640.4,476.3 1641.3,476.4 1642.3,476.4 1643.2,476.4 1644.2,476.5 1645.2,476.5 1646.1,476.5 1647.1,476.5 1648,476.5 1649,476.5 1649.9,476.6" fill="none" stroke="#000" stroke-width="2.9" stroke-linejoin="round"/>
<polyline points="1513.6,476.6 1514.6,476.5 1515.6,476.5 1516.5,476.5 1517.5,476.5 1518.4,476.4 1519.4,476.4 1520.3,476.3 1521.3,476.3 1522.2,476.2 1523.2,476.2 1524.1,476.1 1525.1,476 1526,475.9 1527,475.8 1527.9,475.7 1528.9,475.6 1529.8,475.5 1530.8,475.3 1531.8,475.1 1532.7,475 1533.7,474.8 1534.6,474.5 1535.6,474.3 1536.5,474 1537.5,473.7 1538.4,473.4 1539.4,473.1 1540.3,472.7 1541.3,472.3 1542.2,471.9 1543.2,471.4 1544.1,470.9 1545.1,470.4 1546,469.8 1547,469.2 1548,468.5 1548.9,467.8 1549.9,467.1 1550.8,466.3 1551.8,465.5 1552.7,464.6 1553.7,463.7 1554.6,462.8 1555.6,461.8 1556.5,460.7 1557.5,459.7 1558.4,458.5 1559.4,457.4 1560.3,456.2 1561.3,455 1562.2,453.7 1563.2,452.4 1564.2,451.1 1565.1,449.7 1566.1,448.4 1567,447 1568,445.6 1568.9,444.2 1569.9,442.8 1570.8,441.4 1571.8,440 1572.7,438.6 1573.7,437.2 1574.6,435.9 1575.6,434.6 1576.5,433.3 1577.5,432.1 1578.4,430.9 1579.4,429.8 1580.4,428.7 1581.3,427.7 1582.3,426.8 1583.2,425.9 1584.2,425.1 1585.1,424.4 1586.1,423.7 1587,423.2 1588,422.8 1588.9,422.4 1589.9,422.1 1590.8,422 1591.8,421.9 1592.7,421.9 1593.7,422.1 1594.6,422.3 1595.6,422.6 1596.6,423 1597.5,423.5 1598.5,424.1 1599.4,424.8 1600.4,425.6 1601.3,426.4 1602.3,427.3 1603.2,428.3 1604.2,429.3 1605.1,430.5 1606.1,431.6 1607,432.8 1608,434.1 1608.9,435.4 1609.9,436.7 1610.8,438.1 1611.8,439.4 1612.8,440.8 1613.7,442.2 1614.7,443.6 1615.6,445 1616.6,446.4 1617.5,447.8 1618.5,449.2 1619.4,450.5 1620.4,451.9 1621.3,453.2 1622.3,454.5 1623.2,455.7 1624.2,456.9 1625.1,458.1 1626.1,459.2 1627,460.3 1628,461.4 1629,462.4 1629.9,463.3 1630.9,464.3 1631.8,465.2 1632.8,466 1633.7,466.8 1634.7,467.5 1635.6,468.3 1636.6,468.9 1637.5,469.6 1638.5,470.1 1639.4,470.7 1640.4,471.2 1641.3,471.7 1642.3,472.1 1643.2,472.5 1644.2,472.9 1645.2,473.3 1646.1,473.6 1647.1,473.9 1648,474.2 1649,474.4 1649.9,474.7 1650.9,474.9 1651.8,475.1 1652.8,475.2 1653.7,475.4 1654.7,475.5 1655.6,475.7 1656.6,475.8 1657.5,475.9 1658.5,476 1659.4,476.1 1660.4,476.1 1661.4,476.2 1662.3,476.3 1663.3,476.3 1664.2,476.4 1665.2,476.4 1666.1,476.5 1667.1,476.5 1668,476.5 1669,476.5 1669.9,476.6" fill="none" stroke="#000" stroke-width="2.9" stroke-linejoin="round"/>
<polyline points="1588.9,476.6 1589.9,476.5 1590.8,476.5 1591.8,476.5 1592.7,476.5 1593.7,476.5 1594.6,476.4 1595.6,476.4 1596.6,476.4 1597.5,476.4 1598.5,476.3 1599.4,476.3 1600.4,476.2 1601.3,476.2 1602.3,476.2 1603.2,476.1 1604.2,476.1 1605.1,476 1606.1,475.9 1607,475.9 1608,475.8 1608.9,475.7 1609.9,475.7 1610.8,475.6 1611.8,475.5 1612.8,475.4 1613.7,475.3 1614.7,475.2 1615.6,475.1 1616.6,475 1617.5,474.9 1618.5,474.7 1619.4,474.6 1620.4,474.5 1621.3,474.3 1622.3,474.2 1623.2,474 1624.2,473.9 1625.1,473.7 1626.1,473.5 1627,473.3 1628,473.1 1629,472.9 1629.9,472.7 1630.9,472.5 1631.8,472.3 1632.8,472 1633.7,471.8 1634.7,471.6 1635.6,471.3 1636.6,471.1 1637.5,470.8 1638.5,470.6 1639.4,470.3 1640.4,470 1641.3,469.7 1642.3,469.5 1643.2,469.2 1644.2,468.9 1645.2,468.6 1646.1,468.3 1647.1,468.1 1648,467.8 1649,467.5 1649.9,467.2 1650.9,466.9 1651.8,466.7 1652.8,466.4 1653.7,466.1 1654.7,465.9 1655.6,465.6 1656.6,465.3 1657.5,465.1 1658.5,464.9 1659.4,464.6 1660.4,464.4 1661.4,464.2 1662.3,464 1663.3,463.8 1664.2,463.7 1665.2,463.5 1666.1,463.4 1667.1,463.2 1668,463.1 1669,463 1669.9,462.9 1670.9,462.8 1671.8,462.8 1672.8,462.7 1673.7,462.7 1674.7,462.7 1675.6,462.7 1676.6,462.7 1677.5,462.8 1678.5,462.8 1679.5,462.9 1680.4,462.9 1681.4,463 1682.3,463.1 1683.3,463.3 1684.2,463.4 1685.2,463.6 1686.1,463.7 1687.1,463.9 1688,464.1 1689,464.3 1689.9,464.5 1690.9,464.7 1691.8,464.9 1692.8,465.2 1693.7,465.4 1694.7,465.7 1695.7,465.9 1696.6,466.2 1697.6,466.4 1698.5,466.7 1699.5,467 1700.4,467.3 1701.4,467.6 1702.3,467.8 1703.3,468.1 1704.2,468.4 1705.2,468.7 1706.1,469 1707.1,469.3 1708,469.5 1709,469.8 1709.9,470.1 1710.9,470.4 1711.9,470.6 1712.8,470.9 1713.8,471.1 1714.7,471.4 1715.7,471.6 1716.6,471.9 1717.6,472.1 1718.5,472.3 1719.5,472.5 1720.4,472.8 1721.4,473 1722.3,473.2 1723.3,473.4 1724.2,473.5 1725.2,473.7 1726.1,473.9 1727.1,474.1 1728.1,474.2 1729,474.4 1730,474.5 1730.9,474.6 1731.9,474.8 1732.8,474.9 1733.8,475 1734.7,475.1 1735.7,475.2 1736.6,475.3 1737.6,475.4 1738.5,475.5 1739.5,475.6 1740.4,475.7 1741.4,475.8 1742.3,475.8 1743.3,475.9" fill="none" stroke="#000" stroke-width="2.9" stroke-linejoin="round"/>
<path d="M1267.8 471.1h0M1270.6 474.5h0M1273.4 472.1h0M1276.2 472.2h0M1279 471.3h0M1281.8 471.2h0M1284.6 472.3h0M1287.4 471.5h0M1290.2 471.8h0M1293 469.4h0M1295.8 471.3h0M1298.6 471.4h0M1301.4 470.6h0M1304.2 471h0M1307 470.4h0M1309.8 469.8h0M1312.6 468.9h0M1315.4 469.6h0M1318.1 468.2h0M1320.9 468.6h0M1323.7 467h0M1326.5 464.4h0M1329.3 463.5h0M1332.1 461.9h0M1334.9 459.8h0M1337.7 457.5h0M1340.5 454.2h0M1343.3 454h0M1346.1 451.1h0M1348.9 447.2h0M1351.7 444.5h0M1354.5 439.3h0M1357.3 431.9h0M1360.1 426.6h0M1362.9 420h0M1365.7 412.3h0M1368.5 407.9h0M1371.3 395.9h0M1374.1 388.4h0M1376.9 378.7h0M1379.7 366h0M1382.5 354.1h0M1385.3 343.4h0M1388.1 332.9h0M1390.9 318.7h0M1393.7 306.3h0M1396.5 290h0M1399.3 276.8h0M1402.1 264.5h0M1404.9 250.4h0M1407.7 239.7h0M1410.5 231.2h0M1413.2 219.1h0M1416 209h0M1418.8 204.1h0M1421.6 199.1h0M1424.4 192.1h0M1427.2 194.2h0M1430 187.9h0M1432.8 186.7h0M1435.6 191.4h0M1438.4 192.2h0M1441.2 198.8h0M1444 200.2h0M1446.8 211.8h0M1449.6 215.8h0M1452.4 219.3h0M1455.2 226.1h0M1458 239.2h0M1460.8 243.4h0M1463.6 248.6h0M1466.4 256.8h0M1469.2 258.7h0M1472 267.3h0M1474.8 269.7h0M1477.6 275.9h0M1480.4 276.1h0M1483.2 280.6h0M1486 283.8h0M1488.8 287.3h0M1491.6 286.3h0M1494.4 287.8h0M1497.2 289.8h0M1500 290.9h0M1502.8 294.6h0M1505.5 297.6h0M1508.3 300.8h0M1511.1 302.8h0M1513.9 302.6h0M1516.7 308.7h0M1519.5 310.9h0M1522.3 315.4h0M1525.1 319.9h0M1527.9 325h0M1530.7 333.7h0M1533.5 340.3h0M1536.3 343.8h0M1539.1 349h0M1541.9 356.2h0M1544.7 362.4h0M1547.5 368.2h0M1550.3 373.6h0M1553.1 379.2h0M1555.9 382.3h0M1558.7 387.5h0M1561.5 391.3h0M1564.3 393.8h0M1567.1 394.5h0M1569.9 396.6h0M1572.7 395.3h0M1575.5 396.2h0M1578.3 397.3h0M1581.1 402.1h0M1583.9 401.6h0M1586.7 404h0M1589.5 403.9h0M1592.3 408.8h0M1595.1 407.3h0M1597.9 409.9h0M1600.6 414.9h0M1603.4 419.2h0M1606.2 423.6h0M1609 428h0M1611.8 431.6h0M1614.6 435.3h0M1617.4 441.8h0M1620.2 443.8h0M1623 447.8h0M1625.8 450.2h0M1628.6 453.6h0M1631.4 454.6h0M1634.2 458.8h0M1637 459.2h0M1639.8 459.8h0M1642.6 458.8h0M1645.4 460.8h0M1648.2 462.3h0M1651 463h0M1653.8 462.6h0M1656.6 463.4h0M1659.4 463h0M1662.2 461.5h0M1665 459.7h0M1667.8 462.2h0M1670.6 462.6h0M1673.4 463.7h0M1676.2 464.3h0M1679 463.3h0M1681.8 463.6h0M1684.6 464.8h0M1687.4 464.5h0M1690.2 464.7h0M1693 464.3h0M1695.7 465.7h0M1698.5 465.6h0M1701.3 465.9h0M1704.1 467.3h0M1706.9 469h0M1709.7 470.1h0M1712.5 470.5h0M1715.3 471.6h0M1718.1 473.1h0M1720.9 473.5h0M1723.7 473.3h0M1726.5 473.9h0M1729.3 473h0M1732.1 475.9h0M1734.9 474.3h0M1737.7 475.9h0M1740.5 475.1h0M1743.3 474.4h0" fill="none" stroke="#000" stroke-width="7.4" stroke-linecap="round"/>
<rect x="1267.8" y="1.2" width="475.5" height="475.5" fill="none" stroke="#000" stroke-width="3.0"/>
<path d="M1267.8 476.7v16.5M1295.8 476.7v8.8M1323.7 476.7v8.8M1351.7 476.7v16.5M1379.7 476.7v8.8M1407.7 476.7v8.8M1435.6 476.7v16.5M1463.6 476.7v8.8M1491.6 476.7v8.8M1519.5 476.7v16.5M1547.5 476.7v8.8M1575.5 476.7v8.8M1603.4 476.7v16.5M1631.4 476.7v8.8M1659.4 476.7v8.8M1687.4 476.7v16.5M1715.3 476.7v8.8M1743.3 476.7v8.8" fill="none" stroke="#000" stroke-width="2.8"/>
<text transform="translate(0,529.9) scale(1,1.04)" x="1267.8" y="0" font-size="33.5" text-anchor="middle">981</text>
<text transform="translate(0,529.9) scale(1,1.04)" x="1351.7" y="0" font-size="33.5" text-anchor="middle">984</text>
<text transform="translate(0,529.9) scale(1,1.04)" x="1435.6" y="0" font-size="33.5" text-anchor="middle">987</text>
<text transform="translate(0,529.9) scale(1,1.04)" x="1519.5" y="0" font-size="33.5" text-anchor="middle">990</text>
<text transform="translate(0,529.9) scale(1,1.04)" x="1603.4" y="0" font-size="33.5" text-anchor="middle">993</text>
<text transform="translate(0,529.9) scale(1,1.04)" x="1687.4" y="0" font-size="33.5" text-anchor="middle">996</text>
<text transform="translate(0,63.2) scale(1,1.04)" font-size="41"><tspan x="1292" y="0">(c)</tspan></text>
<text transform="translate(0,63.2) scale(1,1.04)" font-size="41"><tspan x="1491" y="0">Zn: Zn LMM</tspan></text>
<text transform="translate(0,125.3) scale(1,1.04)" font-size="33.5"><tspan x="1400" y="0">Zn</tspan><tspan x="1439.1" y="-12.9" font-size="23.4">X+</tspan></text><line x1="1400" y1="129.1" x2="1439.1" y2="129.1" stroke="#000" stroke-width="2.6"/>
<text transform="translate(0,168) scale(1,1.04)" font-size="33.5"><tspan x="1389.1" y="0">986.7</tspan></text>
<text transform="translate(0,328.5) scale(1,1.04)" font-size="33.5"><tspan x="1591" y="0">Zn</tspan><tspan x="1630.1" y="-12.9" font-size="23.4">0</tspan></text><line x1="1591" y1="332.3" x2="1630.1" y2="332.3" stroke="#000" stroke-width="2.6"/>
<text transform="translate(0,372) scale(1,1.04)" font-size="33.5"><tspan x="1575.1" y="0">992.6</tspan></text>
<text transform="translate(0,567) scale(1,1.04)" font-size="33.5"><tspan x="1450.2" y="0">E</tspan><tspan x="1472.6" y="9.5" font-size="23.4">K</tspan><tspan x="1488.2" y="0"> (eV)</tspan></text>
<polygon points="96.6,1062.8 96.6,1057.5 97.6,1057.6 98.5,1057.7 99.5,1057.8 100.4,1057.9 101.4,1058 102.3,1058.1 103.3,1058.2 104.2,1058.2 105.2,1058.3 106.1,1058.3 107.1,1058.3 108,1058.3 109,1058.2 109.9,1058.2 110.9,1058.1 111.8,1058 112.8,1057.8 113.8,1057.7 114.7,1057.5 115.7,1057.3 116.6,1057.1 117.6,1056.9 118.5,1056.6 119.5,1056.3 120.4,1056 121.4,1055.7 122.3,1055.3 123.3,1054.9 124.2,1054.5 125.2,1054.1 126.1,1053.7 127.1,1053.3 128,1052.8 129,1052.4 130,1051.9 130.9,1051.4 131.9,1050.9 132.8,1050.4 133.8,1050 134.7,1049.5 135.7,1049 136.6,1048.5 137.6,1048.1 138.5,1047.6 139.5,1047.2 140.4,1046.8 141.4,1046.4 142.3,1046 143.3,1045.6 144.2,1045.3 145.2,1045 146.2,1044.7 147.1,1044.5 148.1,1044.3 149,1044.1 150,1044 150.9,1043.9 151.9,1043.8 152.8,1043.8 153.8,1043.8 154.7,1043.9 155.7,1043.9 156.6,1044.1 157.6,1044.2 158.5,1044.4 159.5,1044.6 160.4,1044.9 161.4,1045.2 162.4,1045.5 163.3,1045.8 164.3,1046.2 165.2,1046.6 166.2,1047 167.1,1047.5 168.1,1047.9 169,1048.4 170,1048.9 170.9,1049.4 171.9,1049.9 172.8,1050.4 173.8,1050.9 174.7,1051.4 175.7,1051.9 176.6,1052.4 177.6,1052.9 178.5,1053.4 179.5,1053.9 180.5,1054.3 181.4,1054.8 182.4,1055.3 183.3,1055.7 184.3,1056.1 185.2,1056.5 186.2,1056.9 187.1,1057.3 188.1,1057.6 189,1058 190,1058.3 190.9,1058.6 191.9,1058.9 192.8,1059.1 193.8,1059.4 194.7,1059.6 195.7,1059.8 196.7,1059.9 197.6,1060.1 198.6,1060.2 199.5,1060.3 200.5,1060.4 201.4,1060.5 202.4,1060.5 203.3,1060.6 204.3,1060.6 205.2,1060.6 206.2,1060.5 207.1,1060.5 208.1,1060.4 209,1060.3 210,1060.2 210.9,1060 211.9,1059.8 212.9,1059.6 213.8,1059.4 214.8,1059.2 215.7,1058.9 216.7,1058.6 217.6,1058.3 218.6,1058 219.5,1057.6 220.5,1057.2 221.4,1056.8 222.4,1056.4 223.3,1055.9 224.3,1055.4 225.2,1054.9 226.2,1054.4 227.1,1053.8 228.1,1053.3 229.1,1052.7 230,1052 231,1051.4 231.9,1050.7 232.9,1050 233.8,1049.3 234.8,1048.6 235.7,1047.9 236.7,1047.2 237.6,1046.4 238.6,1045.7 239.5,1044.9 240.5,1044.1 241.4,1043.4 242.4,1042.6 243.3,1041.8 244.3,1041.1 245.3,1040.3 246.2,1039.5 247.2,1038.8 248.1,1038.1 249.1,1037.3 250,1036.6 251,1035.9 251.9,1035.3 252.9,1034.6 253.8,1034 254.8,1033.4 255.7,1032.8 256.7,1032.2 257.6,1031.6 258.6,1031.1 259.5,1030.6 260.5,1030.1 261.5,1029.7 262.4,1029.2 263.4,1028.8 264.3,1028.4 265.3,1028.1 266.2,1027.7 267.2,1027.4 268.1,1027.1 269.1,1026.8 270,1026.6 271,1026.4 271.9,1026.1 272.9,1025.9 273.8,1025.8 274.8,1025.6 275.7,1025.5 276.7,1025.3 277.7,1025.2 278.6,1025.1 279.6,1025 280.5,1024.9 281.5,1024.8 282.4,1024.8 283.4,1024.7 284.3,1024.6 285.3,1024.6 286.2,1024.5 287.2,1024.4 288.1,1024.3 289.1,1024.2 290,1024.1 291,1024 291.9,1023.9 292.9,1023.7 293.9,1023.5 294.8,1023.3 295.8,1023 296.7,1022.7 297.7,1022.3 298.6,1021.9 299.6,1021.5 300.5,1021 301.5,1020.4 302.4,1019.7 303.4,1019 304.3,1018.2 305.3,1017.3 306.2,1016.3 307.2,1015.3 308.1,1014.1 309.1,1012.8 310.1,1011.5 311,1010 312,1008.5 312.9,1006.8 313.9,1005 314.8,1003.1 315.8,1001.1 316.7,998.9 317.7,996.7 318.6,994.3 319.6,991.9 320.5,989.3 321.5,986.6 322.4,983.8 323.4,980.9 324.3,977.9 325.3,974.8 326.3,971.5 327.2,968.2 328.2,964.8 329.1,961.3 330.1,957.7 331,954 332,950.2 332.9,946.3 333.9,942.3 334.8,938.3 335.8,934.1 336.7,929.9 337.7,925.6 338.6,921.3 339.6,916.8 340.5,912.3 341.5,907.8 342.4,903.1 343.4,898.4 344.4,893.7 345.3,888.9 346.3,884.1 347.2,879.2 348.2,874.3 349.1,869.4 350.1,864.4 351,859.5 352,854.6 352.9,849.7 353.9,844.8 354.8,840 355.8,835.2 356.7,830.6 357.7,826 358.6,821.5 359.6,817.2 360.6,813 361.5,809 362.5,805.1 363.4,801.5 364.4,798.1 365.3,795 366.3,792.1 367.2,789.5 368.2,787.2 369.1,785.2 370.1,783.6 371,782.3 372,781.4 372.9,780.8 373.9,780.6 374.8,780.8 375.8,781.4 376.8,782.5 377.7,784 378.7,785.8 379.6,788.2 380.6,790.9 381.5,794 382.5,797.5 383.4,801.4 384.4,805.6 385.3,810.2 386.3,815.1 387.2,820.2 388.2,825.7 389.1,831.4 390.1,837.3 391,843.4 392,849.7 393,856.1 393.9,862.7 394.9,869.3 395.8,876 396.8,882.8 397.7,889.5 398.7,896.3 399.6,903 400.6,909.7 401.5,916.3 402.5,922.8 403.4,929.2 404.4,935.4 405.3,941.6 406.3,947.5 407.2,953.3 408.2,958.9 409.2,964.4 410.1,969.6 411.1,974.6 412,979.4 413,984 413.9,988.4 414.9,992.6 415.8,996.5 416.8,1000.3 417.7,1003.8 418.7,1007.1 419.6,1010.2 420.6,1013.1 421.5,1015.8 422.5,1018.3 423.4,1020.7 424.4,1022.8 425.4,1024.9 426.3,1026.7 427.3,1028.4 428.2,1030 429.2,1031.5 430.1,1032.9 431.1,1034.1 432,1035.3 433,1036.3 433.9,1037.3 434.9,1038.2 435.8,1039 436.8,1039.8 437.7,1040.5 438.7,1041.1 439.6,1041.7 440.6,1042.3 441.6,1042.8 442.5,1043.3 443.5,1043.7 444.4,1044.1 445.4,1044.4 446.3,1044.7 447.3,1044.9 448.2,1045.1 449.2,1045.3 450.1,1045.4 451.1,1045.5 452,1045.6 453,1045.6 453.9,1045.6 454.9,1045.5 455.8,1045.4 456.8,1045.2 457.8,1045 458.7,1044.8 459.7,1044.6 460.6,1044.3 461.6,1044 462.5,1043.6 463.5,1043.3 464.4,1042.9 465.4,1042.5 466.3,1042.2 467.3,1041.8 468.2,1041.4 469.2,1041 470.1,1040.6 471.1,1040.2 472,1039.9 473,1039.5 474,1039.2 474.9,1038.9 475.9,1038.7 476.8,1038.4 477.8,1038.2 478.7,1038 479.7,1037.9 480.6,1037.8 481.6,1037.7 482.5,1037.7 483.5,1037.7 484.4,1037.8 485.4,1037.9 486.3,1038 487.3,1038.2 488.2,1038.4 489.2,1038.7 490.2,1039 491.1,1039.3 492.1,1039.7 493,1040.1 494,1040.6 494.9,1041 495.9,1041.5 496.8,1042.1 497.8,1042.6 498.7,1043.2 499.7,1043.7 500.6,1044.3 501.6,1044.9 502.5,1045.6 503.5,1046.2 504.4,1046.8 505.4,1047.5 506.3,1048.1 507.3,1048.7 508.3,1049.4 509.2,1050 510.2,1050.6 511.1,1051.2 512.1,1051.8 513,1052.4 514,1053 514.9,1053.5 515.9,1054.1 516.8,1054.6 517.8,1055.1 518.7,1055.6 519.7,1056 520.6,1056.5 521.6,1056.9 522.5,1057.3 523.5,1057.7 524.5,1058.1 525.4,1058.4 526.4,1058.8 527.3,1059.1 528.3,1059.4 529.2,1059.7 530.2,1059.9 531.1,1060.2 532.1,1060.4 533,1060.6 534,1060.8 534.9,1061 535.9,1061.1 536.8,1061.3 537.8,1061.4 538.7,1061.6 539.7,1061.7 540.7,1061.8 541.6,1061.9 542.6,1062 543.5,1062.1 544.5,1062.2 545.4,1062.2 546.4,1062.3 547.3,1062.3 548.3,1062.4 549.2,1062.4 550.2,1062.5 551.1,1062.5 552.1,1062.6 553,1062.6 554,1062.6 554.9,1062.6 555.9,1062.7 556.9,1062.7 557.8,1062.7 558.8,1062.7 559.7,1062.7 560.7,1062.7 561.6,1062.7 562.6,1062.7 563.5,1062.8 564.5,1062.8 565.4,1062.8 566.4,1062.8 567.3,1062.8 568.3,1062.8 569.2,1062.8 570.2,1062.8 571.1,1062.8 572.1,1062.8 572.1,1062.8" fill="#f2f2f2" stroke="#f2f2f2" stroke-width="5" stroke-linejoin="round"/>
<polyline points="189,1062.7 190,1062.6 190.9,1062.6 191.9,1062.6 192.8,1062.6 193.8,1062.5 194.7,1062.5 195.7,1062.5 196.7,1062.4 197.6,1062.4 198.6,1062.3 199.5,1062.2 200.5,1062.2 201.4,1062.1 202.4,1062 203.3,1061.9 204.3,1061.8 205.2,1061.7 206.2,1061.6 207.1,1061.4 208.1,1061.3 209,1061.1 210,1060.9 210.9,1060.7 211.9,1060.5 212.9,1060.3 213.8,1060.1 214.8,1059.8 215.7,1059.6 216.7,1059.3 217.6,1058.9 218.6,1058.6 219.5,1058.3 220.5,1057.9 221.4,1057.5 222.4,1057.1 223.3,1056.7 224.3,1056.2 225.2,1055.8 226.2,1055.3 227.1,1054.8 228.1,1054.3 229.1,1053.8 230,1053.2 231,1052.7 231.9,1052.1 232.9,1051.5 233.8,1050.9 234.8,1050.4 235.7,1049.8 236.7,1049.2 237.6,1048.6 238.6,1048 239.5,1047.4 240.5,1046.8 241.4,1046.3 242.4,1045.7 243.3,1045.2 244.3,1044.7 245.3,1044.2 246.2,1043.7 247.2,1043.3 248.1,1042.9 249.1,1042.5 250,1042.2 251,1041.8 251.9,1041.6 252.9,1041.3 253.8,1041.2 254.8,1041 255.7,1040.9 256.7,1040.8 257.6,1040.8 258.6,1040.8 259.5,1040.9 260.5,1041 261.5,1041.1 262.4,1041.3 263.4,1041.6 264.3,1041.8 265.3,1042.1 266.2,1042.5 267.2,1042.9 268.1,1043.3 269.1,1043.7 270,1044.2 271,1044.6 271.9,1045.2 272.9,1045.7 273.8,1046.2 274.8,1046.8 275.7,1047.4 276.7,1048 277.7,1048.5 278.6,1049.1 279.6,1049.7 280.5,1050.3 281.5,1050.9 282.4,1051.5 283.4,1052.1 284.3,1052.6 285.3,1053.2 286.2,1053.7 287.2,1054.3 288.1,1054.8 289.1,1055.3 290,1055.7 291,1056.2 291.9,1056.7 292.9,1057.1 293.9,1057.5 294.8,1057.9 295.8,1058.2 296.7,1058.6 297.7,1058.9 298.6,1059.2 299.6,1059.5 300.5,1059.8 301.5,1060.1 302.4,1060.3 303.4,1060.5 304.3,1060.7 305.3,1060.9 306.2,1061.1 307.2,1061.3 308.1,1061.4 309.1,1061.6 310.1,1061.7 311,1061.8 312,1061.9 312.9,1062 313.9,1062.1 314.8,1062.2 315.8,1062.2 316.7,1062.3 317.7,1062.4 318.6,1062.4 319.6,1062.5 320.5,1062.5 321.5,1062.5 322.4,1062.6 323.4,1062.6 324.3,1062.6 325.3,1062.6 326.3,1062.7" fill="none" stroke="#000" stroke-width="2.9" stroke-linejoin="round"/>
<polyline points="223.3,1062.7 224.3,1062.6 225.2,1062.6 226.2,1062.6 227.1,1062.6 228.1,1062.5 229.1,1062.5 230,1062.4 231,1062.4 231.9,1062.3 232.9,1062.3 233.8,1062.2 234.8,1062.1 235.7,1062 236.7,1061.9 237.6,1061.8 238.6,1061.7 239.5,1061.6 240.5,1061.5 241.4,1061.3 242.4,1061.2 243.3,1061 244.3,1060.8 245.3,1060.6 246.2,1060.4 247.2,1060.2 248.1,1059.9 249.1,1059.6 250,1059.3 251,1059 251.9,1058.7 252.9,1058.4 253.8,1058 254.8,1057.6 255.7,1057.2 256.7,1056.8 257.6,1056.3 258.6,1055.9 259.5,1055.4 260.5,1054.9 261.5,1054.4 262.4,1053.9 263.4,1053.3 264.3,1052.8 265.3,1052.2 266.2,1051.6 267.2,1051 268.1,1050.4 269.1,1049.8 270,1049.2 271,1048.6 271.9,1048 272.9,1047.4 273.8,1046.8 274.8,1046.2 275.7,1045.6 276.7,1045.1 277.7,1044.6 278.6,1044 279.6,1043.6 280.5,1043.1 281.5,1042.7 282.4,1042.3 283.4,1041.9 284.3,1041.5 285.3,1041.2 286.2,1041 287.2,1040.8 288.1,1040.6 289.1,1040.4 290,1040.4 291,1040.3 291.9,1040.3 292.9,1040.3 293.9,1040.4 294.8,1040.6 295.8,1040.7 296.7,1040.9 297.7,1041.2 298.6,1041.5 299.6,1041.8 300.5,1042.2 301.5,1042.6 302.4,1043 303.4,1043.5 304.3,1044 305.3,1044.5 306.2,1045 307.2,1045.5 308.1,1046.1 309.1,1046.7 310.1,1047.3 311,1047.9 312,1048.5 312.9,1049.1 313.9,1049.7 314.8,1050.3 315.8,1050.9 316.7,1051.5 317.7,1052.1 318.6,1052.7 319.6,1053.2 320.5,1053.8 321.5,1054.3 322.4,1054.8 323.4,1055.3 324.3,1055.8 325.3,1056.3 326.3,1056.7 327.2,1057.1 328.2,1057.5 329.1,1057.9 330.1,1058.3 331,1058.7 332,1059 332.9,1059.3 333.9,1059.6 334.8,1059.9 335.8,1060.1 336.7,1060.3 337.7,1060.6 338.6,1060.8 339.6,1061 340.5,1061.1 341.5,1061.3 342.4,1061.5 343.4,1061.6 344.4,1061.7 345.3,1061.8 346.3,1061.9 347.2,1062 348.2,1062.1 349.1,1062.2 350.1,1062.3 351,1062.3 352,1062.4 352.9,1062.4 353.9,1062.5 354.8,1062.5 355.8,1062.5 356.7,1062.6 357.7,1062.6 358.6,1062.6 359.6,1062.7" fill="none" stroke="#000" stroke-width="2.9" stroke-linejoin="round"/>
<polyline points="267.2,1062.7 268.1,1062.6 269.1,1062.6 270,1062.6 271,1062.5 271.9,1062.5 272.9,1062.4 273.8,1062.4 274.8,1062.3 275.7,1062.2 276.7,1062.2 277.7,1062.1 278.6,1062 279.6,1061.8 280.5,1061.7 281.5,1061.5 282.4,1061.4 283.4,1061.2 284.3,1060.9 285.3,1060.7 286.2,1060.4 287.2,1060.1 288.1,1059.8 289.1,1059.4 290,1059 291,1058.6 291.9,1058.1 292.9,1057.6 293.9,1057 294.8,1056.4 295.8,1055.7 296.7,1054.9 297.7,1054.2 298.6,1053.3 299.6,1052.4 300.5,1051.5 301.5,1050.4 302.4,1049.4 303.4,1048.2 304.3,1047 305.3,1045.7 306.2,1044.4 307.2,1043 308.1,1041.6 309.1,1040 310.1,1038.5 311,1036.9 312,1035.2 312.9,1033.5 313.9,1031.8 314.8,1030.1 315.8,1028.3 316.7,1026.5 317.7,1024.7 318.6,1022.9 319.6,1021.1 320.5,1019.3 321.5,1017.6 322.4,1015.8 323.4,1014.2 324.3,1012.5 325.3,1011 326.3,1009.5 327.2,1008.1 328.2,1006.7 329.1,1005.5 330.1,1004.4 331,1003.4 332,1002.5 332.9,1001.7 333.9,1001.1 334.8,1000.5 335.8,1000.2 336.7,999.9 337.7,999.8 338.6,999.8 339.6,1000 340.5,1000.3 341.5,1000.8 342.4,1001.4 343.4,1002.1 344.4,1002.9 345.3,1003.9 346.3,1005 347.2,1006.1 348.2,1007.4 349.1,1008.8 350.1,1010.2 351,1011.8 352,1013.4 352.9,1015 353.9,1016.7 354.8,1018.5 355.8,1020.2 356.7,1022 357.7,1023.8 358.6,1025.6 359.6,1027.4 360.6,1029.2 361.5,1031 362.5,1032.7 363.4,1034.4 364.4,1036.1 365.3,1037.7 366.3,1039.3 367.2,1040.8 368.2,1042.3 369.1,1043.7 370.1,1045.1 371,1046.4 372,1047.6 372.9,1048.8 373.9,1049.9 374.8,1051 375.8,1052 376.8,1052.9 377.7,1053.8 378.7,1054.6 379.6,1055.3 380.6,1056 381.5,1056.7 382.5,1057.3 383.4,1057.8 384.4,1058.3 385.3,1058.8 386.3,1059.2 387.2,1059.6 388.2,1060 389.1,1060.3 390.1,1060.6 391,1060.8 392,1061.1 393,1061.3 393.9,1061.5 394.9,1061.6 395.8,1061.8 396.8,1061.9 397.7,1062 398.7,1062.1 399.6,1062.2 400.6,1062.3 401.5,1062.4 402.5,1062.4 403.4,1062.5 404.4,1062.5 405.3,1062.6 406.3,1062.6 407.2,1062.6 408.2,1062.7" fill="none" stroke="#000" stroke-width="2.9" stroke-linejoin="round"/>
<polyline points="287.2,1062.7 288.1,1062.6 289.1,1062.6 290,1062.6 291,1062.5 291.9,1062.5 292.9,1062.4 293.9,1062.4 294.8,1062.3 295.8,1062.2 296.7,1062.1 297.7,1062 298.6,1061.9 299.6,1061.8 300.5,1061.6 301.5,1061.5 302.4,1061.3 303.4,1061.1 304.3,1060.8 305.3,1060.5 306.2,1060.2 307.2,1059.9 308.1,1059.5 309.1,1059.1 310.1,1058.6 311,1058 312,1057.4 312.9,1056.8 313.9,1056.1 314.8,1055.3 315.8,1054.4 316.7,1053.4 317.7,1052.4 318.6,1051.2 319.6,1049.9 320.5,1048.6 321.5,1047.1 322.4,1045.4 323.4,1043.7 324.3,1041.8 325.3,1039.8 326.3,1037.6 327.2,1035.2 328.2,1032.7 329.1,1030 330.1,1027.1 331,1024 332,1020.8 332.9,1017.4 333.9,1013.7 334.8,1009.9 335.8,1005.9 336.7,1001.6 337.7,997.2 338.6,992.6 339.6,987.8 340.5,982.7 341.5,977.6 342.4,972.2 343.4,966.6 344.4,960.9 345.3,955.1 346.3,949.1 347.2,943 348.2,936.8 349.1,930.5 350.1,924.1 351,917.7 352,911.2 352.9,904.8 353.9,898.3 354.8,891.9 355.8,885.6 356.7,879.3 357.7,873.2 358.6,867.2 359.6,861.3 360.6,855.7 361.5,850.2 362.5,845 363.4,840.1 364.4,835.5 365.3,831.1 366.3,827.1 367.2,823.5 368.2,820.2 369.1,817.3 370.1,814.8 371,812.8 372,811.1 372.9,809.9 373.9,809.1 374.8,808.8 375.8,808.9 376.8,809.6 377.7,810.6 378.7,812.2 379.6,814.2 380.6,816.6 381.5,819.5 382.5,822.8 383.4,826.6 384.4,830.6 385.3,835.1 386.3,839.9 387.2,845 388.2,850.3 389.1,856 390.1,861.8 391,867.9 392,874.1 393,880.5 393.9,887 394.9,893.6 395.8,900.2 396.8,906.9 397.7,913.6 398.7,920.3 399.6,926.9 400.6,933.5 401.5,939.9 402.5,946.3 403.4,952.6 404.4,958.7 405.3,964.6 406.3,970.4 407.2,976 408.2,981.4 409.2,986.7 410.1,991.7 411.1,996.5 412,1001.1 413,1005.5 413.9,1009.7 414.9,1013.7 415.8,1017.4 416.8,1021 417.7,1024.3 418.7,1027.5 419.6,1030.4 420.6,1033.2 421.5,1035.8 422.5,1038.1 423.4,1040.4 424.4,1042.4 425.4,1044.3 426.3,1046.1 427.3,1047.7 428.2,1049.2 429.2,1050.6 430.1,1051.8 431.1,1053 432,1054 433,1055 433.9,1055.8 434.9,1056.6 435.8,1057.3 436.8,1057.9 437.7,1058.5 438.7,1059 439.6,1059.4 440.6,1059.8 441.6,1060.2 442.5,1060.5 443.5,1060.8 444.4,1061.1 445.4,1061.3 446.3,1061.5 447.3,1061.7 448.2,1061.8 449.2,1061.9 450.1,1062.1 451.1,1062.2 452,1062.3 453,1062.3 453.9,1062.4 454.9,1062.5 455.8,1062.5 456.8,1062.6 457.8,1062.6 458.7,1062.6 459.7,1062.6 460.6,1062.7" fill="none" stroke="#000" stroke-width="2.9" stroke-linejoin="round"/>
<polyline points="335.8,1062.7 336.7,1062.6 337.7,1062.6 338.6,1062.6 339.6,1062.5 340.5,1062.5 341.5,1062.5 342.4,1062.4 343.4,1062.4 344.4,1062.3 345.3,1062.2 346.3,1062.2 347.2,1062.1 348.2,1062 349.1,1061.9 350.1,1061.8 351,1061.6 352,1061.5 352.9,1061.3 353.9,1061.2 354.8,1061 355.8,1060.8 356.7,1060.6 357.7,1060.3 358.6,1060.1 359.6,1059.8 360.6,1059.5 361.5,1059.2 362.5,1058.9 363.4,1058.5 364.4,1058.2 365.3,1057.8 366.3,1057.4 367.2,1056.9 368.2,1056.5 369.1,1056 370.1,1055.5 371,1055 372,1054.4 372.9,1053.9 373.9,1053.3 374.8,1052.7 375.8,1052.1 376.8,1051.5 377.7,1050.9 378.7,1050.3 379.6,1049.7 380.6,1049.1 381.5,1048.5 382.5,1047.9 383.4,1047.3 384.4,1046.7 385.3,1046.1 386.3,1045.6 387.2,1045 388.2,1044.5 389.1,1044.1 390.1,1043.6 391,1043.2 392,1042.8 393,1042.5 393.9,1042.2 394.9,1041.9 395.8,1041.7 396.8,1041.5 397.7,1041.4 398.7,1041.3 399.6,1041.3 400.6,1041.3 401.5,1041.4 402.5,1041.5 403.4,1041.7 404.4,1041.9 405.3,1042.1 406.3,1042.4 407.2,1042.7 408.2,1043.1 409.2,1043.5 410.1,1044 411.1,1044.4 412,1044.9 413,1045.5 413.9,1046 414.9,1046.6 415.8,1047.1 416.8,1047.7 417.7,1048.3 418.7,1049 419.6,1049.6 420.6,1050.2 421.5,1050.8 422.5,1051.4 423.4,1052 424.4,1052.6 425.4,1053.2 426.3,1053.8 427.3,1054.3 428.2,1054.8 429.2,1055.4 430.1,1055.9 431.1,1056.4 432,1056.8 433,1057.3 433.9,1057.7 434.9,1058.1 435.8,1058.5 436.8,1058.8 437.7,1059.1 438.7,1059.5 439.6,1059.8 440.6,1060 441.6,1060.3 442.5,1060.5 443.5,1060.7 444.4,1060.9 445.4,1061.1 446.3,1061.3 447.3,1061.5 448.2,1061.6 449.2,1061.7 450.1,1061.8 451.1,1062 452,1062 453,1062.1 453.9,1062.2 454.9,1062.3 455.8,1062.3 456.8,1062.4 457.8,1062.5 458.7,1062.5 459.7,1062.5 460.6,1062.6 461.6,1062.6 462.5,1062.6 463.5,1062.7" fill="none" stroke="#000" stroke-width="2.9" stroke-linejoin="round"/>
<polyline points="410.1,1062.7 411.1,1062.6 412,1062.6 413,1062.6 413.9,1062.6 414.9,1062.5 415.8,1062.5 416.8,1062.4 417.7,1062.4 418.7,1062.3 419.6,1062.3 420.6,1062.2 421.5,1062.2 422.5,1062.1 423.4,1062 424.4,1061.9 425.4,1061.8 426.3,1061.7 427.3,1061.6 428.2,1061.4 429.2,1061.3 430.1,1061.1 431.1,1061 432,1060.8 433,1060.6 433.9,1060.4 434.9,1060.1 435.8,1059.9 436.8,1059.6 437.7,1059.3 438.7,1059.1 439.6,1058.7 440.6,1058.4 441.6,1058 442.5,1057.7 443.5,1057.3 444.4,1056.9 445.4,1056.4 446.3,1056 447.3,1055.5 448.2,1055 449.2,1054.5 450.1,1054 451.1,1053.5 452,1052.9 453,1052.3 453.9,1051.7 454.9,1051.1 455.8,1050.5 456.8,1049.9 457.8,1049.3 458.7,1048.7 459.7,1048 460.6,1047.4 461.6,1046.7 462.5,1046.1 463.5,1045.5 464.4,1044.9 465.4,1044.3 466.3,1043.7 467.3,1043.1 468.2,1042.5 469.2,1042 470.1,1041.5 471.1,1041 472,1040.5 473,1040.1 474,1039.7 474.9,1039.3 475.9,1039 476.8,1038.7 477.8,1038.4 478.7,1038.2 479.7,1038.1 480.6,1037.9 481.6,1037.8 482.5,1037.8 483.5,1037.8 484.4,1037.9 485.4,1037.9 486.3,1038.1 487.3,1038.3 488.2,1038.5 489.2,1038.7 490.2,1039 491.1,1039.4 492.1,1039.7 493,1040.1 494,1040.6 494.9,1041 495.9,1041.5 496.8,1042.1 497.8,1042.6 498.7,1043.2 499.7,1043.7 500.6,1044.3 501.6,1044.9 502.5,1045.6 503.5,1046.2 504.4,1046.8 505.4,1047.5 506.3,1048.1 507.3,1048.7 508.3,1049.4 509.2,1050 510.2,1050.6 511.1,1051.2 512.1,1051.8 513,1052.4 514,1053 514.9,1053.5 515.9,1054.1 516.8,1054.6 517.8,1055.1 518.7,1055.6 519.7,1056 520.6,1056.5 521.6,1056.9 522.5,1057.3 523.5,1057.7 524.5,1058.1 525.4,1058.4 526.4,1058.8 527.3,1059.1 528.3,1059.4 529.2,1059.7 530.2,1059.9 531.1,1060.2 532.1,1060.4 533,1060.6 534,1060.8 534.9,1061 535.9,1061.1 536.8,1061.3 537.8,1061.4 538.7,1061.6 539.7,1061.7 540.7,1061.8 541.6,1061.9 542.6,1062 543.5,1062.1 544.5,1062.2 545.4,1062.2 546.4,1062.3 547.3,1062.3 548.3,1062.4 549.2,1062.4 550.2,1062.5 551.1,1062.5 552.1,1062.6 553,1062.6 554,1062.6 554.9,1062.6 555.9,1062.7" fill="none" stroke="#000" stroke-width="2.9" stroke-linejoin="round"/>
<path d="M96.6 1058.4h0M99.6 1057.8h0M102.5 1057.4h0M105.5 1058.5h0M108.5 1059.5h0M111.5 1057.5h0M114.4 1057.7h0M117.4 1056.3h0M120.4 1056.4h0M123.3 1053.2h0M126.3 1052h0M129.3 1050.3h0M132.3 1049.7h0M135.2 1048.2h0M138.2 1048.8h0M141.2 1044.6h0M144.2 1046.3h0M147.1 1044.3h0M150.1 1044.5h0M153.1 1044.3h0M156 1044.6h0M159 1045.3h0M162 1044.3h0M165 1046.8h0M167.9 1047.1h0M170.9 1051.2h0M173.9 1051.3h0M176.8 1054h0M179.8 1054h0M182.8 1057.4h0M185.8 1056.8h0M188.7 1057.3h0M191.7 1059.2h0M194.7 1058.2h0M197.6 1059.5h0M200.6 1059.1h0M203.6 1059.9h0M206.6 1060.9h0M209.5 1060.9h0M212.5 1060.3h0M215.5 1059.2h0M218.4 1058.1h0M221.4 1058.9h0M224.4 1056.7h0M227.4 1054.8h0M230.3 1053h0M233.3 1049.8h0M236.3 1047.2h0M239.3 1042.6h0M242.2 1042.5h0M245.2 1039.7h0M248.2 1037h0M251.1 1035.5h0M254.1 1033h0M257.1 1030.1h0M260.1 1027.7h0M263 1028.4h0M266 1025.5h0M269 1026.9h0M271.9 1026.6h0M274.9 1025.7h0M277.9 1025.4h0M280.9 1024.3h0M283.8 1024.4h0M286.8 1024.8h0M289.8 1024.6h0M292.7 1024.9h0M295.7 1021.9h0M298.7 1022.9h0M301.7 1020.7h0M304.6 1015.3h0M307.6 1014.6h0M310.6 1012.5h0M313.5 1004.1h0M316.5 1000.5h0M319.5 991.1h0M322.5 984.2h0M325.4 973.4h0M328.4 964.8h0M331.4 953.1h0M334.4 940.4h0M337.3 926.8h0M340.3 911.9h0M343.3 894.9h0M346.2 884.7h0M349.2 865.3h0M352.2 852.1h0M355.2 835.4h0M358.1 824h0M361.1 810.9h0M364.1 799.4h0M367 789.6h0M370 781.8h0M373 779.9h0M376 777.4h0M378.9 784h0M381.9 794.4h0M384.9 806h0M387.8 823.1h0M390.8 840.8h0M393.8 861h0M396.8 881.2h0M399.7 901.3h0M402.7 922.3h0M405.7 943.8h0M408.6 961.3h0M411.6 978.7h0M414.6 991.4h0M417.6 1004.4h0M420.5 1011h0M423.5 1020.3h0M426.5 1026.4h0M429.4 1030.9h0M432.4 1035.3h0M435.4 1038.8h0M438.4 1039.1h0M441.3 1042.2h0M444.3 1044h0M447.3 1043.6h0M450.3 1046.3h0M453.2 1044.4h0M456.2 1045.6h0M459.2 1045.1h0M462.1 1042.6h0M465.1 1040.9h0M468.1 1040.5h0M471.1 1038.1h0M474 1036h0M477 1034.9h0M480 1036.2h0M482.9 1036.7h0M485.9 1037.3h0M488.9 1038.6h0M491.9 1039.5h0M494.8 1041.2h0M497.8 1044.4h0M500.8 1044.9h0M503.7 1048.4h0M506.7 1048.4h0M509.7 1048.6h0M512.7 1052.3h0M515.6 1052.9h0M518.6 1055h0M521.6 1057h0M524.5 1058.8h0M527.5 1059.4h0M530.5 1061.1h0M533.5 1061.4h0M536.4 1062.1h0M539.4 1061.8h0M542.4 1062.6h0M545.4 1063.2h0M548.3 1062.7h0M551.3 1063.7h0M554.3 1062.7h0M557.2 1062.3h0M560.2 1062.9h0M563.2 1062.4h0M566.2 1062.3h0M569.1 1063.2h0M572.1 1063.3h0" fill="none" stroke="#000" stroke-width="7.4" stroke-linecap="round"/>
<rect x="96.6" y="587.3" width="475.5" height="475.5" fill="none" stroke="#000" stroke-width="3.0"/>
<path d="M572.1 1062.8v16.5M542.4 1062.8v8.8M512.7 1062.8v8.8M482.9 1062.8v16.5M453.2 1062.8v8.8M423.5 1062.8v8.8M393.8 1062.8v16.5M364.1 1062.8v8.8M334.4 1062.8v8.8M304.6 1062.8v16.5M274.9 1062.8v8.8M245.2 1062.8v8.8M215.5 1062.8v16.5M185.8 1062.8v8.8M156 1062.8v8.8M126.3 1062.8v16.5M96.6 1062.8v8.8" fill="none" stroke="#000" stroke-width="2.8"/>
<text transform="translate(0,1116) scale(1,1.04)" x="572.1" y="0" font-size="33.5" text-anchor="middle">279</text>
<text transform="translate(0,1116) scale(1,1.04)" x="482.9" y="0" font-size="33.5" text-anchor="middle">282</text>
<text transform="translate(0,1116) scale(1,1.04)" x="393.8" y="0" font-size="33.5" text-anchor="middle">285</text>
<text transform="translate(0,1116) scale(1,1.04)" x="304.6" y="0" font-size="33.5" text-anchor="middle">288</text>
<text transform="translate(0,1116) scale(1,1.04)" x="215.5" y="0" font-size="33.5" text-anchor="middle">291</text>
<text transform="translate(0,1116) scale(1,1.04)" x="126.3" y="0" font-size="33.5" text-anchor="middle">294</text>
<text transform="translate(0,649.5) scale(1,1.04)" font-size="41"><tspan x="120.7" y="0">(d)</tspan></text>
<text transform="translate(0,649.5) scale(1,1.04)" font-size="41"><tspan x="402.5" y="0">Ti: C 1s</tspan></text>
<text transform="translate(0,717) scale(1,1.04)" font-size="33.5"><tspan x="340.6" y="0">C</tspan><tspan x="364.8" y="0">–O</tspan></text><line x1="340.6" y1="720.8" x2="364.8" y2="720.8" stroke="#000" stroke-width="2.6"/>
<text transform="translate(0,761.2) scale(1,1.04)" font-size="33.5"><tspan x="333.1" y="0">285.6</tspan></text>
<text transform="translate(0,982) scale(1,1.04)" font-size="33.5"><tspan x="121" y="0">K 2p</tspan><tspan x="189.9" y="9.5" font-size="23.4">3/2</tspan></text>
<text transform="translate(0,1027) scale(1,1.04)" font-size="33.5"><tspan x="121" y="0">293.2</tspan></text>
<text transform="translate(0,973.5) scale(1,1.04)" font-size="33.5"><tspan x="459.3" y="0">Ti–</tspan><tspan x="504.6" y="0">C</tspan></text><line x1="504.6" y1="977.3" x2="528.7" y2="977.3" stroke="#000" stroke-width="2.6"/>
<text transform="translate(0,1017) scale(1,1.04)" font-size="33.5"><tspan x="452.1" y="0">282.0</tspan></text>
<text transform="translate(0,1153) scale(1,1.04)" font-size="33.5"><tspan x="279.2" y="0">E</tspan><tspan x="301.6" y="9.5" font-size="23.4">B</tspan><tspan x="317.2" y="0"> (eV)</tspan></text>
<polygon points="682.3,1062.8 682.3,1062.8 683.3,1062.8 684.2,1062.8 685.2,1062.8 686.1,1062.8 687.1,1062.8 688,1062.8 689,1062.8 689.9,1062.8 690.9,1062.8 691.8,1062.8 692.8,1062.8 693.7,1062.8 694.7,1062.8 695.6,1062.8 696.6,1062.8 697.5,1062.8 698.5,1062.8 699.5,1062.8 700.4,1062.8 701.4,1062.8 702.3,1062.8 703.3,1062.8 704.2,1062.8 705.2,1062.8 706.1,1062.8 707.1,1062.8 708,1062.8 709,1062.8 709.9,1062.8 710.9,1062.8 711.8,1062.8 712.8,1062.8 713.7,1062.8 714.7,1062.8 715.7,1062.8 716.6,1062.8 717.6,1062.8 718.5,1062.8 719.5,1062.8 720.4,1062.7 721.4,1062.7 722.3,1062.7 723.3,1062.7 724.2,1062.7 725.2,1062.7 726.1,1062.7 727.1,1062.7 728,1062.7 729,1062.7 729.9,1062.7 730.9,1062.6 731.9,1062.6 732.8,1062.6 733.8,1062.6 734.7,1062.6 735.7,1062.5 736.6,1062.5 737.6,1062.5 738.5,1062.5 739.5,1062.4 740.4,1062.4 741.4,1062.4 742.3,1062.3 743.3,1062.3 744.2,1062.2 745.2,1062.2 746.1,1062.1 747.1,1062.1 748.1,1062 749,1061.9 750,1061.8 750.9,1061.8 751.9,1061.7 752.8,1061.6 753.8,1061.5 754.7,1061.4 755.7,1061.3 756.6,1061.2 757.6,1061 758.5,1060.9 759.5,1060.8 760.4,1060.6 761.4,1060.5 762.3,1060.3 763.3,1060.1 764.2,1060 765.2,1059.8 766.2,1059.6 767.1,1059.4 768.1,1059.1 769,1058.9 770,1058.7 770.9,1058.4 771.9,1058.2 772.8,1057.9 773.8,1057.6 774.7,1057.4 775.7,1057.1 776.6,1056.8 777.6,1056.4 778.5,1056.1 779.5,1055.8 780.4,1055.4 781.4,1055.1 782.4,1054.7 783.3,1054.4 784.3,1054 785.2,1053.6 786.2,1053.2 787.1,1052.8 788.1,1052.4 789,1052 790,1051.6 790.9,1051.2 791.9,1050.8 792.8,1050.4 793.8,1050 794.7,1049.5 795.7,1049.1 796.6,1048.7 797.6,1048.3 798.6,1047.9 799.5,1047.4 800.5,1047 801.4,1046.6 802.4,1046.2 803.3,1045.8 804.3,1045.4 805.2,1045 806.2,1044.6 807.1,1044.2 808.1,1043.8 809,1043.4 810,1043 810.9,1042.7 811.9,1042.3 812.8,1041.9 813.8,1041.6 814.8,1041.2 815.7,1040.8 816.7,1040.5 817.6,1040.1 818.6,1039.7 819.5,1039.4 820.5,1039 821.4,1038.6 822.4,1038.3 823.3,1037.9 824.3,1037.5 825.2,1037.1 826.2,1036.7 827.1,1036.3 828.1,1035.8 829,1035.4 830,1034.9 831,1034.4 831.9,1033.9 832.9,1033.4 833.8,1032.8 834.8,1032.2 835.7,1031.6 836.7,1031 837.6,1030.3 838.6,1029.6 839.5,1028.9 840.5,1028.1 841.4,1027.4 842.4,1026.5 843.3,1025.7 844.3,1024.8 845.2,1023.9 846.2,1022.9 847.2,1021.9 848.1,1020.9 849.1,1019.8 850,1018.7 851,1017.6 851.9,1016.5 852.9,1015.3 853.8,1014.1 854.8,1012.9 855.7,1011.6 856.7,1010.4 857.6,1009.1 858.6,1007.8 859.5,1006.5 860.5,1005.2 861.4,1003.8 862.4,1002.5 863.4,1001.2 864.3,999.8 865.3,998.5 866.2,997.1 867.2,995.8 868.1,994.5 869.1,993.2 870,991.8 871,990.5 871.9,989.3 872.9,988 873.8,986.7 874.8,985.5 875.7,984.2 876.7,983 877.6,981.8 878.6,980.6 879.6,979.4 880.5,978.3 881.5,977.1 882.4,975.9 883.4,974.8 884.3,973.7 885.3,972.5 886.2,971.4 887.2,970.3 888.1,969.2 889.1,968 890,966.9 891,965.8 891.9,964.6 892.9,963.5 893.8,962.3 894.8,961.2 895.8,960 896.7,958.8 897.7,957.6 898.6,956.4 899.6,955.2 900.5,953.9 901.5,952.7 902.4,951.4 903.4,950.1 904.3,948.8 905.3,947.5 906.2,946.2 907.2,944.9 908.1,943.6 909.1,942.3 910,941 911,939.7 912,938.4 912.9,937.1 913.9,935.8 914.8,934.5 915.8,933.3 916.7,932 917.7,930.8 918.6,929.6 919.6,928.4 920.5,927.2 921.5,926 922.4,924.9 923.4,923.8 924.3,922.7 925.3,921.6 926.2,920.5 927.2,919.4 928.1,918.3 929.1,917.3 930.1,916.2 931,915.1 932,913.9 932.9,912.8 933.9,911.5 934.8,910.3 935.8,909 936.7,907.6 937.7,906.2 938.6,904.8 939.6,903.2 940.5,901.6 941.5,899.9 942.4,898.1 943.4,896.3 944.3,894.3 945.3,892.3 946.3,890.1 947.2,887.9 948.2,885.5 949.1,883.1 950.1,880.5 951,877.8 952,875.1 952.9,872.2 953.9,869.2 954.8,866.2 955.8,863 956.7,859.8 957.7,856.4 958.6,853 959.6,849.6 960.5,846 961.5,842.4 962.5,838.8 963.4,835.2 964.4,831.5 965.3,827.8 966.3,824.1 967.2,820.4 968.2,816.8 969.1,813.2 970.1,809.7 971,806.2 972,802.8 972.9,799.5 973.9,796.4 974.8,793.3 975.8,790.4 976.7,787.7 977.7,785.1 978.7,782.8 979.6,780.6 980.6,778.6 981.5,776.9 982.5,775.4 983.4,774.1 984.4,773.1 985.3,772.3 986.3,771.8 987.2,771.6 988.2,771.7 989.1,772.1 990.1,772.7 991,773.6 992,774.8 992.9,776.3 993.9,778.1 994.9,780.1 995.8,782.5 996.8,785 997.7,787.9 998.7,791 999.6,794.3 1000.6,797.9 1001.5,801.7 1002.5,805.7 1003.4,809.9 1004.4,814.3 1005.3,818.9 1006.3,823.7 1007.2,828.6 1008.2,833.7 1009.1,838.8 1010.1,844.1 1011.1,849.6 1012,855 1013,860.6 1013.9,866.2 1014.9,871.9 1015.8,877.6 1016.8,883.3 1017.7,889.1 1018.7,894.8 1019.6,900.5 1020.6,906.2 1021.5,911.8 1022.5,917.4 1023.4,922.9 1024.4,928.4 1025.3,933.7 1026.3,939 1027.3,944.2 1028.2,949.3 1029.2,954.3 1030.1,959.2 1031.1,963.9 1032,968.6 1033,973.1 1033.9,977.4 1034.9,981.7 1035.8,985.8 1036.8,989.7 1037.7,993.6 1038.7,997.3 1039.6,1000.8 1040.6,1004.2 1041.5,1007.5 1042.5,1010.6 1043.5,1013.6 1044.4,1016.5 1045.4,1019.2 1046.3,1021.8 1047.3,1024.3 1048.2,1026.7 1049.2,1028.9 1050.1,1031 1051.1,1033 1052,1034.9 1053,1036.7 1053.9,1038.4 1054.9,1040 1055.8,1041.5 1056.8,1042.9 1057.7,1044.2 1058.7,1045.5 1059.7,1046.6 1060.6,1047.7 1061.6,1048.7 1062.5,1049.7 1063.5,1050.6 1064.4,1051.4 1065.4,1052.2 1066.3,1052.9 1067.3,1053.5 1068.2,1054.1 1069.2,1054.7 1070.1,1055.2 1071.1,1055.7 1072,1056.2 1073,1056.6 1073.9,1057 1074.9,1057.3 1075.9,1057.7 1076.8,1058 1077.8,1058.3 1078.7,1058.5 1079.7,1058.8 1080.6,1059 1081.6,1059.2 1082.5,1059.4 1083.5,1059.5 1084.4,1059.7 1085.4,1059.9 1086.3,1060 1087.3,1060.1 1088.2,1060.2 1089.2,1060.3 1090.1,1060.4 1091.1,1060.5 1092,1060.6 1093,1060.7 1094,1060.8 1094.9,1060.8 1095.9,1060.9 1096.8,1061 1097.8,1061 1098.7,1061.1 1099.7,1061.1 1100.6,1061.2 1101.6,1061.2 1102.5,1061.2 1103.5,1061.3 1104.4,1061.3 1105.4,1061.4 1106.3,1061.4 1107.3,1061.4 1108.2,1061.4 1109.2,1061.5 1110.2,1061.5 1111.1,1061.5 1112.1,1061.6 1113,1061.6 1114,1061.6 1114.9,1061.6 1115.9,1061.6 1116.8,1061.7 1117.8,1061.7 1118.7,1061.7 1119.7,1061.7 1120.6,1061.7 1121.6,1061.8 1122.5,1061.8 1123.5,1061.8 1124.4,1061.8 1125.4,1061.8 1126.4,1061.8 1127.3,1061.8 1128.3,1061.9 1129.2,1061.9 1130.2,1061.9 1131.1,1061.9 1132.1,1061.9 1133,1061.9 1134,1061.9 1134.9,1062 1135.9,1062 1136.8,1062 1137.8,1062 1138.7,1062 1139.7,1062 1140.6,1062 1141.6,1062 1142.6,1062 1143.5,1062 1144.5,1062.1 1145.4,1062.1 1146.4,1062.1 1147.3,1062.1 1148.3,1062.1 1149.2,1062.1 1150.2,1062.1 1151.1,1062.1 1152.1,1062.1 1153,1062.1 1154,1062.1 1154.9,1062.2 1155.9,1062.2 1156.8,1062.2 1157.8,1062.2 1157.8,1062.8" fill="#f2f2f2" stroke="#f2f2f2" stroke-width="5" stroke-linejoin="round"/>
<polyline points="730.9,1062.7 731.9,1062.6 732.8,1062.6 733.8,1062.6 734.7,1062.6 735.7,1062.6 736.6,1062.5 737.6,1062.5 738.5,1062.5 739.5,1062.5 740.4,1062.4 741.4,1062.4 742.3,1062.3 743.3,1062.3 744.2,1062.3 745.2,1062.2 746.1,1062.2 747.1,1062.1 748.1,1062 749,1062 750,1061.9 750.9,1061.8 751.9,1061.7 752.8,1061.7 753.8,1061.6 754.7,1061.5 755.7,1061.4 756.6,1061.2 757.6,1061.1 758.5,1061 759.5,1060.9 760.4,1060.7 761.4,1060.6 762.3,1060.4 763.3,1060.2 764.2,1060.1 765.2,1059.9 766.2,1059.7 767.1,1059.5 768.1,1059.3 769,1059.1 770,1058.8 770.9,1058.6 771.9,1058.3 772.8,1058.1 773.8,1057.8 774.7,1057.5 775.7,1057.3 776.6,1057 777.6,1056.7 778.5,1056.3 779.5,1056 780.4,1055.7 781.4,1055.4 782.4,1055 783.3,1054.7 784.3,1054.3 785.2,1054 786.2,1053.6 787.1,1053.2 788.1,1052.8 789,1052.5 790,1052.1 790.9,1051.7 791.9,1051.3 792.8,1050.9 793.8,1050.5 794.7,1050.2 795.7,1049.8 796.6,1049.4 797.6,1049 798.6,1048.7 799.5,1048.3 800.5,1048 801.4,1047.6 802.4,1047.3 803.3,1047 804.3,1046.7 805.2,1046.4 806.2,1046.1 807.1,1045.8 808.1,1045.5 809,1045.3 810,1045.1 810.9,1044.9 811.9,1044.7 812.8,1044.5 813.8,1044.3 814.8,1044.2 815.7,1044.1 816.7,1044 817.6,1043.9 818.6,1043.8 819.5,1043.8 820.5,1043.8 821.4,1043.8 822.4,1043.8 823.3,1043.9 824.3,1044 825.2,1044 826.2,1044.2 827.1,1044.3 828.1,1044.4 829,1044.6 830,1044.8 831,1045 831.9,1045.2 832.9,1045.5 833.8,1045.7 834.8,1046 835.7,1046.3 836.7,1046.6 837.6,1046.9 838.6,1047.2 839.5,1047.5 840.5,1047.9 841.4,1048.2 842.4,1048.6 843.3,1049 844.3,1049.3 845.2,1049.7 846.2,1050.1 847.2,1050.5 848.1,1050.8 849.1,1051.2 850,1051.6 851,1052 851.9,1052.4 852.9,1052.7 853.8,1053.1 854.8,1053.5 855.7,1053.9 856.7,1054.2 857.6,1054.6 858.6,1054.9 859.5,1055.3 860.5,1055.6 861.4,1055.9 862.4,1056.3 863.4,1056.6 864.3,1056.9 865.3,1057.2 866.2,1057.5 867.2,1057.8 868.1,1058 869.1,1058.3 870,1058.5 871,1058.8 871.9,1059 872.9,1059.2 873.8,1059.4 874.8,1059.6 875.7,1059.8 876.7,1060 877.6,1060.2 878.6,1060.4 879.6,1060.5 880.5,1060.7 881.5,1060.8 882.4,1061 883.4,1061.1 884.3,1061.2 885.3,1061.3 886.2,1061.4 887.2,1061.5 888.1,1061.6 889.1,1061.7 890,1061.8 891,1061.9 891.9,1062 892.9,1062 893.8,1062.1 894.8,1062.1 895.8,1062.2 896.7,1062.2 897.7,1062.3 898.6,1062.3 899.6,1062.4 900.5,1062.4 901.5,1062.5 902.4,1062.5 903.4,1062.5 904.3,1062.5 905.3,1062.6 906.2,1062.6 907.2,1062.6 908.1,1062.6 909.1,1062.6 910,1062.7" fill="none" stroke="#000" stroke-width="2.9" stroke-linejoin="round"/>
<polyline points="791.9,1062.7 792.8,1062.6 793.8,1062.6 794.7,1062.6 795.7,1062.6 796.6,1062.5 797.6,1062.5 798.6,1062.5 799.5,1062.4 800.5,1062.4 801.4,1062.3 802.4,1062.3 803.3,1062.2 804.3,1062.1 805.2,1062.1 806.2,1062 807.1,1061.9 808.1,1061.8 809,1061.7 810,1061.5 810.9,1061.4 811.9,1061.2 812.8,1061.1 813.8,1060.9 814.8,1060.7 815.7,1060.5 816.7,1060.2 817.6,1060 818.6,1059.7 819.5,1059.4 820.5,1059.1 821.4,1058.8 822.4,1058.4 823.3,1058 824.3,1057.6 825.2,1057.1 826.2,1056.7 827.1,1056.1 828.1,1055.6 829,1055 830,1054.4 831,1053.8 831.9,1053.1 832.9,1052.4 833.8,1051.6 834.8,1050.8 835.7,1050 836.7,1049.1 837.6,1048.2 838.6,1047.3 839.5,1046.3 840.5,1045.3 841.4,1044.2 842.4,1043.1 843.3,1042 844.3,1040.8 845.2,1039.7 846.2,1038.4 847.2,1037.2 848.1,1035.9 849.1,1034.6 850,1033.3 851,1032 851.9,1030.6 852.9,1029.3 853.8,1027.9 854.8,1026.5 855.7,1025.2 856.7,1023.8 857.6,1022.5 858.6,1021.1 859.5,1019.8 860.5,1018.5 861.4,1017.2 862.4,1015.9 863.4,1014.7 864.3,1013.5 865.3,1012.4 866.2,1011.3 867.2,1010.3 868.1,1009.3 869.1,1008.4 870,1007.5 871,1006.7 871.9,1006 872.9,1005.4 873.8,1004.8 874.8,1004.3 875.7,1003.9 876.7,1003.5 877.6,1003.3 878.6,1003.1 879.6,1003 880.5,1003 881.5,1003.1 882.4,1003.3 883.4,1003.5 884.3,1003.9 885.3,1004.3 886.2,1004.8 887.2,1005.3 888.1,1006 889.1,1006.7 890,1007.5 891,1008.4 891.9,1009.3 892.9,1010.3 893.8,1011.3 894.8,1012.4 895.8,1013.5 896.7,1014.7 897.7,1015.9 898.6,1017.2 899.6,1018.5 900.5,1019.8 901.5,1021.1 902.4,1022.5 903.4,1023.8 904.3,1025.2 905.3,1026.5 906.2,1027.9 907.2,1029.3 908.1,1030.6 909.1,1032 910,1033.3 911,1034.6 912,1035.9 912.9,1037.2 913.9,1038.4 914.8,1039.7 915.8,1040.8 916.7,1042 917.7,1043.1 918.6,1044.2 919.6,1045.3 920.5,1046.3 921.5,1047.3 922.4,1048.2 923.4,1049.1 924.3,1050 925.3,1050.8 926.2,1051.6 927.2,1052.4 928.1,1053.1 929.1,1053.8 930.1,1054.4 931,1055 932,1055.6 932.9,1056.1 933.9,1056.7 934.8,1057.1 935.8,1057.6 936.7,1058 937.7,1058.4 938.6,1058.8 939.6,1059.1 940.5,1059.4 941.5,1059.7 942.4,1060 943.4,1060.2 944.3,1060.5 945.3,1060.7 946.3,1060.9 947.2,1061.1 948.2,1061.2 949.1,1061.4 950.1,1061.5 951,1061.7 952,1061.8 952.9,1061.9 953.9,1062 954.8,1062.1 955.8,1062.1 956.7,1062.2 957.7,1062.3 958.6,1062.3 959.6,1062.4 960.5,1062.4 961.5,1062.5 962.5,1062.5 963.4,1062.5 964.4,1062.6 965.3,1062.6 966.3,1062.6 967.2,1062.6 968.2,1062.7" fill="none" stroke="#000" stroke-width="2.9" stroke-linejoin="round"/>
<polyline points="835.7,1062.7 836.7,1062.6 837.6,1062.6 838.6,1062.6 839.5,1062.6 840.5,1062.5 841.4,1062.5 842.4,1062.5 843.3,1062.4 844.3,1062.4 845.2,1062.3 846.2,1062.2 847.2,1062.2 848.1,1062.1 849.1,1062 850,1061.9 851,1061.8 851.9,1061.7 852.9,1061.5 853.8,1061.4 854.8,1061.2 855.7,1061.1 856.7,1060.9 857.6,1060.6 858.6,1060.4 859.5,1060.1 860.5,1059.9 861.4,1059.5 862.4,1059.2 863.4,1058.8 864.3,1058.4 865.3,1058 866.2,1057.5 867.2,1057 868.1,1056.5 869.1,1055.9 870,1055.3 871,1054.6 871.9,1053.9 872.9,1053.1 873.8,1052.3 874.8,1051.4 875.7,1050.5 876.7,1049.5 877.6,1048.4 878.6,1047.3 879.6,1046.1 880.5,1044.9 881.5,1043.6 882.4,1042.2 883.4,1040.8 884.3,1039.3 885.3,1037.7 886.2,1036.1 887.2,1034.4 888.1,1032.6 889.1,1030.8 890,1028.9 891,1026.9 891.9,1024.9 892.9,1022.8 893.8,1020.7 894.8,1018.5 895.8,1016.3 896.7,1014.1 897.7,1011.8 898.6,1009.4 899.6,1007.1 900.5,1004.7 901.5,1002.3 902.4,999.9 903.4,997.5 904.3,995.1 905.3,992.7 906.2,990.3 907.2,988 908.1,985.7 909.1,983.4 910,981.2 911,979.1 912,977 912.9,974.9 913.9,973 914.8,971.2 915.8,969.4 916.7,967.7 917.7,966.2 918.6,964.8 919.6,963.5 920.5,962.3 921.5,961.2 922.4,960.3 923.4,959.5 924.3,958.9 925.3,958.4 926.2,958 927.2,957.8 928.1,957.8 929.1,957.9 930.1,958.1 931,958.5 932,958.9 932.9,959.5 933.9,960.3 934.8,961.1 935.8,962.1 936.7,963.2 937.7,964.4 938.6,965.7 939.6,967.1 940.5,968.5 941.5,970.1 942.4,971.8 943.4,973.5 944.3,975.3 945.3,977.2 946.3,979.2 947.2,981.2 948.2,983.2 949.1,985.3 950.1,987.4 951,989.6 952,991.7 952.9,993.9 953.9,996.1 954.8,998.3 955.8,1000.5 956.7,1002.7 957.7,1004.9 958.6,1007.1 959.6,1009.2 960.5,1011.4 961.5,1013.5 962.5,1015.5 963.4,1017.6 964.4,1019.6 965.3,1021.5 966.3,1023.4 967.2,1025.3 968.2,1027.1 969.1,1028.9 970.1,1030.6 971,1032.3 972,1033.9 972.9,1035.4 973.9,1036.9 974.8,1038.4 975.8,1039.8 976.7,1041.1 977.7,1042.4 978.7,1043.6 979.6,1044.7 980.6,1045.9 981.5,1046.9 982.5,1047.9 983.4,1048.9 984.4,1049.8 985.3,1050.6 986.3,1051.4 987.2,1052.2 988.2,1052.9 989.1,1053.6 990.1,1054.3 991,1054.9 992,1055.4 992.9,1055.9 993.9,1056.4 994.9,1056.9 995.8,1057.3 996.8,1057.7 997.7,1058.1 998.7,1058.4 999.6,1058.8 1000.6,1059.1 1001.5,1059.3 1002.5,1059.6 1003.4,1059.8 1004.4,1060 1005.3,1060.3 1006.3,1060.4 1007.2,1060.6 1008.2,1060.8 1009.1,1060.9 1010.1,1061 1011.1,1061.2 1012,1061.3 1013,1061.4 1013.9,1061.5 1014.9,1061.5 1015.8,1061.6 1016.8,1061.7 1017.7,1061.8 1018.7,1061.8 1019.6,1061.9 1020.6,1061.9 1021.5,1062 1022.5,1062 1023.4,1062.1 1024.4,1062.1 1025.3,1062.1 1026.3,1062.1 1027.3,1062.2 1028.2,1062.2 1029.2,1062.2 1030.1,1062.2 1031.1,1062.3 1032,1062.3 1033,1062.3 1033.9,1062.3 1034.9,1062.3 1035.8,1062.3 1036.8,1062.3 1037.7,1062.4 1038.7,1062.4 1039.6,1062.4 1040.6,1062.4 1041.5,1062.4 1042.5,1062.4 1043.5,1062.4 1044.4,1062.4 1045.4,1062.4 1046.3,1062.4 1047.3,1062.4 1048.2,1062.4 1049.2,1062.5 1050.1,1062.5 1051.1,1062.5 1052,1062.5 1053,1062.5 1053.9,1062.5 1054.9,1062.5 1055.8,1062.5 1056.8,1062.5 1057.7,1062.5 1058.7,1062.5 1059.7,1062.5 1060.6,1062.5 1061.6,1062.5 1062.5,1062.5 1063.5,1062.5 1064.4,1062.5 1065.4,1062.5 1066.3,1062.5 1067.3,1062.5 1068.2,1062.5 1069.2,1062.5 1070.1,1062.5 1071.1,1062.5 1072,1062.6 1073,1062.6 1073.9,1062.6 1074.9,1062.6 1075.9,1062.6 1076.8,1062.6 1077.8,1062.6 1078.7,1062.6 1079.7,1062.6 1080.6,1062.6 1081.6,1062.6 1082.5,1062.6 1083.5,1062.6 1084.4,1062.6 1085.4,1062.6 1086.3,1062.6 1087.3,1062.6 1088.2,1062.6 1089.2,1062.6 1090.1,1062.6 1091.1,1062.6 1092,1062.6 1093,1062.6 1094,1062.6 1094.9,1062.6 1095.9,1062.6 1096.8,1062.6 1097.8,1062.6 1098.7,1062.6 1099.7,1062.6 1100.6,1062.6 1101.6,1062.6 1102.5,1062.6 1103.5,1062.6 1104.4,1062.6 1105.4,1062.6 1106.3,1062.6 1107.3,1062.6 1108.2,1062.6 1109.2,1062.6 1110.2,1062.6 1111.1,1062.6 1112.1,1062.6 1113,1062.6 1114,1062.6 1114.9,1062.6 1115.9,1062.7" fill="none" stroke="#000" stroke-width="2.9" stroke-linejoin="round"/>
<polyline points="884.3,1062.7 885.3,1062.6 886.2,1062.6 887.2,1062.6 888.1,1062.6 889.1,1062.5 890,1062.5 891,1062.4 891.9,1062.4 892.9,1062.3 893.8,1062.3 894.8,1062.2 895.8,1062.1 896.7,1062 897.7,1061.9 898.6,1061.8 899.6,1061.7 900.5,1061.6 901.5,1061.4 902.4,1061.3 903.4,1061.1 904.3,1060.9 905.3,1060.7 906.2,1060.4 907.2,1060.1 908.1,1059.8 909.1,1059.5 910,1059.2 911,1058.8 912,1058.3 912.9,1057.9 913.9,1057.4 914.8,1056.8 915.8,1056.2 916.7,1055.5 917.7,1054.8 918.6,1054.1 919.6,1053.2 920.5,1052.3 921.5,1051.4 922.4,1050.3 923.4,1049.2 924.3,1048 925.3,1046.7 926.2,1045.3 927.2,1043.8 928.1,1042.2 929.1,1040.5 930.1,1038.7 931,1036.8 932,1034.8 932.9,1032.6 933.9,1030.3 934.8,1027.9 935.8,1025.4 936.7,1022.7 937.7,1019.9 938.6,1016.9 939.6,1013.8 940.5,1010.6 941.5,1007.2 942.4,1003.6 943.4,999.9 944.3,996.1 945.3,992.1 946.3,987.9 947.2,983.6 948.2,979.2 949.1,974.6 950.1,969.9 951,965.1 952,960.1 952.9,955 953.9,949.8 954.8,944.5 955.8,939.1 956.7,933.6 957.7,928 958.6,922.4 959.6,916.7 960.5,910.9 961.5,905.1 962.5,899.3 963.4,893.5 964.4,887.7 965.3,881.9 966.3,876.2 967.2,870.5 968.2,864.8 969.1,859.3 970.1,853.8 971,848.5 972,843.3 972.9,838.3 973.9,833.4 974.8,828.7 975.8,824.2 976.7,819.9 977.7,815.8 978.7,812 979.6,808.4 980.6,805.1 981.5,802 982.5,799.3 983.4,796.8 984.4,794.7 985.3,792.8 986.3,791.3 987.2,790.1 988.2,789.2 989.1,788.7 990.1,788.5 991,788.6 992,789.1 992.9,789.8 993.9,790.9 994.9,792.3 995.8,794 996.8,796.1 997.7,798.4 998.7,800.9 999.6,803.8 1000.6,806.9 1001.5,810.3 1002.5,813.9 1003.4,817.8 1004.4,821.8 1005.3,826.1 1006.3,830.6 1007.2,835.2 1008.2,840 1009.1,844.9 1010.1,850 1011.1,855.2 1012,860.5 1013,865.8 1013.9,871.3 1014.9,876.8 1015.8,882.3 1016.8,887.9 1017.7,893.5 1018.7,899.1 1019.6,904.6 1020.6,910.2 1021.5,915.7 1022.5,921.2 1023.4,926.6 1024.4,932 1025.3,937.2 1026.3,942.4 1027.3,947.5 1028.2,952.5 1029.2,957.4 1030.1,962.2 1031.1,966.9 1032,971.5 1033,975.9 1033.9,980.2 1034.9,984.4 1035.8,988.4 1036.8,992.3 1037.7,996.1 1038.7,999.7 1039.6,1003.2 1040.6,1006.5 1041.5,1009.7 1042.5,1012.8 1043.5,1015.8 1044.4,1018.6 1045.4,1021.2 1046.3,1023.8 1047.3,1026.2 1048.2,1028.5 1049.2,1030.7 1050.1,1032.8 1051.1,1034.8 1052,1036.6 1053,1038.4 1053.9,1040 1054.9,1041.6 1055.8,1043 1056.8,1044.4 1057.7,1045.7 1058.7,1046.9 1059.7,1048 1060.6,1049 1061.6,1050 1062.5,1050.9 1063.5,1051.8 1064.4,1052.6 1065.4,1053.3 1066.3,1054 1067.3,1054.6 1068.2,1055.2 1069.2,1055.7 1070.1,1056.2 1071.1,1056.7 1072,1057.1 1073,1057.5 1073.9,1057.9 1074.9,1058.2 1075.9,1058.5 1076.8,1058.8 1077.8,1059.1 1078.7,1059.3 1079.7,1059.5 1080.6,1059.7 1081.6,1059.9 1082.5,1060.1 1083.5,1060.2 1084.4,1060.4 1085.4,1060.5 1086.3,1060.6 1087.3,1060.7 1088.2,1060.8 1089.2,1060.9 1090.1,1061 1091.1,1061.1 1092,1061.1 1093,1061.2 1094,1061.2 1094.9,1061.3 1095.9,1061.4 1096.8,1061.4 1097.8,1061.4 1098.7,1061.5 1099.7,1061.5 1100.6,1061.6 1101.6,1061.6 1102.5,1061.6 1103.5,1061.6 1104.4,1061.7 1105.4,1061.7 1106.3,1061.7 1107.3,1061.7 1108.2,1061.8 1109.2,1061.8 1110.2,1061.8 1111.1,1061.8 1112.1,1061.8 1113,1061.9 1114,1061.9 1114.9,1061.9 1115.9,1061.9 1116.8,1061.9 1117.8,1061.9 1118.7,1061.9 1119.7,1062 1120.6,1062 1121.6,1062 1122.5,1062 1123.5,1062 1124.4,1062 1125.4,1062 1126.4,1062 1127.3,1062 1128.3,1062.1 1129.2,1062.1 1130.2,1062.1 1131.1,1062.1 1132.1,1062.1 1133,1062.1 1134,1062.1 1134.9,1062.1 1135.9,1062.1 1136.8,1062.1 1137.8,1062.1 1138.7,1062.2 1139.7,1062.2 1140.6,1062.2 1141.6,1062.2 1142.6,1062.2 1143.5,1062.2 1144.5,1062.2 1145.4,1062.2 1146.4,1062.2 1147.3,1062.2 1148.3,1062.2 1149.2,1062.2 1150.2,1062.2 1151.1,1062.2 1152.1,1062.3 1153,1062.3 1154,1062.3 1154.9,1062.3 1155.9,1062.3 1156.8,1062.3 1157.8,1062.3" fill="none" stroke="#000" stroke-width="2.9" stroke-linejoin="round"/>
<path d="M682.3 1064h0M686.3 1064.4h0M690.2 1063.3h0M694.2 1062.3h0M698.1 1061.7h0M702.1 1062.3h0M706.1 1062.4h0M710 1062.5h0M714 1061h0M718 1060.3h0M721.9 1061.5h0M725.9 1062.4h0M729.9 1062.6h0M733.8 1061.4h0M737.8 1062.2h0M741.7 1063.3h0M745.7 1061.7h0M749.7 1061.9h0M753.6 1061.5h0M757.6 1060.6h0M761.5 1060h0M765.5 1059.1h0M769.5 1058.3h0M773.4 1057.1h0M777.4 1056.3h0M781.4 1055.1h0M785.3 1055.2h0M789.3 1052.5h0M793.2 1051.6h0M797.2 1048.7h0M801.2 1047.8h0M805.1 1045h0M809.1 1044.3h0M813.1 1042.6h0M817 1041.3h0M821 1038.9h0M825 1038.1h0M828.9 1036.6h0M832.9 1033.3h0M836.8 1032.5h0M840.8 1028.1h0M844.8 1025.2h0M848.7 1022.3h0M852.7 1015.3h0M856.6 1011.6h0M860.6 1004.5h0M864.6 997.7h0M868.5 995.9h0M872.5 989.4h0M876.5 984h0M880.4 977.9h0M884.4 976.1h0M888.4 968.4h0M892.3 965.4h0M896.3 958.7h0M900.2 953.5h0M904.2 945.8h0M908.2 941.7h0M912.1 932.7h0M916.1 930.9h0M920 926.9h0M924 921.9h0M928 918.4h0M931.9 914h0M935.9 906.4h0M939.9 902.7h0M943.8 894.3h0M947.8 885.7h0M951.7 873.6h0M955.7 862.7h0M959.7 848.7h0M963.6 834.1h0M967.6 818.2h0M971.6 806.8h0M975.5 792.3h0M979.5 785.2h0M983.5 777.5h0M987.4 775.4h0M991.4 774.2h0M995.3 781.7h0M999.3 793.6h0M1003.3 810.4h0M1007.2 828.2h0M1011.2 850.4h0M1015.1 873.4h0M1019.1 894.6h0M1023.1 919.9h0M1027 940.6h0M1031 961.8h0M1035 981.6h0M1038.9 998.1h0M1042.9 1010.6h0M1046.9 1024.1h0M1050.8 1032.9h0M1054.8 1040.7h0M1058.7 1044.4h0M1062.7 1048.5h0M1066.7 1051.3h0M1070.6 1054.8h0M1074.6 1057.1h0M1078.5 1058.9h0M1082.5 1059.8h0M1086.5 1060.7h0M1090.4 1062.2h0M1094.4 1061.2h0M1098.4 1060.3h0M1102.3 1062.1h0M1106.3 1063.1h0M1110.2 1060.6h0M1114.2 1061.8h0M1118.2 1062.6h0M1122.1 1061.1h0M1126.1 1061.9h0M1130.1 1062.3h0M1134 1062.2h0M1138 1062.5h0M1142 1061.5h0M1145.9 1060.7h0M1149.9 1062.1h0M1153.8 1062.2h0M1157.8 1061.1h0" fill="none" stroke="#000" stroke-width="7.4" stroke-linecap="round"/>
<rect x="682.3" y="587.3" width="475.5" height="475.5" fill="none" stroke="#000" stroke-width="3.0"/>
<path d="M1157.8 1062.8v8.8M1118.2 1062.8v8.8M1078.5 1062.8v16.5M1038.9 1062.8v8.8M999.3 1062.8v8.8M959.7 1062.8v16.5M920 1062.8v8.8M880.4 1062.8v8.8M840.8 1062.8v16.5M801.2 1062.8v8.8M761.5 1062.8v8.8M721.9 1062.8v16.5M682.3 1062.8v8.8" fill="none" stroke="#000" stroke-width="2.8"/>
<text transform="translate(0,1116) scale(1,1.04)" x="1078.5" y="0" font-size="33.5" text-anchor="middle">528</text>
<text transform="translate(0,1116) scale(1,1.04)" x="959.7" y="0" font-size="33.5" text-anchor="middle">531</text>
<text transform="translate(0,1116) scale(1,1.04)" x="840.8" y="0" font-size="33.5" text-anchor="middle">534</text>
<text transform="translate(0,1116) scale(1,1.04)" x="721.9" y="0" font-size="33.5" text-anchor="middle">537</text>
<text transform="translate(0,649.5) scale(1,1.04)" font-size="41"><tspan x="706.5" y="0">(e)</tspan></text>
<text transform="translate(0,649.5) scale(1,1.04)" font-size="41"><tspan x="982.5" y="0">Ti: O 1s</tspan></text>
<text transform="translate(0,718) scale(1,1.04)" font-size="33.5"><tspan x="949.8" y="0">Ti–</tspan><tspan x="995.1" y="0">O</tspan><tspan x="1021.2" y="9.5" font-size="23.4">2</tspan></text><line x1="995.1" y1="721.8" x2="1021.2" y2="721.8" stroke="#000" stroke-width="2.6"/>
<text transform="translate(0,761) scale(1,1.04)" font-size="33.5"><tspan x="950.1" y="0">530.2</tspan></text>
<text transform="translate(0,893) scale(1,1.04)" font-size="33.5"><tspan x="839.1" y="0">531.8</tspan></text>
<text transform="translate(0,958) scale(1,1.04)" font-size="33.5"><tspan x="774.1" y="0">533.0</tspan></text>
<text transform="translate(0,1020.2) scale(1,1.04)" font-size="33.5"><tspan x="706.1" y="0">534.5</tspan></text>
<text transform="translate(0,1153) scale(1,1.04)" font-size="33.5"><tspan x="864.7" y="0">E</tspan><tspan x="887.1" y="9.5" font-size="23.4">B</tspan><tspan x="902.7" y="0"> (eV)</tspan></text>
<polygon points="1267.8,1062.8 1267.8,1061.7 1268.8,1061.7 1269.7,1061.6 1270.7,1061.6 1271.6,1061.6 1272.6,1061.5 1273.5,1061.5 1274.5,1061.5 1275.4,1061.4 1276.4,1061.4 1277.3,1061.3 1278.3,1061.3 1279.2,1061.2 1280.2,1061.2 1281.1,1061.1 1282.1,1061.1 1283,1061 1284,1060.9 1285,1060.8 1285.9,1060.8 1286.9,1060.7 1287.8,1060.6 1288.8,1060.4 1289.7,1060.3 1290.7,1060.2 1291.6,1060 1292.6,1059.9 1293.5,1059.7 1294.5,1059.5 1295.4,1059.3 1296.4,1059 1297.3,1058.8 1298.3,1058.5 1299.2,1058.2 1300.2,1057.9 1301.2,1057.5 1302.1,1057.1 1303.1,1056.7 1304,1056.2 1305,1055.7 1305.9,1055.1 1306.9,1054.5 1307.8,1053.9 1308.8,1053.2 1309.7,1052.5 1310.7,1051.7 1311.6,1050.8 1312.6,1049.9 1313.5,1049 1314.5,1048 1315.4,1046.9 1316.4,1045.7 1317.4,1044.5 1318.3,1043.3 1319.3,1041.9 1320.2,1040.5 1321.2,1039.1 1322.1,1037.6 1323.1,1036 1324,1034.4 1325,1032.8 1325.9,1031 1326.9,1029.3 1327.8,1027.5 1328.8,1025.7 1329.7,1023.8 1330.7,1021.9 1331.6,1020 1332.6,1018.1 1333.6,1016.1 1334.5,1014.2 1335.5,1012.2 1336.4,1010.3 1337.4,1008.4 1338.3,1006.5 1339.3,1004.6 1340.2,1002.7 1341.2,1000.9 1342.1,999.2 1343.1,997.4 1344,995.8 1345,994.1 1345.9,992.6 1346.9,991.1 1347.8,989.7 1348.8,988.3 1349.7,987 1350.7,985.8 1351.7,984.7 1352.6,983.7 1353.6,982.8 1354.5,981.9 1355.5,981.2 1356.4,980.5 1357.4,980 1358.3,979.5 1359.3,979.1 1360.2,978.9 1361.2,978.7 1362.1,978.6 1363.1,978.7 1364,978.8 1365,979 1365.9,979.3 1366.9,979.7 1367.9,980.2 1368.8,980.8 1369.8,981.4 1370.7,982.2 1371.7,983 1372.6,983.9 1373.6,984.8 1374.5,985.8 1375.5,986.9 1376.4,988 1377.4,989.1 1378.3,990.3 1379.3,991.6 1380.2,992.8 1381.2,994.1 1382.1,995.4 1383.1,996.7 1384.1,998 1385,999.2 1386,1000.5 1386.9,1001.8 1387.9,1003 1388.8,1004.3 1389.8,1005.5 1390.7,1006.6 1391.7,1007.8 1392.6,1008.8 1393.6,1009.9 1394.5,1010.9 1395.5,1011.8 1396.4,1012.7 1397.4,1013.5 1398.3,1014.3 1399.3,1015 1400.3,1015.7 1401.2,1016.3 1402.2,1016.9 1403.1,1017.4 1404.1,1017.8 1405,1018.2 1406,1018.5 1406.9,1018.8 1407.9,1019 1408.8,1019.1 1409.8,1019.2 1410.7,1019.3 1411.7,1019.3 1412.6,1019.2 1413.6,1019.1 1414.5,1019 1415.5,1018.8 1416.5,1018.6 1417.4,1018.3 1418.4,1018 1419.3,1017.7 1420.3,1017.3 1421.2,1016.9 1422.2,1016.5 1423.1,1016 1424.1,1015.5 1425,1014.9 1426,1014.3 1426.9,1013.7 1427.9,1013.1 1428.8,1012.4 1429.8,1011.7 1430.7,1011 1431.7,1010.2 1432.7,1009.4 1433.6,1008.6 1434.6,1007.8 1435.5,1006.9 1436.5,1006 1437.4,1005.1 1438.4,1004.2 1439.3,1003.2 1440.3,1002.2 1441.2,1001.3 1442.2,1000.2 1443.1,999.2 1444.1,998.2 1445,997.1 1446,996.1 1446.9,995 1447.9,993.9 1448.9,992.8 1449.8,991.7 1450.8,990.6 1451.7,989.5 1452.7,988.4 1453.6,987.3 1454.6,986.2 1455.5,985 1456.5,983.9 1457.4,982.7 1458.4,981.5 1459.3,980.3 1460.3,979 1461.2,977.7 1462.2,976.4 1463.1,975 1464.1,973.5 1465.1,971.9 1466,970.2 1467,968.5 1467.9,966.7 1468.9,964.8 1469.8,962.8 1470.8,960.6 1471.7,958.4 1472.7,956.1 1473.6,953.6 1474.6,950.9 1475.5,948.1 1476.5,945.1 1477.4,941.9 1478.4,938.6 1479.3,935 1480.3,931.3 1481.3,927.4 1482.2,923.3 1483.2,919 1484.1,914.5 1485.1,909.8 1486,905 1487,900 1487.9,894.8 1488.9,889.5 1489.8,884 1490.8,878.4 1491.7,872.7 1492.7,866.9 1493.6,861 1494.6,855.1 1495.5,849.2 1496.5,843.2 1497.5,837.3 1498.4,831.5 1499.4,825.8 1500.3,820.2 1501.3,814.9 1502.2,809.7 1503.2,804.9 1504.1,800.4 1505.1,796.2 1506,792.5 1507,789.3 1507.9,786.5 1508.9,784.3 1509.8,782.7 1510.8,781.7 1511.7,781.4 1512.7,781.7 1513.6,782.5 1514.6,783.9 1515.6,785.8 1516.5,788.2 1517.5,791.1 1518.4,794.5 1519.4,798.3 1520.3,802.6 1521.3,807.2 1522.2,812.1 1523.2,817.4 1524.1,823 1525.1,828.7 1526,834.6 1527,840.7 1527.9,846.9 1528.9,853 1529.8,859.2 1530.8,865.4 1531.8,871.5 1532.7,877.4 1533.7,883.3 1534.6,888.9 1535.6,894.4 1536.5,899.7 1537.5,904.7 1538.4,909.5 1539.4,914 1540.3,918.3 1541.3,922.3 1542.2,926.1 1543.2,929.6 1544.1,932.8 1545.1,935.9 1546,938.7 1547,941.3 1548,943.7 1548.9,945.9 1549.9,948 1550.8,949.8 1551.8,951.6 1552.7,953.1 1553.7,954.6 1554.6,955.9 1555.6,957.1 1556.5,958.2 1557.5,959.2 1558.4,960 1559.4,960.8 1560.3,961.4 1561.3,962 1562.2,962.4 1563.2,962.8 1564.2,963.1 1565.1,963.3 1566.1,963.4 1567,963.5 1568,963.5 1568.9,963.4 1569.9,963.3 1570.8,963.1 1571.8,962.9 1572.7,962.7 1573.7,962.4 1574.6,962.1 1575.6,961.8 1576.5,961.5 1577.5,961.1 1578.4,960.7 1579.4,960.2 1580.4,959.7 1581.3,959.2 1582.3,958.6 1583.2,958 1584.2,957.3 1585.1,956.6 1586.1,955.8 1587,954.9 1588,953.9 1588.9,952.9 1589.9,951.8 1590.8,950.6 1591.8,949.3 1592.7,948 1593.7,946.6 1594.6,945.1 1595.6,943.6 1596.6,942 1597.5,940.4 1598.5,938.7 1599.4,937 1600.4,935.3 1601.3,933.5 1602.3,931.8 1603.2,930 1604.2,928.2 1605.1,926.4 1606.1,924.6 1607,922.9 1608,921.1 1608.9,919.3 1609.9,917.5 1610.8,915.8 1611.8,914 1612.8,912.3 1613.7,910.6 1614.7,909 1615.6,907.4 1616.6,905.9 1617.5,904.5 1618.5,903.1 1619.4,901.8 1620.4,900.6 1621.3,899.6 1622.3,898.7 1623.2,897.9 1624.2,897.3 1625.1,896.8 1626.1,896.5 1627,896.4 1628,896.5 1629,896.9 1629.9,897.4 1630.9,898.2 1631.8,899.2 1632.8,900.5 1633.7,902 1634.7,903.7 1635.6,905.6 1636.6,907.8 1637.5,910.1 1638.5,912.7 1639.4,915.4 1640.4,918.3 1641.3,921.3 1642.3,924.5 1643.2,927.8 1644.2,931.3 1645.2,934.8 1646.1,938.5 1647.1,942.2 1648,946 1649,949.8 1649.9,953.6 1650.9,957.5 1651.8,961.4 1652.8,965.2 1653.7,969.1 1654.7,972.9 1655.6,976.7 1656.6,980.4 1657.5,984 1658.5,987.6 1659.4,991.1 1660.4,994.6 1661.4,997.9 1662.3,1001.2 1663.3,1004.3 1664.2,1007.3 1665.2,1010.2 1666.1,1013 1667.1,1015.6 1668,1018.1 1669,1020.6 1669.9,1022.9 1670.9,1025 1671.8,1027.1 1672.8,1029.1 1673.7,1031 1674.7,1032.7 1675.6,1034.4 1676.6,1035.9 1677.5,1037.4 1678.5,1038.8 1679.5,1040 1680.4,1041.2 1681.4,1042.3 1682.3,1043.4 1683.3,1044.3 1684.2,1045.2 1685.2,1046 1686.1,1046.8 1687.1,1047.5 1688,1048.1 1689,1048.7 1689.9,1049.2 1690.9,1049.7 1691.8,1050.1 1692.8,1050.5 1693.7,1050.9 1694.7,1051.2 1695.7,1051.5 1696.6,1051.8 1697.6,1052 1698.5,1052.2 1699.5,1052.4 1700.4,1052.6 1701.4,1052.7 1702.3,1052.9 1703.3,1053 1704.2,1053.1 1705.2,1053.2 1706.1,1053.3 1707.1,1053.3 1708,1053.4 1709,1053.4 1709.9,1053.5 1710.9,1053.5 1711.9,1053.5 1712.8,1053.5 1713.8,1053.6 1714.7,1053.6 1715.7,1053.6 1716.6,1053.6 1717.6,1053.6 1718.5,1053.5 1719.5,1053.5 1720.4,1053.5 1721.4,1053.5 1722.3,1053.5 1723.3,1053.5 1724.2,1053.4 1725.2,1053.4 1726.1,1053.4 1727.1,1053.4 1728.1,1053.3 1729,1053.3 1730,1053.3 1730.9,1053.2 1731.9,1053.2 1732.8,1053.2 1733.8,1053.1 1734.7,1053.1 1735.7,1053 1736.6,1053 1737.6,1053 1738.5,1052.9 1739.5,1052.9 1740.4,1052.8 1741.4,1052.8 1742.3,1052.8 1743.3,1052.7 1743.3,1062.8" fill="#f2f2f2" stroke="#f2f2f2" stroke-width="5" stroke-linejoin="round"/>
<polyline points="1279.2,1062.7 1280.2,1062.6 1281.1,1062.6 1282.1,1062.6 1283,1062.5 1284,1062.5 1285,1062.5 1285.9,1062.4 1286.9,1062.4 1287.8,1062.3 1288.8,1062.2 1289.7,1062.2 1290.7,1062.1 1291.6,1062 1292.6,1061.9 1293.5,1061.8 1294.5,1061.7 1295.4,1061.5 1296.4,1061.4 1297.3,1061.2 1298.3,1061 1299.2,1060.8 1300.2,1060.6 1301.2,1060.3 1302.1,1060.1 1303.1,1059.8 1304,1059.5 1305,1059.1 1305.9,1058.7 1306.9,1058.3 1307.8,1057.9 1308.8,1057.4 1309.7,1056.9 1310.7,1056.4 1311.6,1055.8 1312.6,1055.1 1313.5,1054.5 1314.5,1053.8 1315.4,1053 1316.4,1052.2 1317.4,1051.3 1318.3,1050.4 1319.3,1049.5 1320.2,1048.5 1321.2,1047.4 1322.1,1046.3 1323.1,1045.2 1324,1044 1325,1042.7 1325.9,1041.4 1326.9,1040.1 1327.8,1038.7 1328.8,1037.2 1329.7,1035.7 1330.7,1034.2 1331.6,1032.7 1332.6,1031.1 1333.6,1029.4 1334.5,1027.8 1335.5,1026.1 1336.4,1024.4 1337.4,1022.7 1338.3,1021 1339.3,1019.3 1340.2,1017.6 1341.2,1015.9 1342.1,1014.2 1343.1,1012.6 1344,1011 1345,1009.4 1345.9,1007.8 1346.9,1006.3 1347.8,1004.8 1348.8,1003.4 1349.7,1002.1 1350.7,1000.8 1351.7,999.6 1352.6,998.5 1353.6,997.5 1354.5,996.6 1355.5,995.7 1356.4,995 1357.4,994.3 1358.3,993.8 1359.3,993.4 1360.2,993.1 1361.2,992.9 1362.1,992.8 1363.1,992.8 1364,993 1365,993.2 1365.9,993.6 1366.9,994.1 1367.9,994.7 1368.8,995.3 1369.8,996.1 1370.7,997 1371.7,998 1372.6,999.1 1373.6,1000.2 1374.5,1001.4 1375.5,1002.7 1376.4,1004.1 1377.4,1005.6 1378.3,1007 1379.3,1008.6 1380.2,1010.2 1381.2,1011.8 1382.1,1013.4 1383.1,1015.1 1384.1,1016.8 1385,1018.5 1386,1020.2 1386.9,1021.9 1387.9,1023.6 1388.8,1025.3 1389.8,1027 1390.7,1028.6 1391.7,1030.3 1392.6,1031.9 1393.6,1033.5 1394.5,1035 1395.5,1036.5 1396.4,1038 1397.4,1039.4 1398.3,1040.7 1399.3,1042.1 1400.3,1043.4 1401.2,1044.6 1402.2,1045.8 1403.1,1046.9 1404.1,1048 1405,1049 1406,1050 1406.9,1050.9 1407.9,1051.8 1408.8,1052.6 1409.8,1053.4 1410.7,1054.1 1411.7,1054.8 1412.6,1055.5 1413.6,1056.1 1414.5,1056.6 1415.5,1057.2 1416.5,1057.7 1417.4,1058.1 1418.4,1058.5 1419.3,1058.9 1420.3,1059.3 1421.2,1059.6 1422.2,1059.9 1423.1,1060.2 1424.1,1060.5 1425,1060.7 1426,1060.9 1426.9,1061.1 1427.9,1061.3 1428.8,1061.4 1429.8,1061.6 1430.7,1061.7 1431.7,1061.8 1432.7,1061.9 1433.6,1062 1434.6,1062.1 1435.5,1062.2 1436.5,1062.3 1437.4,1062.3 1438.4,1062.4 1439.3,1062.4 1440.3,1062.5 1441.2,1062.5 1442.2,1062.6 1443.1,1062.6 1444.1,1062.6 1445,1062.6 1446,1062.7" fill="none" stroke="#000" stroke-width="2.9" stroke-linejoin="round"/>
<polyline points="1355.5,1062.7 1356.4,1062.6 1357.4,1062.6 1358.3,1062.6 1359.3,1062.6 1360.2,1062.5 1361.2,1062.5 1362.1,1062.5 1363.1,1062.4 1364,1062.4 1365,1062.3 1365.9,1062.3 1366.9,1062.2 1367.9,1062.2 1368.8,1062.1 1369.8,1062 1370.7,1061.9 1371.7,1061.8 1372.6,1061.8 1373.6,1061.7 1374.5,1061.5 1375.5,1061.4 1376.4,1061.3 1377.4,1061.2 1378.3,1061 1379.3,1060.9 1380.2,1060.7 1381.2,1060.5 1382.1,1060.3 1383.1,1060.1 1384.1,1059.9 1385,1059.7 1386,1059.5 1386.9,1059.3 1387.9,1059 1388.8,1058.8 1389.8,1058.5 1390.7,1058.2 1391.7,1058 1392.6,1057.7 1393.6,1057.4 1394.5,1057.1 1395.5,1056.8 1396.4,1056.5 1397.4,1056.1 1398.3,1055.8 1399.3,1055.5 1400.3,1055.2 1401.2,1054.9 1402.2,1054.5 1403.1,1054.2 1404.1,1053.9 1405,1053.6 1406,1053.3 1406.9,1053 1407.9,1052.7 1408.8,1052.4 1409.8,1052.2 1410.7,1051.9 1411.7,1051.7 1412.6,1051.5 1413.6,1051.3 1414.5,1051.1 1415.5,1050.9 1416.5,1050.8 1417.4,1050.6 1418.4,1050.5 1419.3,1050.4 1420.3,1050.4 1421.2,1050.3 1422.2,1050.3 1423.1,1050.3 1424.1,1050.3 1425,1050.4 1426,1050.4 1426.9,1050.5 1427.9,1050.6 1428.8,1050.8 1429.8,1050.9 1430.7,1051.1 1431.7,1051.3 1432.7,1051.5 1433.6,1051.7 1434.6,1052 1435.5,1052.2 1436.5,1052.5 1437.4,1052.7 1438.4,1053 1439.3,1053.3 1440.3,1053.6 1441.2,1053.9 1442.2,1054.3 1443.1,1054.6 1444.1,1054.9 1445,1055.2 1446,1055.5 1446.9,1055.9 1447.9,1056.2 1448.9,1056.5 1449.8,1056.8 1450.8,1057.1 1451.7,1057.4 1452.7,1057.7 1453.6,1058 1454.6,1058.3 1455.5,1058.5 1456.5,1058.8 1457.4,1059.1 1458.4,1059.3 1459.3,1059.5 1460.3,1059.8 1461.2,1060 1462.2,1060.2 1463.1,1060.4 1464.1,1060.5 1465.1,1060.7 1466,1060.9 1467,1061 1467.9,1061.2 1468.9,1061.3 1469.8,1061.4 1470.8,1061.6 1471.7,1061.7 1472.7,1061.8 1473.6,1061.9 1474.6,1061.9 1475.5,1062 1476.5,1062.1 1477.4,1062.2 1478.4,1062.2 1479.3,1062.3 1480.3,1062.3 1481.3,1062.4 1482.2,1062.4 1483.2,1062.5 1484.1,1062.5 1485.1,1062.5 1486,1062.6 1487,1062.6 1487.9,1062.6 1488.9,1062.6 1489.8,1062.7" fill="none" stroke="#000" stroke-width="2.9" stroke-linejoin="round"/>
<polyline points="1267.8,1061.8 1268.8,1061.8 1269.7,1061.8 1270.7,1061.8 1271.6,1061.7 1272.6,1061.7 1273.5,1061.7 1274.5,1061.7 1275.4,1061.6 1276.4,1061.6 1277.3,1061.6 1278.3,1061.6 1279.2,1061.5 1280.2,1061.5 1281.1,1061.5 1282.1,1061.5 1283,1061.4 1284,1061.4 1285,1061.4 1285.9,1061.4 1286.9,1061.3 1287.8,1061.3 1288.8,1061.3 1289.7,1061.2 1290.7,1061.2 1291.6,1061.2 1292.6,1061.1 1293.5,1061.1 1294.5,1061.1 1295.4,1061 1296.4,1061 1297.3,1061 1298.3,1060.9 1299.2,1060.9 1300.2,1060.9 1301.2,1060.8 1302.1,1060.8 1303.1,1060.7 1304,1060.7 1305,1060.7 1305.9,1060.6 1306.9,1060.6 1307.8,1060.5 1308.8,1060.5 1309.7,1060.4 1310.7,1060.4 1311.6,1060.3 1312.6,1060.3 1313.5,1060.2 1314.5,1060.2 1315.4,1060.1 1316.4,1060.1 1317.4,1060 1318.3,1060 1319.3,1059.9 1320.2,1059.9 1321.2,1059.8 1322.1,1059.7 1323.1,1059.7 1324,1059.6 1325,1059.5 1325.9,1059.5 1326.9,1059.4 1327.8,1059.3 1328.8,1059.3 1329.7,1059.2 1330.7,1059.1 1331.6,1059.1 1332.6,1059 1333.6,1058.9 1334.5,1058.8 1335.5,1058.8 1336.4,1058.7 1337.4,1058.6 1338.3,1058.5 1339.3,1058.4 1340.2,1058.3 1341.2,1058.2 1342.1,1058.2 1343.1,1058.1 1344,1058 1345,1057.9 1345.9,1057.8 1346.9,1057.7 1347.8,1057.6 1348.8,1057.5 1349.7,1057.4 1350.7,1057.3 1351.7,1057.1 1352.6,1057 1353.6,1056.9 1354.5,1056.8 1355.5,1056.7 1356.4,1056.6 1357.4,1056.4 1358.3,1056.3 1359.3,1056.2 1360.2,1056 1361.2,1055.9 1362.1,1055.8 1363.1,1055.6 1364,1055.5 1365,1055.4 1365.9,1055.2 1366.9,1055.1 1367.9,1054.9 1368.8,1054.7 1369.8,1054.6 1370.7,1054.4 1371.7,1054.3 1372.6,1054.1 1373.6,1053.9 1374.5,1053.7 1375.5,1053.6 1376.4,1053.4 1377.4,1053.2 1378.3,1053 1379.3,1052.8 1380.2,1052.6 1381.2,1052.4 1382.1,1052.2 1383.1,1052 1384.1,1051.8 1385,1051.6 1386,1051.3 1386.9,1051.1 1387.9,1050.9 1388.8,1050.6 1389.8,1050.4 1390.7,1050.1 1391.7,1049.9 1392.6,1049.6 1393.6,1049.3 1394.5,1049.1 1395.5,1048.8 1396.4,1048.5 1397.4,1048.2 1398.3,1047.9 1399.3,1047.6 1400.3,1047.2 1401.2,1046.9 1402.2,1046.6 1403.1,1046.2 1404.1,1045.8 1405,1045.5 1406,1045.1 1406.9,1044.7 1407.9,1044.2 1408.8,1043.8 1409.8,1043.3 1410.7,1042.9 1411.7,1042.4 1412.6,1041.9 1413.6,1041.3 1414.5,1040.8 1415.5,1040.2 1416.5,1039.6 1417.4,1039 1418.4,1038.4 1419.3,1037.7 1420.3,1037 1421.2,1036.3 1422.2,1035.5 1423.1,1034.7 1424.1,1033.9 1425,1033 1426,1032.2 1426.9,1031.3 1427.9,1030.3 1428.8,1029.3 1429.8,1028.3 1430.7,1027.3 1431.7,1026.2 1432.7,1025.1 1433.6,1024 1434.6,1022.8 1435.5,1021.6 1436.5,1020.4 1437.4,1019.2 1438.4,1017.9 1439.3,1016.7 1440.3,1015.4 1441.2,1014.1 1442.2,1012.8 1443.1,1011.5 1444.1,1010.1 1445,1008.8 1446,1007.5 1446.9,1006.2 1447.9,1005 1448.9,1003.7 1449.8,1002.5 1450.8,1001.3 1451.7,1000.1 1452.7,999 1453.6,998 1454.6,996.9 1455.5,996 1456.5,995.1 1457.4,994.3 1458.4,993.6 1459.3,992.9 1460.3,992.3 1461.2,991.8 1462.2,991.4 1463.1,991.1 1464.1,990.9 1465.1,990.8 1466,990.8 1467,990.9 1467.9,991.2 1468.9,991.6 1469.8,992.2 1470.8,992.9 1471.7,993.7 1472.7,994.7 1473.6,995.7 1474.6,996.9 1475.5,998.2 1476.5,999.7 1477.4,1001.2 1478.4,1002.7 1479.3,1004.4 1480.3,1006.2 1481.3,1008 1482.2,1009.8 1483.2,1011.7 1484.1,1013.6 1485.1,1015.6 1486,1017.5 1487,1019.5 1487.9,1021.5 1488.9,1023.4 1489.8,1025.4 1490.8,1027.3 1491.7,1029.2 1492.7,1031 1493.6,1032.8 1494.6,1034.6 1495.5,1036.3 1496.5,1038 1497.5,1039.6 1498.4,1041.1 1499.4,1042.6 1500.3,1044 1501.3,1045.4 1502.2,1046.7 1503.2,1047.9 1504.1,1049.1 1505.1,1050.2 1506,1051.2 1507,1052.2 1507.9,1053.1 1508.9,1053.9 1509.8,1054.7 1510.8,1055.4 1511.7,1056.1 1512.7,1056.8 1513.6,1057.3 1514.6,1057.9 1515.6,1058.4 1516.5,1058.8 1517.5,1059.2 1518.4,1059.6 1519.4,1059.9 1520.3,1060.3 1521.3,1060.5 1522.2,1060.8 1523.2,1061 1524.1,1061.2 1525.1,1061.4 1526,1061.6 1527,1061.7 1527.9,1061.9 1528.9,1062 1529.8,1062.1 1530.8,1062.2 1531.8,1062.3 1532.7,1062.3 1533.7,1062.4 1534.6,1062.4 1535.6,1062.5 1536.5,1062.5 1537.5,1062.6 1538.4,1062.6 1539.4,1062.6 1540.3,1062.7" fill="none" stroke="#000" stroke-width="2.9" stroke-linejoin="round"/>
<polyline points="1442.2,1062.7 1443.1,1062.6 1444.1,1062.6 1445,1062.6 1446,1062.5 1446.9,1062.4 1447.9,1062.4 1448.9,1062.3 1449.8,1062.2 1450.8,1062 1451.7,1061.9 1452.7,1061.7 1453.6,1061.5 1454.6,1061.3 1455.5,1061 1456.5,1060.7 1457.4,1060.3 1458.4,1059.9 1459.3,1059.4 1460.3,1058.9 1461.2,1058.2 1462.2,1057.5 1463.1,1056.7 1464.1,1055.7 1465.1,1054.7 1466,1053.5 1467,1052.2 1467.9,1050.7 1468.9,1049 1469.8,1047.2 1470.8,1045.2 1471.7,1042.9 1472.7,1040.5 1473.6,1037.8 1474.6,1034.8 1475.5,1031.6 1476.5,1028.1 1477.4,1024.4 1478.4,1020.3 1479.3,1016 1480.3,1011.3 1481.3,1006.3 1482.2,1001.1 1483.2,995.5 1484.1,989.6 1485.1,983.4 1486,976.9 1487,970.2 1487.9,963.2 1488.9,956 1489.8,948.5 1490.8,940.9 1491.7,933.1 1492.7,925.2 1493.6,917.3 1494.6,909.3 1495.5,901.3 1496.5,893.3 1497.5,885.4 1498.4,877.7 1499.4,870.2 1500.3,862.9 1501.3,856 1502.2,849.3 1503.2,843.1 1504.1,837.3 1505.1,831.9 1506,827.1 1507,822.9 1507.9,819.3 1508.9,816.2 1509.8,813.9 1510.8,812.2 1511.7,811.1 1512.7,810.8 1513.6,811.1 1514.6,811.9 1515.6,813.3 1516.5,815.2 1517.5,817.7 1518.4,820.6 1519.4,824.1 1520.3,828 1521.3,832.4 1522.2,837.2 1523.2,842.3 1524.1,847.8 1525.1,853.7 1526,859.8 1527,866.2 1527.9,872.8 1528.9,879.6 1529.8,886.5 1530.8,893.6 1531.8,900.7 1532.7,907.9 1533.7,915 1534.6,922.2 1535.6,929.3 1536.5,936.3 1537.5,943.2 1538.4,950 1539.4,956.6 1540.3,963.1 1541.3,969.4 1542.2,975.4 1543.2,981.3 1544.1,986.9 1545.1,992.3 1546,997.5 1547,1002.4 1548,1007.1 1548.9,1011.5 1549.9,1015.7 1550.8,1019.6 1551.8,1023.3 1552.7,1026.7 1553.7,1030 1554.6,1033 1555.6,1035.7 1556.5,1038.3 1557.5,1040.7 1558.4,1042.9 1559.4,1044.9 1560.3,1046.8 1561.3,1048.5 1562.2,1050 1563.2,1051.4 1564.2,1052.7 1565.1,1053.8 1566.1,1054.8 1567,1055.8 1568,1056.6 1568.9,1057.4 1569.9,1058 1570.8,1058.6 1571.8,1059.2 1572.7,1059.6 1573.7,1060 1574.6,1060.4 1575.6,1060.7 1576.5,1061 1577.5,1061.3 1578.4,1061.5 1579.4,1061.7 1580.4,1061.8 1581.3,1062 1582.3,1062.1 1583.2,1062.2 1584.2,1062.3 1585.1,1062.4 1586.1,1062.4 1587,1062.5 1588,1062.5 1588.9,1062.6 1589.9,1062.6 1590.8,1062.6 1591.8,1062.7" fill="none" stroke="#000" stroke-width="2.9" stroke-linejoin="round"/>
<polyline points="1510.8,1062.7 1511.7,1062.6 1512.7,1062.6 1513.6,1062.6 1514.6,1062.5 1515.6,1062.5 1516.5,1062.4 1517.5,1062.3 1518.4,1062.2 1519.4,1062.2 1520.3,1062 1521.3,1061.9 1522.2,1061.8 1523.2,1061.6 1524.1,1061.4 1525.1,1061.2 1526,1061 1527,1060.7 1527.9,1060.5 1528.9,1060.1 1529.8,1059.8 1530.8,1059.4 1531.8,1058.9 1532.7,1058.4 1533.7,1057.9 1534.6,1057.3 1535.6,1056.7 1536.5,1056 1537.5,1055.3 1538.4,1054.5 1539.4,1053.6 1540.3,1052.7 1541.3,1051.7 1542.2,1050.7 1543.2,1049.6 1544.1,1048.4 1545.1,1047.2 1546,1045.9 1547,1044.6 1548,1043.2 1548.9,1041.8 1549.9,1040.3 1550.8,1038.8 1551.8,1037.3 1552.7,1035.8 1553.7,1034.2 1554.6,1032.6 1555.6,1031.1 1556.5,1029.5 1557.5,1028 1558.4,1026.5 1559.4,1025.1 1560.3,1023.7 1561.3,1022.4 1562.2,1021.1 1563.2,1019.9 1564.2,1018.8 1565.1,1017.9 1566.1,1017 1567,1016.2 1568,1015.6 1568.9,1015.1 1569.9,1014.7 1570.8,1014.4 1571.8,1014.3 1572.7,1014.3 1573.7,1014.5 1574.6,1014.8 1575.6,1015.2 1576.5,1015.7 1577.5,1016.4 1578.4,1017.2 1579.4,1018.1 1580.4,1019.1 1581.3,1020.3 1582.3,1021.5 1583.2,1022.7 1584.2,1024.1 1585.1,1025.5 1586.1,1026.9 1587,1028.4 1588,1030 1588.9,1031.5 1589.9,1033.1 1590.8,1034.6 1591.8,1036.2 1592.7,1037.7 1593.7,1039.2 1594.6,1040.7 1595.6,1042.2 1596.6,1043.6 1597.5,1045 1598.5,1046.3 1599.4,1047.5 1600.4,1048.7 1601.3,1049.9 1602.3,1051 1603.2,1052 1604.2,1053 1605.1,1053.9 1606.1,1054.7 1607,1055.5 1608,1056.2 1608.9,1056.9 1609.9,1057.5 1610.8,1058.1 1611.8,1058.6 1612.8,1059.1 1613.7,1059.5 1614.7,1059.9 1615.6,1060.2 1616.6,1060.5 1617.5,1060.8 1618.5,1061.1 1619.4,1061.3 1620.4,1061.5 1621.3,1061.7 1622.3,1061.8 1623.2,1062 1624.2,1062.1 1625.1,1062.2 1626.1,1062.3 1627,1062.4 1628,1062.4 1629,1062.5 1629.9,1062.5 1630.9,1062.6 1631.8,1062.6 1632.8,1062.6 1633.7,1062.7" fill="none" stroke="#000" stroke-width="2.9" stroke-linejoin="round"/>
<polyline points="1300.2,1062.7 1301.2,1062.6 1302.1,1062.6 1303.1,1062.6 1304,1062.6 1305,1062.6 1305.9,1062.6 1306.9,1062.6 1307.8,1062.6 1308.8,1062.6 1309.7,1062.6 1310.7,1062.6 1311.6,1062.6 1312.6,1062.6 1313.5,1062.6 1314.5,1062.6 1315.4,1062.6 1316.4,1062.6 1317.4,1062.6 1318.3,1062.6 1319.3,1062.6 1320.2,1062.6 1321.2,1062.6 1322.1,1062.6 1323.1,1062.6 1324,1062.6 1325,1062.5 1325.9,1062.5 1326.9,1062.5 1327.8,1062.5 1328.8,1062.5 1329.7,1062.5 1330.7,1062.5 1331.6,1062.5 1332.6,1062.5 1333.6,1062.5 1334.5,1062.5 1335.5,1062.5 1336.4,1062.5 1337.4,1062.5 1338.3,1062.5 1339.3,1062.5 1340.2,1062.5 1341.2,1062.4 1342.1,1062.4 1343.1,1062.4 1344,1062.4 1345,1062.4 1345.9,1062.4 1346.9,1062.4 1347.8,1062.4 1348.8,1062.4 1349.7,1062.4 1350.7,1062.4 1351.7,1062.4 1352.6,1062.4 1353.6,1062.3 1354.5,1062.3 1355.5,1062.3 1356.4,1062.3 1357.4,1062.3 1358.3,1062.3 1359.3,1062.3 1360.2,1062.3 1361.2,1062.3 1362.1,1062.3 1363.1,1062.2 1364,1062.2 1365,1062.2 1365.9,1062.2 1366.9,1062.2 1367.9,1062.2 1368.8,1062.2 1369.8,1062.2 1370.7,1062.1 1371.7,1062.1 1372.6,1062.1 1373.6,1062.1 1374.5,1062.1 1375.5,1062.1 1376.4,1062.1 1377.4,1062 1378.3,1062 1379.3,1062 1380.2,1062 1381.2,1062 1382.1,1062 1383.1,1062 1384.1,1061.9 1385,1061.9 1386,1061.9 1386.9,1061.9 1387.9,1061.9 1388.8,1061.8 1389.8,1061.8 1390.7,1061.8 1391.7,1061.8 1392.6,1061.8 1393.6,1061.7 1394.5,1061.7 1395.5,1061.7 1396.4,1061.7 1397.4,1061.7 1398.3,1061.6 1399.3,1061.6 1400.3,1061.6 1401.2,1061.6 1402.2,1061.5 1403.1,1061.5 1404.1,1061.5 1405,1061.5 1406,1061.4 1406.9,1061.4 1407.9,1061.4 1408.8,1061.3 1409.8,1061.3 1410.7,1061.3 1411.7,1061.3 1412.6,1061.2 1413.6,1061.2 1414.5,1061.2 1415.5,1061.1 1416.5,1061.1 1417.4,1061.1 1418.4,1061 1419.3,1061 1420.3,1061 1421.2,1060.9 1422.2,1060.9 1423.1,1060.8 1424.1,1060.8 1425,1060.8 1426,1060.7 1426.9,1060.7 1427.9,1060.6 1428.8,1060.6 1429.8,1060.6 1430.7,1060.5 1431.7,1060.5 1432.7,1060.4 1433.6,1060.4 1434.6,1060.3 1435.5,1060.3 1436.5,1060.2 1437.4,1060.2 1438.4,1060.1 1439.3,1060.1 1440.3,1060 1441.2,1059.9 1442.2,1059.9 1443.1,1059.8 1444.1,1059.8 1445,1059.7 1446,1059.6 1446.9,1059.6 1447.9,1059.5 1448.9,1059.4 1449.8,1059.4 1450.8,1059.3 1451.7,1059.2 1452.7,1059.2 1453.6,1059.1 1454.6,1059 1455.5,1058.9 1456.5,1058.9 1457.4,1058.8 1458.4,1058.7 1459.3,1058.6 1460.3,1058.5 1461.2,1058.5 1462.2,1058.4 1463.1,1058.3 1464.1,1058.2 1465.1,1058.1 1466,1058 1467,1057.9 1467.9,1057.8 1468.9,1057.7 1469.8,1057.6 1470.8,1057.5 1471.7,1057.4 1472.7,1057.3 1473.6,1057.2 1474.6,1057.1 1475.5,1057 1476.5,1056.8 1477.4,1056.7 1478.4,1056.6 1479.3,1056.5 1480.3,1056.3 1481.3,1056.2 1482.2,1056.1 1483.2,1055.9 1484.1,1055.8 1485.1,1055.7 1486,1055.5 1487,1055.4 1487.9,1055.2 1488.9,1055.1 1489.8,1054.9 1490.8,1054.8 1491.7,1054.6 1492.7,1054.4 1493.6,1054.3 1494.6,1054.1 1495.5,1053.9 1496.5,1053.8 1497.5,1053.6 1498.4,1053.4 1499.4,1053.2 1500.3,1053 1501.3,1052.8 1502.2,1052.6 1503.2,1052.4 1504.1,1052.2 1505.1,1052 1506,1051.8 1507,1051.6 1507.9,1051.3 1508.9,1051.1 1509.8,1050.9 1510.8,1050.6 1511.7,1050.4 1512.7,1050.2 1513.6,1049.9 1514.6,1049.6 1515.6,1049.4 1516.5,1049.1 1517.5,1048.8 1518.4,1048.6 1519.4,1048.3 1520.3,1048 1521.3,1047.7 1522.2,1047.4 1523.2,1047.1 1524.1,1046.8 1525.1,1046.5 1526,1046.1 1527,1045.8 1527.9,1045.5 1528.9,1045.1 1529.8,1044.8 1530.8,1044.4 1531.8,1044.1 1532.7,1043.7 1533.7,1043.3 1534.6,1042.9 1535.6,1042.5 1536.5,1042.1 1537.5,1041.7 1538.4,1041.3 1539.4,1040.9 1540.3,1040.4 1541.3,1040 1542.2,1039.6 1543.2,1039.1 1544.1,1038.6 1545.1,1038.1 1546,1037.7 1547,1037.2 1548,1036.6 1548.9,1036.1 1549.9,1035.6 1550.8,1035 1551.8,1034.5 1552.7,1033.9 1553.7,1033.3 1554.6,1032.7 1555.6,1032.1 1556.5,1031.5 1557.5,1030.8 1558.4,1030.2 1559.4,1029.5 1560.3,1028.8 1561.3,1028.1 1562.2,1027.3 1563.2,1026.6 1564.2,1025.8 1565.1,1025 1566.1,1024.1 1567,1023.3 1568,1022.4 1568.9,1021.4 1569.9,1020.5 1570.8,1019.5 1571.8,1018.4 1572.7,1017.3 1573.7,1016.2 1574.6,1015.1 1575.6,1013.9 1576.5,1012.6 1577.5,1011.3 1578.4,1009.9 1579.4,1008.5 1580.4,1007 1581.3,1005.5 1582.3,1003.9 1583.2,1002.2 1584.2,1000.5 1585.1,998.7 1586.1,996.8 1587,994.9 1588,992.9 1588.9,990.8 1589.9,988.7 1590.8,986.4 1591.8,984.1 1592.7,981.8 1593.7,979.3 1594.6,976.8 1595.6,974.2 1596.6,971.6 1597.5,968.9 1598.5,966.1 1599.4,963.3 1600.4,960.4 1601.3,957.5 1602.3,954.6 1603.2,951.6 1604.2,948.7 1605.1,945.7 1606.1,942.7 1607,939.7 1608,936.7 1608.9,933.8 1609.9,930.9 1610.8,928 1611.8,925.2 1612.8,922.5 1613.7,919.9 1614.7,917.4 1615.6,915 1616.6,912.7 1617.5,910.5 1618.5,908.5 1619.4,906.7 1620.4,905 1621.3,903.5 1622.3,902.2 1623.2,901.1 1624.2,900.2 1625.1,899.5 1626.1,899.1 1627,898.8 1628,898.8 1629,899.1 1629.9,899.6 1630.9,900.3 1631.8,901.3 1632.8,902.6 1633.7,904.1 1634.7,905.9 1635.6,907.8 1636.6,910 1637.5,912.4 1638.5,915 1639.4,917.8 1640.4,920.7 1641.3,923.8 1642.3,927 1643.2,930.4 1644.2,933.9 1645.2,937.5 1646.1,941.2 1647.1,944.9 1648,948.7 1649,952.5 1649.9,956.4 1650.9,960.3 1651.8,964.2 1652.8,968.1 1653.7,971.9 1654.7,975.8 1655.6,979.5 1656.6,983.3 1657.5,987 1658.5,990.6 1659.4,994.1 1660.4,997.5 1661.4,1000.9 1662.3,1004.1 1663.3,1007.3 1664.2,1010.3 1665.2,1013.3 1666.1,1016.1 1667.1,1018.8 1668,1021.4 1669,1023.9 1669.9,1026.3 1670.9,1028.6 1671.8,1030.7 1672.8,1032.8 1673.7,1034.7 1674.7,1036.5 1675.6,1038.3 1676.6,1039.9 1677.5,1041.4 1678.5,1042.9 1679.5,1044.2 1680.4,1045.5 1681.4,1046.7 1682.3,1047.8 1683.3,1048.8 1684.2,1049.7 1685.2,1050.6 1686.1,1051.4 1687.1,1052.2 1688,1052.9 1689,1053.6 1689.9,1054.2 1690.9,1054.7 1691.8,1055.2 1692.8,1055.7 1693.7,1056.1 1694.7,1056.5 1695.7,1056.9 1696.6,1057.2 1697.6,1057.6 1698.5,1057.8 1699.5,1058.1 1700.4,1058.3 1701.4,1058.6 1702.3,1058.8 1703.3,1059 1704.2,1059.1 1705.2,1059.3 1706.1,1059.4 1707.1,1059.6 1708,1059.7 1709,1059.8 1709.9,1059.9 1710.9,1060 1711.9,1060.1 1712.8,1060.2 1713.8,1060.3 1714.7,1060.4 1715.7,1060.5 1716.6,1060.5 1717.6,1060.6 1718.5,1060.7 1719.5,1060.7 1720.4,1060.8 1721.4,1060.8 1722.3,1060.9 1723.3,1060.9 1724.2,1061 1725.2,1061 1726.1,1061.1 1727.1,1061.1 1728.1,1061.2 1729,1061.2 1730,1061.3 1730.9,1061.3 1731.9,1061.3 1732.8,1061.4 1733.8,1061.4 1734.7,1061.4 1735.7,1061.5 1736.6,1061.5 1737.6,1061.5 1738.5,1061.6 1739.5,1061.6 1740.4,1061.6 1741.4,1061.7 1742.3,1061.7 1743.3,1061.7" fill="none" stroke="#000" stroke-width="2.9" stroke-linejoin="round"/>
<path d="M1267.8 1060h0M1270.4 1059.1h0M1273.1 1062.2h0M1275.7 1060.9h0M1278.4 1059.3h0M1281 1058.8h0M1283.7 1059.6h0M1286.3 1058.5h0M1288.9 1058.8h0M1291.6 1058.4h0M1294.2 1059h0M1296.9 1059.5h0M1299.5 1058.6h0M1302.1 1057.4h0M1304.8 1056.8h0M1307.4 1053.7h0M1310.1 1051.4h0M1312.7 1049.1h0M1315.4 1047.5h0M1318 1043.7h0M1320.6 1041.1h0M1323.3 1036.6h0M1325.9 1030.2h0M1328.6 1024.2h0M1331.2 1019.7h0M1333.8 1014.6h0M1336.5 1008.4h0M1339.1 1004.7h0M1341.8 998.5h0M1344.4 995h0M1347 991.7h0M1349.7 986.8h0M1352.3 983.1h0M1355 982.1h0M1357.6 978.8h0M1360.3 979h0M1362.9 979.5h0M1365.5 980.7h0M1368.2 980.3h0M1370.8 984h0M1373.5 987.9h0M1376.1 987.3h0M1378.7 992.7h0M1381.4 995.5h0M1384 998.1h0M1386.7 1000.1h0M1389.3 1005.4h0M1392 1007.7h0M1394.6 1011.6h0M1397.2 1015.4h0M1399.9 1014.8h0M1402.5 1016.2h0M1405.2 1018.8h0M1407.8 1019.3h0M1410.4 1020.8h0M1413.1 1020.6h0M1415.7 1018.8h0M1418.4 1017.2h0M1421 1017.3h0M1423.7 1014.5h0M1426.3 1012.3h0M1428.9 1011.2h0M1431.6 1008.2h0M1434.2 1005.4h0M1436.9 1006.6h0M1439.5 1002.6h0M1442.2 1002.9h0M1444.8 998.1h0M1447.4 994.8h0M1450.1 992.2h0M1452.7 989.7h0M1455.4 985.6h0M1458 982.9h0M1460.6 978.6h0M1463.3 975.4h0M1465.9 969.2h0M1468.6 965.1h0M1471.2 959.2h0M1473.9 952.9h0M1476.5 943.5h0M1479.1 937.7h0M1481.8 927h0M1484.4 911.8h0M1487.1 900.1h0M1489.7 885.4h0M1492.3 868.6h0M1495 852.6h0M1497.6 835.6h0M1500.3 822.8h0M1502.9 806.5h0M1505.5 794.3h0M1508.2 785.6h0M1510.8 784.5h0M1513.5 781.4h0M1516.1 789.9h0M1518.8 798.5h0M1521.4 808.8h0M1524 822.2h0M1526.7 837.9h0M1529.3 854.8h0M1532 871.2h0M1534.6 887.6h0M1537.2 903.6h0M1539.9 915.5h0M1542.5 932h0M1545.2 940.4h0M1547.8 946.4h0M1550.5 951.8h0M1553.1 956.9h0M1555.7 957.7h0M1558.4 960.2h0M1561 963.5h0M1563.7 962h0M1566.3 962.5h0M1568.9 961.9h0M1571.6 964.2h0M1574.2 962.3h0M1576.9 961.2h0M1579.5 958.5h0M1582.2 958.7h0M1584.8 955.8h0M1587.4 954.5h0M1590.1 951.2h0M1592.7 948.2h0M1595.4 944h0M1598 942.4h0M1600.7 938.7h0M1603.3 930.7h0M1605.9 926.4h0M1608.6 920.4h0M1611.2 914.9h0M1613.9 908.7h0M1616.5 903.4h0M1619.1 900.3h0M1621.8 897.5h0M1624.4 897.6h0M1627.1 894.9h0M1629.7 897.9h0M1632.4 899.9h0M1635 905.4h0M1637.6 911.2h0M1640.3 919.5h0M1642.9 928.3h0M1645.6 938.3h0M1648.2 948.7h0M1650.8 958.1h0M1653.5 968.2h0M1656.1 979.7h0M1658.8 989.5h0M1661.4 995.6h0M1664 1007.7h0M1666.7 1015.4h0M1669.3 1019.5h0M1672 1028.4h0M1674.6 1032.7h0M1677.3 1037.2h0M1679.9 1041.2h0M1682.5 1044.7h0M1685.2 1046.7h0M1687.8 1047.7h0M1690.5 1049.3h0M1693.1 1052.7h0M1695.7 1051.5h0M1698.4 1053.2h0M1701 1051.8h0M1703.7 1052.3h0M1706.3 1053.6h0M1709 1053.6h0M1711.6 1053.5h0M1714.2 1053.3h0M1716.9 1052.6h0M1719.5 1053.8h0M1722.2 1053.7h0M1724.8 1053.4h0M1727.4 1053.2h0M1730.1 1051.8h0M1732.7 1052.5h0M1735.4 1052.8h0M1738 1052h0M1740.7 1051.5h0M1743.3 1051h0" fill="none" stroke="#000" stroke-width="7.4" stroke-linecap="round"/>
<rect x="1267.8" y="587.3" width="475.5" height="475.5" fill="none" stroke="#000" stroke-width="3.0"/>
<path d="M1743.3 1062.8v16.5M1716.9 1062.8v8.8M1690.5 1062.8v8.8M1664 1062.8v16.5M1637.6 1062.8v8.8M1611.2 1062.8v8.8M1584.8 1062.8v16.5M1558.4 1062.8v8.8M1532 1062.8v8.8M1505.5 1062.8v16.5M1479.1 1062.8v8.8M1452.7 1062.8v8.8M1426.3 1062.8v16.5M1399.9 1062.8v8.8M1373.5 1062.8v8.8M1347 1062.8v16.5M1320.6 1062.8v8.8M1294.2 1062.8v8.8M1267.8 1062.8v16.5" fill="none" stroke="#000" stroke-width="2.8"/>
<text transform="translate(0,1116) scale(1,1.04)" x="1743.3" y="0" font-size="33.5" text-anchor="middle">450</text>
<text transform="translate(0,1116) scale(1,1.04)" x="1664" y="0" font-size="33.5" text-anchor="middle">453</text>
<text transform="translate(0,1116) scale(1,1.04)" x="1584.8" y="0" font-size="33.5" text-anchor="middle">456</text>
<text transform="translate(0,1116) scale(1,1.04)" x="1505.5" y="0" font-size="33.5" text-anchor="middle">459</text>
<text transform="translate(0,1116) scale(1,1.04)" x="1426.3" y="0" font-size="33.5" text-anchor="middle">462</text>
<text transform="translate(0,1116) scale(1,1.04)" x="1347" y="0" font-size="33.5" text-anchor="middle">465</text>
<text transform="translate(0,1116) scale(1,1.04)" x="1267.8" y="0" font-size="33.5" text-anchor="middle">468</text>
<text transform="translate(0,649.5) scale(1,1.04)" font-size="41"><tspan x="1291.8" y="0">(f)</tspan></text>
<text transform="translate(0,649.5) scale(1,1.04)" font-size="41"><tspan x="1567.7" y="0">Ti: Ti 2p</tspan></text>
<text transform="translate(0,716.5) scale(1,1.04)" font-size="33.5"><tspan x="1494" y="0">Ti</tspan><tspan x="1520.7" y="-12.9" font-size="23.4">4+</tspan></text><line x1="1494" y1="720.3" x2="1520.7" y2="720.3" stroke="#000" stroke-width="2.6"/>
<text transform="translate(0,761) scale(1,1.04)" font-size="33.5"><tspan x="1471.1" y="0">458.7</tspan></text>
<text transform="translate(0,827) scale(1,1.04)" font-size="33.5"><tspan x="1651" y="0">Ti</tspan><tspan x="1677.7" y="-12.9" font-size="23.4">0</tspan></text><line x1="1651" y1="830.8" x2="1677.7" y2="830.8" stroke="#000" stroke-width="2.6"/>
<text transform="translate(0,870.6) scale(1,1.04)" font-size="33.5"><tspan x="1627.1" y="0">454.2</tspan></text>
<text transform="translate(0,929) scale(1,1.04)" font-size="33.5"><tspan x="1556" y="0">Ti</tspan><tspan x="1582.7" y="-12.9" font-size="23.4">2+</tspan></text><line x1="1556" y1="932.8" x2="1582.7" y2="932.8" stroke="#000" stroke-width="2.6"/>
<rect x="1529" y="967" width="85" height="38" fill="#fff" stroke="#000" stroke-width="1.6"/>
<text transform="translate(0,998) scale(1,1.04)" font-size="33.5"><tspan x="1529.6" y="0">456.5</tspan></text>
<text transform="translate(0,1153) scale(1,1.04)" font-size="33.5"><tspan x="1450.2" y="0">E</tspan><tspan x="1472.6" y="9.5" font-size="23.4">B</tspan><tspan x="1488.2" y="0"> (eV)</tspan></text>
<text transform="translate(35.2,554.7) rotate(-90) scale(1,1.04)" font-size="41" text-anchor="middle">Normalized XPS signal intensity (a.u.)</text>
</svg>
</body>
</html>
